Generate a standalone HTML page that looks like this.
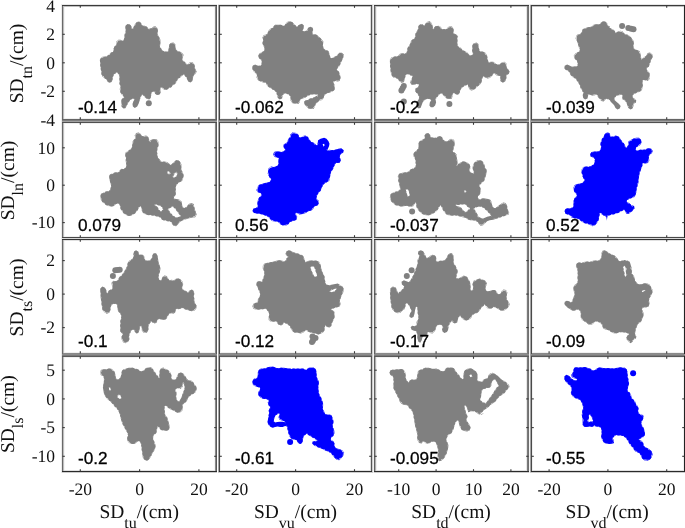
<!DOCTYPE html><html><head><meta charset="utf-8"><style>html,body{margin:0;padding:0;background:#fff;overflow:hidden}svg{display:block;will-change:transform}.s{font-family:"Liberation Serif",serif;text-rendering:geometricPrecision}.a{font-family:"Liberation Sans",sans-serif}</style></head><body>
<svg width="685" height="528" viewBox="0 0 685 528">
<path d="M100.3,65.8 L101.5,74.3 L102.6,76.7 L106.4,79.5 L107.8,81.9 L109.7,82.8 L111.6,81.9 L112.6,79.5 L113.0,76.7 L114.0,74.3 L117.3,72.4 L118.7,74.3 L119.7,76.7 L119.2,80.0 L119.5,83.8 L120.6,86.6 L119.7,89.0 L120.4,92.3 L122.0,95.1 L124.4,97.0 L122.5,98.5 L121.1,100.4 L121.1,103.7 L121.6,106.7 L123.5,108.6 L125.4,108.2 L128.2,102.7 L130.1,99.9 L132.5,98.5 L134.6,99.4 L133.4,101.3 L132.5,104.1 L132.9,106.5 L134.8,107.9 L137.2,106.5 L138.6,103.7 L141.0,96.6 L142.4,94.2 L145.2,97.8 L147.4,98.9 L149.3,99.4 L150.7,98.0 L151.2,95.6 L151.2,93.2 L152.6,91.8 L154.5,91.4 L155.0,93.7 L156.9,95.1 L159.3,94.7 L160.7,92.8 L160.2,89.0 L161.2,87.1 L162.6,88.5 L164.5,89.9 L166.8,89.9 L168.7,88.0 L171.1,87.6 L172.0,85.7 L173.9,84.7 L175.8,83.3 L176.8,80.9 L178.2,78.6 L180.6,77.2 L182.5,75.3 L183.9,74.3 L187.2,79.0 L188.1,81.4 L190.5,82.4 L192.4,80.9 L192.9,78.1 L193.8,75.3 L195.7,73.8 L196.7,71.5 L195.2,69.1 L194.7,66.0 L193.8,63.4 L192.4,62.0 L190.1,62.0 L187.3,64.8 L185.9,62.9 L184.0,61.5 L182.2,59.7 L182.7,57.4 L183.6,55.0 L182.7,53.2 L180.3,51.8 L177.6,51.3 L175.7,49.0 L175.7,46.7 L175.2,43.9 L173.4,42.5 L170.6,43.0 L169.2,44.8 L168.7,49.0 L167.8,51.8 L163.2,50.9 L161.3,49.0 L159.9,46.7 L160.4,43.4 L160.4,39.7 L157.6,34.2 L158.1,30.9 L157.1,27.7 L155.3,26.3 L153.0,26.7 L152.0,28.1 L149.7,28.6 L148.9,29.1 L146.1,26.3 L143.8,25.4 L141.9,25.4 L141.0,23.0 L139.2,21.6 L136.8,22.1 L135.0,24.0 L133.6,27.2 L132.2,29.1 L131.3,26.3 L129.9,24.4 L127.6,24.0 L125.7,25.4 L125.2,28.1 L125.7,31.4 L124.8,33.7 L123.8,39.7 L122.4,41.1 L120.6,39.7 L118.3,39.7 L116.4,41.6 L116.4,44.8 L114.6,46.7 L113.2,49.0 L113.2,51.8 L110.8,52.7 L109.0,54.6 L106.7,56.4 L103.9,56.0 L101.1,57.4 L99.9,59.7 L100.2,66.0 L100.3,65.8ZM101.1,65.4 L102.4,74.1 L103.3,76.1 L107.0,78.9 L108.5,81.2 L109.3,81.6 L107.9,81.1 L106.6,79.3 L103.2,76.7 L101.9,74.4 L100.4,65.0 L100.2,60.2 L100.5,59.1 L101.6,57.5 L103.4,56.6 L104.5,56.4 L106.8,56.7 L111.0,53.0 L113.4,52.0 L113.6,48.9 L114.8,46.9 L116.7,45.0 L116.8,42.1 L117.8,40.6 L119.0,40.1 L120.1,40.1 L122.5,41.4 L124.1,39.9 L125.1,33.8 L126.0,31.4 L125.6,28.3 L125.7,27.0 L126.0,26.3 L126.6,25.4 L127.5,24.9 L128.3,24.7 L129.3,24.9 L130.0,25.3 L130.9,26.3 L131.9,29.2 L132.3,29.3 L133.8,27.4 L135.4,24.0 L137.0,22.5 L138.7,22.2 L139.6,22.4 L140.5,23.1 L141.8,25.6 L143.7,25.7 L145.7,26.4 L148.8,29.3 L152.2,28.4 L153.1,27.5 L154.1,27.0 L155.4,27.1 L156.3,27.6 L157.1,28.7 L157.7,30.7 L157.3,34.3 L160.0,39.9 L160.1,43.2 L159.6,46.7 L161.2,49.3 L163.1,51.2 L167.9,52.1 L169.0,49.1 L169.5,45.4 L169.9,44.4 L170.9,43.4 L171.8,43.1 L173.1,43.1 L174.1,43.5 L174.8,44.3 L175.1,45.0 L175.4,46.7 L175.4,49.1 L177.3,51.5 L180.4,52.2 L182.1,53.3 L182.7,54.1 L182.9,55.7 L182.4,57.4 L182.0,59.9 L183.8,61.7 L185.6,63.1 L187.2,65.1 L189.5,63.0 L190.4,62.5 L191.9,62.5 L193.1,63.1 L193.7,64.0 L194.4,65.9 L195.0,69.2 L195.9,70.8 L196.0,71.9 L195.4,73.6 L193.6,75.1 L192.4,78.7 L191.7,79.8 L192.0,77.9 L193.0,74.9 L195.0,73.3 L195.7,71.5 L194.4,69.4 L193.8,66.2 L193.0,63.9 L192.0,62.9 L190.5,62.9 L187.9,65.5 L187.0,65.6 L185.3,63.6 L183.4,62.2 L181.6,60.3 L181.3,59.5 L181.8,57.1 L182.6,55.1 L182.0,53.8 L180.0,52.7 L177.3,52.2 L176.9,51.9 L174.9,49.4 L174.8,46.8 L174.4,44.4 L173.1,43.5 L171.1,43.8 L170.1,45.2 L169.6,49.2 L168.4,52.5 L167.6,52.7 L162.6,51.6 L160.6,49.6 L159.0,46.9 L159.5,43.4 L159.5,39.9 L156.7,34.4 L157.1,31.0 L156.4,28.2 L155.1,27.2 L153.5,27.6 L152.5,28.9 L148.6,29.9 L145.6,27.0 L143.6,26.3 L141.8,26.2 L141.4,26.0 L140.3,23.6 L138.9,22.6 L137.3,22.9 L135.7,24.5 L134.4,27.7 L132.9,29.7 L132.4,29.9 L131.9,29.9 L131.5,29.6 L130.5,26.7 L129.4,25.2 L127.8,24.9 L126.5,25.9 L126.1,28.1 L126.6,31.5 L125.6,33.9 L124.6,40.2 L123.0,41.8 L122.5,42.0 L122.0,41.9 L120.3,40.6 L118.6,40.6 L117.3,42.0 L117.2,45.3 L115.3,47.3 L114.1,49.3 L114.1,51.9 L113.8,52.4 L111.4,53.5 L109.6,55.3 L107.0,57.3 L104.0,56.9 L101.8,58.0 L100.8,59.9 L101.1,65.4ZM110.9,81.2 L111.7,79.3 L112.2,76.4 L113.2,73.8 L115.3,72.4 L116.9,71.6 L117.8,71.7 L119.5,73.8 L120.6,76.5 L120.1,80.0 L120.4,83.6 L121.5,86.5 L120.6,89.1 L121.3,92.0 L122.7,94.5 L125.0,96.4 L125.3,96.9 L125.1,97.6 L123.2,99.1 L122.0,100.7 L122.0,103.6 L122.4,106.0 L121.8,105.2 L121.5,104.4 L121.5,100.6 L122.7,98.8 L124.7,97.0 L122.3,94.9 L120.7,92.1 L120.1,89.0 L120.9,86.6 L119.8,83.6 L119.5,80.3 L120.0,76.6 L119.0,74.2 L117.5,72.2 L115.6,72.9 L113.8,74.1 L112.8,76.6 L112.0,80.2 L111.3,81.0 L110.9,81.3 L110.3,81.5 L110.9,81.2ZM125.2,106.5 L127.4,102.2 L129.6,99.2 L132.4,97.6 L135.4,98.9 L135.4,99.9 L134.8,99.2 L132.4,98.2 L129.9,99.6 L128.0,102.5 L126.5,105.5 L125.2,106.5ZM138.7,100.2 L140.2,96.2 L141.7,93.7 L142.3,93.3 L143.1,93.6 L145.8,97.1 L147.9,98.1 L149.0,98.4 L147.6,98.5 L145.7,97.7 L142.4,93.9 L140.7,96.4 L139.6,99.4 L138.7,100.2ZM149.9,97.5 L150.3,95.5 L150.3,93.2 L150.5,92.7 L152.3,91.0 L154.4,90.5 L155.1,90.6 L155.4,91.1 L155.7,92.5 L154.5,91.1 L152.5,91.6 L151.0,93.1 L150.9,95.6 L150.6,96.9 L150.0,97.8 L149.1,98.4 L149.9,97.5ZM159.3,89.1 L160.4,86.6 L161.0,86.2 L161.7,86.4 L164.8,89.0 L166.5,89.0 L168.3,87.2 L170.5,86.8 L171.4,85.0 L173.5,84.0 L175.1,82.7 L176.0,80.5 L177.5,78.0 L180.0,76.4 L181.9,74.6 L183.6,73.4 L184.5,73.6 L186.0,75.7 L188.0,78.6 L188.6,80.1 L187.7,79.3 L185.5,76.0 L184.1,74.1 L183.8,74.0 L182.3,75.0 L180.4,76.9 L178.0,78.4 L175.3,83.2 L173.8,84.5 L171.9,85.4 L170.6,87.1 L168.6,87.8 L166.9,89.3 L165.5,89.6 L164.1,89.2 L161.0,86.8 L159.9,88.9 L160.0,90.6 L159.6,91.8 L159.3,89.1Z" fill="#808080" fill-rule="evenodd"/>
<g fill="#808080"><circle cx="103.1" cy="64.9" r="3.0"/><circle cx="103.8" cy="69.1" r="3.0"/><circle cx="104.4" cy="73.2" r="3.0"/><circle cx="107.0" cy="76.2" r="3.0"/><circle cx="109.6" cy="78.6" r="3.0"/><circle cx="110.7" cy="74.5" r="3.0"/><circle cx="113.1" cy="71.3" r="3.0"/><circle cx="116.8" cy="69.5" r="3.0"/><circle cx="120.3" cy="71.4" r="3.0"/><circle cx="122.2" cy="75.1" r="3.0"/><circle cx="122.3" cy="79.1" r="3.0"/><circle cx="122.5" cy="83.3" r="3.0"/><circle cx="123.5" cy="87.3" r="3.0"/><circle cx="123.3" cy="91.3" r="3.0"/><circle cx="125.9" cy="94.5" r="3.0"/><circle cx="127.2" cy="98.0" r="3.0"/><circle cx="124.4" cy="101.0" r="3.0"/><circle cx="124.7" cy="103.1" r="3.0"/><circle cx="126.8" cy="99.5" r="3.0"/><circle cx="129.8" cy="96.7" r="3.0"/><circle cx="133.6" cy="95.7" r="3.0"/><circle cx="137.1" cy="97.8" r="3.0"/><circle cx="138.8" cy="94.3" r="3.0"/><circle cx="141.6" cy="91.4" r="3.0"/><circle cx="145.1" cy="92.9" r="3.0"/><circle cx="148.0" cy="95.8" r="3.0"/><circle cx="148.6" cy="91.9" r="3.0"/><circle cx="151.6" cy="89.0" r="3.0"/><circle cx="155.6" cy="88.7" r="3.0"/><circle cx="157.3" cy="88.7" r="3.0"/><circle cx="159.1" cy="85.0" r="3.0"/><circle cx="162.8" cy="84.7" r="3.0"/><circle cx="166.1" cy="86.5" r="3.0"/><circle cx="169.5" cy="84.4" r="3.0"/><circle cx="172.7" cy="81.8" r="3.0"/><circle cx="174.8" cy="78.4" r="3.0"/><circle cx="177.7" cy="75.4" r="3.0"/><circle cx="180.8" cy="72.8" r="3.0"/><circle cx="184.6" cy="71.5" r="3.0"/><circle cx="187.5" cy="74.3" r="3.0"/><circle cx="189.9" cy="77.7" r="3.0"/><circle cx="191.2" cy="73.8" r="3.0"/><circle cx="192.7" cy="70.7" r="3.0"/><circle cx="191.8" cy="66.6" r="3.0"/><circle cx="189.3" cy="66.9" r="3.0"/><circle cx="185.6" cy="67.2" r="3.0"/><circle cx="182.7" cy="64.2" r="3.0"/><circle cx="179.7" cy="61.3" r="3.0"/><circle cx="179.6" cy="57.3" r="3.0"/><circle cx="178.4" cy="54.5" r="3.0"/><circle cx="174.8" cy="52.7" r="3.0"/><circle cx="172.8" cy="49.2" r="3.0"/><circle cx="172.1" cy="46.2" r="3.0"/><circle cx="171.4" cy="50.3" r="3.0"/><circle cx="169.7" cy="54.1" r="3.0"/><circle cx="165.8" cy="54.4" r="3.0"/><circle cx="161.7" cy="53.4" r="3.0"/><circle cx="158.8" cy="50.5" r="3.0"/><circle cx="157.0" cy="46.8" r="3.0"/><circle cx="157.3" cy="42.7" r="3.0"/><circle cx="156.5" cy="38.7" r="3.0"/><circle cx="154.7" cy="34.9" r="3.0"/><circle cx="154.9" cy="30.8" r="3.0"/><circle cx="152.1" cy="31.2" r="3.0"/><circle cx="148.0" cy="31.9" r="3.0"/><circle cx="144.9" cy="29.3" r="3.0"/><circle cx="141.0" cy="28.1" r="3.0"/><circle cx="138.5" cy="25.0" r="3.0"/><circle cx="136.4" cy="28.2" r="3.0"/><circle cx="133.9" cy="31.5" r="3.0"/><circle cx="130.1" cy="31.2" r="3.0"/><circle cx="128.4" cy="27.5" r="3.0"/><circle cx="128.6" cy="31.7" r="3.0"/><circle cx="127.5" cy="35.7" r="3.0"/><circle cx="126.9" cy="39.8" r="3.0"/><circle cx="124.6" cy="43.2" r="3.0"/><circle cx="120.8" cy="43.6" r="3.0"/><circle cx="119.3" cy="45.3" r="3.0"/><circle cx="116.9" cy="48.6" r="3.0"/><circle cx="116.0" cy="52.6" r="3.0"/><circle cx="113.0" cy="55.1" r="3.0"/><circle cx="109.8" cy="57.8" r="3.0"/><circle cx="106.1" cy="59.4" r="3.0"/><circle cx="102.9" cy="60.8" r="3.0"/><circle cx="148.8" cy="103.2" r="3.0"/></g>
<path d="M259.4,65.8 L257.5,65.8 L255.1,64.4 L252.7,65.8 L252.3,69.1 L253.7,71.5 L255.6,72.9 L257.0,75.3 L256.5,77.6 L257.9,80.0 L260.3,81.4 L263.2,82.4 L266.0,82.8 L266.5,84.7 L267.9,86.6 L274.5,90.4 L276.4,92.3 L276.9,95.1 L277.8,98.0 L279.7,99.4 L282.1,98.5 L282.6,96.1 L283.5,94.2 L285.4,93.2 L287.8,94.2 L289.7,95.6 L290.6,98.0 L290.6,100.8 L292.5,103.2 L298.4,104.1 L299.8,102.2 L300.3,99.4 L305.5,97.5 L308.3,95.6 L311.6,94.7 L314.9,94.2 L318.3,94.7 L317.3,95.6 L312.6,98.0 L310.2,98.5 L307.8,99.9 L305.5,100.4 L304.0,101.8 L304.5,104.1 L306.4,106.5 L308.3,108.4 L311.2,108.9 L313.5,108.9 L314.9,107.0 L315.4,104.6 L317.3,102.2 L319.7,100.8 L322.0,99.9 L323.5,98.0 L324.4,95.1 L326.8,93.2 L329.6,92.8 L332.0,91.8 L334.4,89.9 L334.8,87.1 L334.4,84.3 L332.9,81.9 L335.3,80.9 L337.7,81.4 L339.6,80.9 L340.5,78.1 L340.0,74.3 L338.6,71.5 L336.7,69.6 L337.7,67.7 L339.6,66.0 L340.5,63.4 L343.3,57.8 L343.8,54.6 L341.9,52.7 L339.2,52.7 L337.3,55.5 L335.0,56.4 L333.1,57.8 L331.3,58.3 L329.9,56.0 L329.4,53.2 L328.5,50.9 L325.7,49.9 L323.4,48.6 L322.9,44.8 L323.4,41.6 L321.1,38.8 L318.7,36.5 L316.0,34.6 L312.7,34.6 L312.2,32.3 L313.2,30.0 L312.7,27.7 L310.4,26.7 L308.1,27.7 L307.1,30.0 L304.8,31.4 L302.5,30.9 L303.4,28.6 L303.9,25.4 L302.0,23.7 L298.6,24.9 L297.6,26.7 L295.8,25.8 L292.1,22.1 L289.3,21.2 L287.0,22.1 L285.6,24.0 L284.7,25.8 L281.9,24.9 L278.6,24.4 L275.8,24.4 L274.0,25.8 L273.1,27.7 L270.7,28.6 L268.9,30.0 L268.0,32.3 L266.6,34.6 L263.8,35.1 L262.4,37.4 L263.3,40.2 L262.4,43.0 L263.3,45.8 L264.7,48.6 L264.2,50.9 L261.9,52.3 L259.6,53.2 L258.2,55.5 L259.1,58.3 L261.5,60.2 L261.7,64.8 L259.4,65.8ZM255.7,72.6 L253.9,71.2 L252.8,69.4 L252.8,67.7 L253.4,66.3 L254.3,65.6 L254.8,65.5 L255.3,65.4 L256.3,65.5 L257.4,66.1 L259.4,66.1 L262.0,64.9 L261.7,60.0 L259.5,58.1 L258.9,56.7 L258.8,55.7 L259.2,54.5 L260.0,53.5 L262.1,52.5 L264.5,50.9 L265.0,48.5 L263.5,45.5 L262.8,43.1 L263.6,40.2 L263.1,38.4 L263.0,37.4 L263.7,36.0 L264.7,35.3 L266.8,34.9 L269.4,30.1 L271.0,28.8 L273.2,27.9 L274.4,26.0 L276.1,24.8 L278.4,24.7 L281.6,25.1 L284.7,26.1 L287.0,22.6 L288.4,21.9 L289.4,21.7 L292.0,22.5 L295.6,26.0 L297.6,27.0 L297.9,27.0 L298.4,26.1 L299.2,25.4 L300.9,25.0 L299.2,25.6 L298.3,27.4 L297.4,27.6 L295.2,26.5 L291.6,22.9 L289.3,22.1 L287.5,22.8 L285.0,26.6 L284.5,26.7 L281.7,25.8 L278.6,25.3 L276.1,25.3 L274.7,26.4 L273.6,28.4 L271.2,29.4 L269.6,30.6 L268.8,32.7 L267.2,35.2 L266.8,35.5 L264.3,35.9 L263.4,37.5 L264.2,40.2 L263.3,43.0 L264.1,45.4 L265.6,48.5 L265.1,51.2 L262.4,53.0 L260.2,53.9 L259.2,55.6 L259.9,57.8 L262.3,59.9 L262.6,65.2 L262.1,65.6 L259.4,66.7 L257.2,66.7 L255.1,65.4 L253.6,66.3 L253.2,68.9 L254.4,70.9 L256.3,72.4 L257.8,74.9 L257.5,77.5 L258.6,79.3 L260.7,80.6 L263.4,81.5 L266.5,82.1 L266.8,82.5 L267.3,84.3 L268.5,85.9 L275.2,89.8 L277.2,91.9 L277.8,94.9 L278.4,97.0 L277.7,96.3 L277.3,95.6 L276.6,92.1 L274.6,90.1 L268.1,86.4 L266.8,84.6 L266.2,82.6 L263.2,82.1 L260.7,81.2 L258.1,79.6 L257.0,77.5 L257.3,75.2 L255.7,72.6ZM302.8,26.3 L303.2,28.1 L302.2,30.8 L302.3,31.2 L304.9,31.7 L308.3,29.6 L307.8,30.5 L305.0,32.3 L301.9,31.6 L301.6,30.8 L302.5,28.4 L302.8,26.3ZM311.8,31.2 L312.5,34.9 L315.3,34.9 L316.5,35.4 L318.7,36.9 L322.4,41.0 L322.9,42.4 L322.6,44.8 L323.1,48.7 L325.6,50.2 L327.5,50.9 L328.3,51.6 L329.1,53.3 L329.6,56.1 L331.1,58.5 L333.2,58.1 L335.2,56.7 L337.4,55.8 L338.7,54.1 L339.8,53.4 L340.9,53.4 L341.9,53.7 L342.7,54.4 L343.2,55.6 L343.0,57.9 L340.3,63.2 L339.5,65.4 L337.4,67.5 L336.4,69.5 L338.4,71.8 L339.7,74.3 L340.1,77.7 L339.6,79.6 L339.0,80.4 L338.0,80.9 L337.0,81.0 L335.3,80.6 L332.7,81.7 L332.7,82.0 L334.0,84.4 L334.4,86.6 L334.2,88.7 L333.8,89.8 L331.5,91.7 L329.5,92.5 L326.5,93.1 L324.2,95.0 L323.2,97.7 L322.1,99.2 L321.4,99.8 L319.7,100.4 L318.8,100.3 L321.5,99.1 L322.7,97.6 L323.7,94.6 L326.2,92.5 L329.4,91.9 L331.5,91.0 L333.5,89.4 L333.9,87.1 L333.5,84.6 L332.1,82.1 L332.3,81.2 L335.1,80.1 L337.6,80.5 L338.9,80.2 L339.6,78.0 L339.2,74.6 L337.9,72.0 L336.0,70.1 L335.8,69.4 L337.0,67.1 L338.8,65.5 L339.7,63.0 L342.5,57.6 L342.8,54.9 L341.6,53.6 L339.6,53.6 L337.8,56.3 L335.4,57.2 L333.4,58.7 L331.4,59.2 L330.7,59.0 L329.0,56.3 L328.5,53.4 L327.8,51.6 L325.3,50.8 L322.6,48.9 L322.0,44.9 L322.4,41.9 L318.2,37.2 L315.7,35.5 L312.6,35.5 L312.1,35.3 L311.3,32.4 L311.8,31.2ZM318.0,100.8 L315.2,104.5 L314.7,106.5 L314.3,107.4 L313.6,108.1 L312.6,108.5 L310.9,108.5 L308.3,107.9 L305.4,104.7 L304.8,103.5 L304.8,102.7 L305.1,101.7 L306.2,100.6 L307.9,100.2 L310.5,98.7 L312.7,98.3 L314.7,97.3 L316.0,97.3 L312.9,98.8 L310.5,99.3 L308.2,100.7 L305.9,101.2 L305.0,102.1 L305.4,103.7 L308.7,107.6 L311.2,108.0 L313.1,108.0 L314.1,106.6 L314.7,104.1 L316.7,101.6 L318.0,100.8ZM316.9,96.8 L318.5,94.8 L318.4,94.4 L314.9,93.9 L311.5,94.4 L308.2,95.3 L305.2,97.3 L300.1,99.2 L299.3,102.3 L298.3,103.2 L297.1,103.6 L293.4,103.0 L292.2,102.3 L291.0,100.5 L290.9,97.9 L289.9,95.5 L287.8,93.9 L285.2,93.0 L283.3,94.0 L282.2,96.1 L281.5,96.9 L281.7,95.8 L282.8,93.6 L285.1,92.4 L285.7,92.4 L288.2,93.4 L290.4,95.1 L291.5,97.8 L291.5,100.5 L293.0,102.4 L298.0,103.2 L298.9,101.9 L299.4,99.2 L299.7,98.7 L305.1,96.7 L308.0,94.8 L311.4,93.8 L314.9,93.3 L318.7,93.9 L319.1,94.5 L319.0,95.2 L317.9,96.3 L316.9,96.8Z" fill="#808080" fill-rule="evenodd"/>
<g fill="#808080"><circle cx="255.4" cy="68.1" r="3.0"/><circle cx="258.0" cy="71.1" r="3.0"/><circle cx="259.9" cy="74.8" r="3.0"/><circle cx="261.0" cy="78.3" r="3.0"/><circle cx="265.0" cy="79.6" r="3.0"/><circle cx="268.6" cy="81.4" r="3.0"/><circle cx="270.7" cy="84.8" r="3.0"/><circle cx="274.3" cy="86.9" r="3.0"/><circle cx="277.6" cy="89.3" r="3.0"/><circle cx="279.6" cy="92.9" r="3.0"/><circle cx="280.9" cy="92.6" r="3.0"/><circle cx="284.4" cy="90.4" r="3.0"/><circle cx="288.4" cy="91.3" r="3.0"/><circle cx="291.8" cy="93.6" r="3.0"/><circle cx="293.5" cy="97.4" r="3.0"/><circle cx="295.1" cy="100.6" r="3.0"/><circle cx="297.4" cy="98.6" r="3.0"/><circle cx="300.5" cy="96.1" r="3.0"/><circle cx="304.4" cy="94.6" r="3.0"/><circle cx="308.0" cy="92.6" r="3.0"/><circle cx="312.0" cy="91.6" r="3.0"/><circle cx="316.2" cy="91.4" r="3.0"/><circle cx="320.1" cy="92.4" r="3.0"/><circle cx="321.5" cy="94.6" r="3.0"/><circle cx="324.2" cy="91.5" r="3.0"/><circle cx="327.9" cy="90.0" r="3.0"/><circle cx="331.6" cy="88.2" r="3.0"/><circle cx="330.9" cy="84.2" r="3.0"/><circle cx="330.4" cy="80.4" r="3.0"/><circle cx="333.9" cy="78.3" r="3.0"/><circle cx="337.4" cy="77.5" r="3.0"/><circle cx="336.3" cy="73.6" r="3.0"/><circle cx="333.9" cy="70.3" r="3.0"/><circle cx="335.0" cy="66.4" r="3.0"/><circle cx="337.5" cy="63.1" r="3.0"/><circle cx="339.2" cy="59.3" r="3.0"/><circle cx="340.2" cy="56.5" r="3.0"/><circle cx="336.9" cy="58.9" r="3.0"/><circle cx="333.3" cy="60.8" r="3.0"/><circle cx="329.3" cy="60.5" r="3.0"/><circle cx="327.1" cy="57.0" r="3.0"/><circle cx="325.9" cy="53.2" r="3.0"/><circle cx="322.2" cy="51.3" r="3.0"/><circle cx="320.3" cy="47.8" r="3.0"/><circle cx="320.1" cy="43.7" r="3.0"/><circle cx="318.2" cy="40.3" r="3.0"/><circle cx="315.0" cy="37.6" r="3.0"/><circle cx="311.0" cy="37.0" r="3.0"/><circle cx="309.5" cy="33.3" r="3.0"/><circle cx="306.7" cy="33.7" r="3.0"/><circle cx="302.7" cy="34.0" r="3.0"/><circle cx="299.6" cy="31.6" r="3.0"/><circle cx="300.5" cy="27.8" r="3.0"/><circle cx="297.1" cy="29.7" r="3.0"/><circle cx="293.5" cy="27.7" r="3.0"/><circle cx="290.5" cy="24.8" r="3.0"/><circle cx="287.5" cy="26.6" r="3.0"/><circle cx="284.3" cy="28.7" r="3.0"/><circle cx="280.3" cy="27.7" r="3.0"/><circle cx="276.3" cy="27.9" r="3.0"/><circle cx="273.4" cy="30.7" r="3.0"/><circle cx="270.7" cy="33.5" r="3.0"/><circle cx="268.4" cy="37.0" r="3.0"/><circle cx="266.0" cy="39.1" r="3.0"/><circle cx="265.6" cy="43.1" r="3.0"/><circle cx="267.2" cy="47.0" r="3.0"/><circle cx="267.2" cy="51.1" r="3.0"/><circle cx="264.7" cy="54.1" r="3.0"/><circle cx="261.6" cy="56.3" r="3.0"/><circle cx="264.3" cy="59.4" r="3.0"/><circle cx="264.6" cy="63.6" r="3.0"/><circle cx="263.4" cy="67.3" r="3.0"/><circle cx="259.5" cy="68.7" r="3.0"/><circle cx="321.0" cy="95.9" r="3.0"/><circle cx="315.4" cy="99.9" r="3.0"/><circle cx="311.4" cy="101.3" r="3.0"/><circle cx="307.5" cy="103.0" r="3.0"/><circle cx="310.5" cy="105.7" r="3.0"/><circle cx="312.8" cy="103.2" r="3.0"/></g>
<path d="M390.8,72.6 L391.8,75.5 L393.2,77.4 L396.1,77.9 L398.0,79.3 L399.5,81.3 L401.4,82.7 L403.8,82.2 L404.8,79.8 L405.3,76.5 L406.7,74.0 L408.6,74.5 L413.0,76.5 L411.2,79.2 L410.1,82.2 L411.2,84.6 L413.2,85.1 L416.8,83.7 L419.2,85.1 L417.8,87.2 L415.4,88.5 L415.4,91.4 L417.8,94.3 L419.2,96.7 L418.8,99.1 L417.3,101.5 L416.6,104.4 L417.0,107.3 L418.8,108.4 L420.7,107.8 L422.6,102.5 L424.1,100.5 L426.5,99.1 L429.4,99.1 L431.3,100.1 L429.8,102.5 L429.4,105.4 L430.8,107.3 L433.2,107.3 L435.1,105.4 L436.1,102.5 L435.6,99.6 L437.1,97.2 L439.0,94.8 L440.9,93.3 L442.8,94.3 L444.8,96.7 L446.7,98.4 L449.4,99.1 L451.4,99.1 L452.3,97.2 L452.8,93.8 L454.3,92.8 L455.7,94.3 L458.1,94.8 L459.6,92.8 L460.5,89.5 L462.0,87.5 L463.4,86.6 L465.8,85.6 L467.8,84.2 L468.2,86.6 L469.2,89.0 L471.1,90.4 L473.5,89.9 L480.8,83.7 L481.7,81.3 L482.2,78.4 L483.2,76.5 L487.5,78.4 L489.9,77.9 L491.8,76.0 L493.3,74.0 L494.7,73.1 L495.7,75.0 L498.1,76.0 L500.5,76.0 L500.0,78.4 L500.5,81.3 L502.9,82.7 L505.3,81.3 L506.3,78.4 L506.3,75.0 L508.7,74.0 L509.7,71.6 L506.8,67.8 L506.8,66.0 L506.3,63.2 L504.4,61.8 L502.0,62.3 L500.5,63.7 L498.1,64.7 L495.7,63.7 L493.3,61.8 L490.9,61.8 L488.5,62.3 L487.5,58.4 L487.0,55.1 L485.1,52.6 L482.7,51.7 L479.8,51.2 L478.8,47.8 L478.4,44.0 L476.4,42.5 L473.5,43.5 L472.1,45.9 L472.1,50.7 L473.1,54.6 L470.6,55.5 L468.7,54.6 L467.3,52.6 L465.3,51.2 L462.5,50.2 L460.5,47.4 L458.1,46.4 L457.2,43.5 L458.1,36.3 L455.7,34.3 L453.3,32.9 L453.8,29.5 L452.0,26.6 L450.1,26.2 L448.1,27.1 L446.7,29.0 L441.9,29.0 L440.9,27.1 L438.5,25.7 L435.6,26.2 L434.2,27.6 L433.2,29.5 L432.7,26.6 L431.8,23.3 L429.8,21.3 L427.4,21.8 L425.5,23.7 L424.1,25.7 L422.6,24.2 L420.2,24.2 L418.3,26.2 L418.3,29.0 L416.4,31.5 L415.4,34.3 L414.9,37.7 L413.5,39.2 L411.1,40.6 L410.1,44.0 L407.2,48.8 L406.7,52.6 L404.8,54.1 L402.4,53.1 L399.5,54.1 L398.0,56.0 L394.7,56.5 L391.3,57.5 L389.9,59.4 L390.0,66.0 L390.8,72.6ZM391.2,69.6 L391.7,72.4 L392.6,75.1 L393.7,76.6 L396.6,77.1 L398.6,78.7 L400.1,80.6 L401.6,81.8 L403.2,81.4 L403.9,79.6 L404.4,76.2 L406.3,73.2 L406.8,73.2 L408.9,73.7 L413.5,75.7 L413.8,76.2 L413.8,76.8 L412.1,79.6 L411.1,82.2 L411.9,83.8 L411.0,82.8 L410.8,81.3 L411.5,79.3 L413.3,76.4 L408.8,74.3 L406.8,73.8 L406.5,73.9 L405.0,76.4 L404.2,80.5 L403.3,81.5 L402.1,81.9 L401.1,81.9 L400.2,81.4 L398.3,79.1 L396.3,77.6 L394.0,77.2 L392.9,76.5 L391.9,74.9 L391.1,72.5 L390.7,69.8 L390.3,66.0 L390.3,59.7 L390.9,58.5 L391.9,57.7 L394.5,56.9 L398.2,56.3 L399.3,54.8 L400.2,54.2 L402.5,53.6 L404.8,54.4 L406.9,52.9 L407.5,48.9 L410.4,44.1 L411.2,41.4 L411.8,40.6 L413.7,39.4 L415.2,37.8 L415.8,34.2 L416.7,31.6 L418.6,29.1 L418.6,27.1 L419.0,25.9 L420.1,24.9 L421.4,24.6 L422.7,24.9 L424.2,25.9 L427.2,22.5 L427.8,22.1 L428.9,21.9 L430.4,22.4 L431.5,23.6 L432.4,26.5 L432.9,29.6 L433.2,29.8 L433.5,29.7 L434.4,27.9 L435.4,26.9 L436.1,26.4 L437.5,26.2 L438.8,26.3 L440.2,27.1 L441.9,29.3 L446.8,29.3 L448.1,27.7 L449.0,27.0 L450.3,26.7 L451.6,27.1 L452.4,27.8 L453.3,29.5 L453.1,33.1 L456.6,35.5 L457.5,36.8 L457.6,37.9 L456.9,43.5 L457.9,46.5 L460.2,47.7 L462.3,50.5 L465.3,51.6 L467.1,53.0 L468.5,54.8 L470.5,55.8 L473.2,54.8 L473.3,54.5 L472.4,50.7 L472.5,46.0 L473.4,44.4 L474.2,43.7 L475.5,43.3 L476.8,43.6 L477.6,44.2 L478.1,45.1 L478.5,47.9 L479.6,51.4 L482.6,52.0 L484.5,52.8 L485.2,53.2 L486.4,54.8 L488.3,62.5 L490.9,62.1 L493.0,62.2 L495.5,64.0 L498.1,65.0 L500.7,64.0 L502.4,62.6 L503.6,62.3 L504.6,62.5 L505.5,63.1 L506.1,64.0 L506.5,66.1 L506.5,67.9 L508.4,70.5 L508.8,71.9 L508.1,73.6 L506.0,74.9 L505.7,76.1 L506.0,78.2 L505.7,79.3 L504.9,80.5 L503.9,81.1 L504.6,80.7 L505.4,78.2 L505.5,74.6 L505.9,74.2 L508.0,73.4 L508.6,71.8 L505.9,68.1 L505.9,66.1 L505.5,63.8 L504.1,62.8 L502.4,63.1 L500.9,64.5 L498.1,65.6 L495.3,64.5 L493.0,62.7 L491.0,62.7 L488.6,63.2 L488.0,63.0 L487.6,62.6 L486.6,58.6 L486.2,55.4 L484.5,53.4 L482.4,52.6 L479.6,52.1 L479.1,51.8 L478.0,48.0 L477.5,44.5 L476.3,43.5 L474.1,44.2 L473.0,46.2 L473.0,50.6 L473.9,54.4 L473.8,55.1 L470.6,56.4 L468.3,55.4 L466.6,53.3 L464.9,52.0 L461.9,51.0 L459.9,48.1 L457.7,47.2 L457.3,46.8 L456.3,43.5 L457.2,36.7 L452.5,33.4 L452.4,32.9 L452.8,29.7 L451.5,27.4 L450.2,27.1 L448.7,27.8 L447.4,29.7 L446.9,29.9 L441.8,29.9 L441.2,29.6 L440.2,27.8 L438.3,26.6 L436.1,27.0 L434.9,28.1 L433.9,30.1 L433.0,30.4 L432.3,29.8 L431.9,26.8 L431.0,23.7 L429.5,22.3 L427.9,22.6 L424.4,26.5 L423.6,26.4 L422.2,25.1 L420.6,25.1 L419.2,26.5 L419.1,29.3 L417.2,31.9 L416.3,34.6 L415.7,38.1 L414.0,39.9 L411.8,41.2 L410.9,44.4 L408.1,49.1 L407.6,52.8 L407.3,53.3 L405.1,54.9 L404.5,55.0 L402.4,54.1 L400.0,54.9 L398.3,56.9 L394.9,57.4 L391.8,58.2 L390.8,59.7 L391.2,69.6ZM413.1,84.2 L416.9,82.8 L419.7,84.4 L420.1,84.8 L420.0,85.6 L418.5,87.8 L416.3,89.0 L416.3,91.1 L418.5,93.8 L420.1,96.5 L419.5,99.6 L419.3,98.4 L419.5,96.6 L418.0,94.1 L416.2,91.8 L415.7,90.3 L416.2,88.8 L416.7,88.2 L418.0,87.4 L419.5,85.0 L416.9,83.4 L413.8,84.4 L412.8,84.3 L411.9,83.9 L413.1,84.2ZM423.3,100.0 L426.2,98.2 L429.4,98.2 L431.8,99.3 L432.2,100.0 L432.2,100.2 L429.4,98.8 L426.4,98.8 L422.6,101.0 L423.3,100.0ZM434.8,100.0 L434.8,99.2 L436.3,96.7 L438.3,94.2 L440.8,92.4 L443.4,93.6 L445.4,96.1 L447.1,97.6 L449.6,98.2 L450.8,98.2 L451.5,96.9 L451.9,93.6 L452.2,93.2 L453.8,92.0 L454.4,91.9 L454.8,92.1 L456.2,93.4 L457.7,93.8 L458.7,92.4 L459.7,89.1 L461.3,86.9 L463.0,85.8 L465.4,84.8 L467.5,83.3 L468.1,83.3 L468.5,83.7 L469.1,86.3 L469.9,88.4 L471.3,89.5 L473.1,89.1 L480.0,83.1 L480.9,81.0 L481.4,78.1 L482.4,76.0 L482.9,75.6 L483.5,75.6 L487.6,77.4 L489.5,77.1 L491.2,75.4 L492.7,73.4 L494.7,72.2 L495.4,72.5 L496.3,74.3 L498.3,75.1 L500.8,75.1 L501.3,75.6 L500.9,78.4 L501.3,80.5 L500.7,79.7 L500.4,78.6 L500.9,76.2 L500.7,75.8 L498.2,75.6 L496.6,75.0 L495.8,74.3 L494.8,72.8 L493.1,73.8 L491.5,75.9 L490.1,77.2 L489.2,77.7 L488.1,77.9 L487.0,77.9 L483.1,76.2 L481.9,78.3 L481.4,81.2 L480.5,83.3 L475.6,87.9 L473.5,89.5 L471.6,89.9 L470.7,89.6 L469.9,89.1 L469.2,88.1 L468.5,86.5 L468.0,84.1 L467.7,83.9 L465.8,85.3 L463.3,86.3 L461.8,87.3 L460.3,89.3 L459.4,92.2 L458.4,93.5 L458.0,93.7 L457.4,93.9 L456.4,93.9 L455.4,93.5 L454.2,92.5 L452.6,93.6 L451.9,97.1 L451.5,97.7 L450.7,98.4 L449.2,98.6 L446.7,97.9 L445.0,96.5 L443.0,94.1 L440.9,93.0 L438.8,94.6 L436.9,96.9 L435.4,99.4 L434.8,100.0Z" fill="#808080" fill-rule="evenodd"/>
<g fill="#808080"><circle cx="393.0" cy="65.9" r="3.0"/><circle cx="393.5" cy="70.1" r="3.0"/><circle cx="394.5" cy="74.1" r="3.0"/><circle cx="398.2" cy="75.7" r="3.0"/><circle cx="401.3" cy="78.6" r="3.0"/><circle cx="402.4" cy="75.9" r="3.0"/><circle cx="404.3" cy="72.2" r="3.0"/><circle cx="408.1" cy="71.3" r="3.0"/><circle cx="412.1" cy="72.8" r="3.0"/><circle cx="415.5" cy="75.0" r="3.0"/><circle cx="414.9" cy="78.8" r="3.0"/><circle cx="414.4" cy="81.4" r="3.0"/><circle cx="418.4" cy="81.2" r="3.0"/><circle cx="421.8" cy="83.6" r="3.0"/><circle cx="421.2" cy="87.5" r="3.0"/><circle cx="418.5" cy="90.4" r="3.0"/><circle cx="421.0" cy="93.8" r="3.0"/><circle cx="422.1" cy="97.7" r="3.0"/><circle cx="424.9" cy="96.6" r="3.0"/><circle cx="429.0" cy="96.1" r="3.0"/><circle cx="432.9" cy="97.6" r="3.0"/><circle cx="435.3" cy="94.6" r="3.0"/><circle cx="438.2" cy="91.6" r="3.0"/><circle cx="442.1" cy="90.6" r="3.0"/><circle cx="445.5" cy="92.9" r="3.0"/><circle cx="448.5" cy="95.7" r="3.0"/><circle cx="450.0" cy="92.8" r="3.0"/><circle cx="453.1" cy="90.1" r="3.0"/><circle cx="456.9" cy="91.2" r="3.0"/><circle cx="458.4" cy="87.4" r="3.0"/><circle cx="461.3" cy="84.4" r="3.0"/><circle cx="465.0" cy="82.5" r="3.0"/><circle cx="468.8" cy="81.4" r="3.0"/><circle cx="470.9" cy="84.8" r="3.0"/><circle cx="473.1" cy="86.4" r="3.0"/><circle cx="476.3" cy="83.6" r="3.0"/><circle cx="478.8" cy="80.4" r="3.0"/><circle cx="479.9" cy="76.3" r="3.0"/><circle cx="482.7" cy="73.6" r="3.0"/><circle cx="486.7" cy="74.8" r="3.0"/><circle cx="489.9" cy="73.4" r="3.0"/><circle cx="493.1" cy="70.6" r="3.0"/><circle cx="496.9" cy="71.1" r="3.0"/><circle cx="500.1" cy="73.1" r="3.0"/><circle cx="503.4" cy="74.6" r="3.0"/><circle cx="506.0" cy="71.8" r="3.0"/><circle cx="503.9" cy="68.2" r="3.0"/><circle cx="502.8" cy="65.7" r="3.0"/><circle cx="499.1" cy="67.5" r="3.0"/><circle cx="495.1" cy="66.7" r="3.0"/><circle cx="491.5" cy="64.9" r="3.0"/><circle cx="487.3" cy="65.0" r="3.0"/><circle cx="485.2" cy="61.6" r="3.0"/><circle cx="484.3" cy="57.5" r="3.0"/><circle cx="481.9" cy="54.6" r="3.0"/><circle cx="477.9" cy="53.4" r="3.0"/><circle cx="476.2" cy="49.7" r="3.0"/><circle cx="475.3" cy="46.4" r="3.0"/><circle cx="475.1" cy="50.5" r="3.0"/><circle cx="476.0" cy="54.6" r="3.0"/><circle cx="473.5" cy="57.6" r="3.0"/><circle cx="469.5" cy="58.3" r="3.0"/><circle cx="466.1" cy="55.9" r="3.0"/><circle cx="462.8" cy="53.5" r="3.0"/><circle cx="459.5" cy="51.2" r="3.0"/><circle cx="456.3" cy="48.7" r="3.0"/><circle cx="454.6" cy="45.0" r="3.0"/><circle cx="454.5" cy="40.8" r="3.0"/><circle cx="454.2" cy="37.1" r="3.0"/><circle cx="450.8" cy="34.6" r="3.0"/><circle cx="450.6" cy="30.5" r="3.0"/><circle cx="448.2" cy="31.6" r="3.0"/><circle cx="444.0" cy="32.0" r="3.0"/><circle cx="440.0" cy="31.4" r="3.0"/><circle cx="437.1" cy="29.0" r="3.0"/><circle cx="434.5" cy="32.1" r="3.0"/><circle cx="430.8" cy="31.2" r="3.0"/><circle cx="429.8" cy="27.2" r="3.0"/><circle cx="427.9" cy="25.7" r="3.0"/><circle cx="424.9" cy="28.5" r="3.0"/><circle cx="421.3" cy="27.5" r="3.0"/><circle cx="420.2" cy="31.4" r="3.0"/><circle cx="418.3" cy="35.1" r="3.0"/><circle cx="417.4" cy="39.2" r="3.0"/><circle cx="414.4" cy="42.0" r="3.0"/><circle cx="412.6" cy="45.6" r="3.0"/><circle cx="410.4" cy="49.2" r="3.0"/><circle cx="409.6" cy="53.3" r="3.0"/><circle cx="406.7" cy="56.2" r="3.0"/><circle cx="402.9" cy="56.5" r="3.0"/><circle cx="399.6" cy="58.5" r="3.0"/><circle cx="395.5" cy="59.4" r="3.0"/><circle cx="392.9" cy="61.7" r="3.0"/><circle cx="503.3" cy="77.4" r="3.0"/><circle cx="403.8" cy="86.1" r="3.0"/><circle cx="402.6" cy="88.2" r="3.0"/><circle cx="401.4" cy="90.4" r="3.0"/><circle cx="403.8" cy="101.5" r="3.0"/><circle cx="449.4" cy="103.9" r="3.0"/></g>
<path d="M574.2,66.3 L571.8,66.8 L569.5,65.4 L567.1,64.4 L564.7,65.8 L564.3,68.2 L565.7,70.1 L568.0,70.6 L569.5,72.5 L570.9,75.3 L573.3,77.7 L575.6,78.6 L578.5,82.9 L579.9,85.3 L580.4,88.1 L582.3,90.5 L583.2,92.8 L582.7,95.2 L583.2,98.0 L585.1,99.5 L587.5,98.5 L588.4,94.2 L592.7,95.7 L595.0,95.2 L596.5,94.2 L597.9,97.1 L599.8,99.0 L601.2,100.9 L603.6,101.4 L605.5,99.5 L606.0,98.5 L607.9,99.5 L609.8,99.9 L610.7,101.8 L614.0,105.1 L615.5,108.0 L617.4,109.4 L619.7,108.5 L620.7,106.1 L618.8,103.7 L616.4,101.8 L614.5,99.9 L615.0,97.6 L616.4,95.7 L621.6,94.7 L623.0,95.7 L622.1,97.1 L622.6,99.5 L624.9,100.4 L626.4,102.3 L628.3,108.0 L630.6,109.4 L632.5,108.5 L633.5,106.1 L633.5,103.7 L635.8,102.8 L636.3,100.4 L634.4,98.5 L632.5,97.6 L632.5,95.2 L634.4,93.8 L637.2,92.8 L640.1,91.4 L642.0,90.0 L642.9,84.8 L642.5,81.9 L643.4,79.6 L645.3,80.5 L647.7,81.0 L649.6,79.1 L649.6,72.9 L647.7,71.0 L646.2,69.2 L647.7,67.3 L648.6,67.0 L651.5,59.1 L652.9,56.8 L652.4,54.4 L650.0,52.5 L647.7,53.0 L646.2,55.8 L643.9,57.2 L642.5,58.7 L641.5,60.1 L640.6,53.9 L639.6,51.1 L634.4,49.2 L633.5,47.3 L633.9,44.0 L633.5,40.7 L629.7,35.9 L627.3,34.5 L624.9,34.5 L622.6,31.2 L620.2,30.7 L617.8,31.7 L615.9,33.1 L613.6,29.8 L609.8,27.9 L610.0,26.5 L608.3,26.0 L607.3,23.6 L605.5,21.7 L603.1,21.3 L600.7,22.7 L599.8,24.1 L597.9,24.6 L595.5,24.1 L593.1,25.0 L592.2,26.5 L587.0,27.4 L584.1,28.4 L582.3,29.8 L581.8,32.2 L580.4,34.0 L577.5,34.5 L576.1,35.9 L575.6,38.8 L577.0,41.1 L578.0,44.0 L578.5,46.8 L579.9,49.2 L579.4,51.6 L575.2,53.5 L573.7,55.8 L574.7,58.7 L576.6,60.6 L578.0,63.4 L576.6,66.8 L574.2,66.3ZM578.8,63.1 L578.8,63.7 L577.4,67.1 L577.0,67.6 L576.5,67.7 L574.2,67.2 L571.8,67.7 L570.6,67.1 L571.9,67.1 L574.2,66.7 L576.7,67.1 L578.3,63.4 L576.8,60.4 L574.9,58.4 L574.3,56.3 L574.6,55.0 L575.6,53.7 L579.6,51.7 L580.2,49.2 L578.8,46.7 L578.3,43.9 L577.4,41.1 L576.1,38.8 L576.2,36.9 L576.6,35.9 L578.0,34.8 L580.6,34.3 L582.0,32.3 L582.8,29.9 L584.2,28.7 L587.2,27.7 L592.3,26.8 L593.4,25.4 L595.0,24.6 L596.1,24.5 L597.9,24.9 L599.9,24.4 L601.3,22.7 L602.5,22.0 L603.4,21.7 L604.8,21.9 L605.9,22.6 L607.0,23.8 L608.0,26.1 L609.0,27.0 L609.6,28.1 L613.4,30.2 L615.8,33.3 L616.1,33.3 L618.1,31.9 L619.5,31.3 L620.5,31.1 L621.4,31.3 L622.8,32.1 L624.8,34.8 L627.4,35.0 L629.6,36.4 L633.1,41.0 L633.6,43.9 L633.2,47.3 L634.2,49.4 L638.5,51.0 L639.7,52.3 L640.3,54.0 L641.3,60.3 L641.7,60.3 L642.7,58.9 L644.1,57.5 L646.5,56.0 L647.4,54.3 L648.4,53.5 L649.8,53.3 L651.0,53.7 L651.9,54.5 L652.4,55.9 L652.2,57.2 L651.2,59.0 L648.7,65.8 L647.4,67.1 L646.0,69.1 L647.4,71.1 L648.6,72.5 L649.1,73.4 L649.3,77.7 L649.1,78.7 L648.3,79.8 L646.8,80.4 L645.5,80.2 L643.5,79.3 L643.2,79.4 L642.2,81.9 L642.6,84.9 L641.9,88.8 L641.5,89.8 L639.9,91.1 L637.3,92.5 L634.3,93.5 L632.3,95.0 L632.2,97.7 L634.3,98.9 L635.1,100.5 L633.9,99.3 L631.7,98.0 L631.7,94.8 L633.9,93.0 L636.9,92.0 L639.6,90.6 L641.2,89.5 L642.0,84.8 L641.6,81.8 L642.8,78.9 L643.6,78.7 L645.6,79.7 L647.4,80.0 L648.7,78.7 L648.7,73.3 L646.9,71.6 L645.5,69.6 L645.4,69.0 L647.0,66.7 L647.9,66.3 L650.6,58.8 L651.9,56.6 L651.6,54.9 L649.8,53.5 L648.3,53.8 L646.8,56.5 L644.4,58.0 L643.2,59.2 L642.0,60.8 L641.5,61.0 L640.9,60.8 L640.6,60.2 L639.7,54.1 L638.9,51.8 L634.0,50.0 L633.6,49.7 L632.6,47.4 L633.0,44.0 L632.6,41.0 L629.1,36.6 L627.1,35.4 L624.4,35.3 L622.1,32.0 L620.3,31.7 L618.3,32.5 L616.3,33.9 L615.5,33.9 L613.0,30.5 L609.1,28.5 L608.9,27.9 L609.0,27.1 L607.6,26.6 L606.6,24.1 L605.0,22.6 L603.3,22.2 L601.4,23.3 L600.1,25.0 L597.9,25.5 L595.6,25.0 L593.7,25.8 L592.5,27.3 L587.2,28.3 L584.6,29.2 L583.1,30.3 L582.6,32.6 L581.0,34.7 L578.0,35.4 L576.9,36.4 L576.6,38.6 L577.9,40.9 L578.9,43.8 L579.3,46.5 L580.7,48.8 L580.8,49.3 L580.1,52.1 L575.8,54.2 L574.7,55.9 L575.5,58.2 L577.3,60.1 L578.8,63.1ZM568.5,69.8 L570.2,72.0 L571.6,74.8 L573.8,76.9 L576.2,78.0 L579.2,82.4 L580.7,84.9 L581.2,87.7 L583.1,90.1 L584.1,92.7 L583.9,93.8 L582.5,90.3 L580.8,88.1 L580.2,85.1 L578.8,82.8 L575.8,78.4 L573.5,77.4 L571.3,75.2 L568.7,70.9 L568.5,69.8ZM587.4,94.7 L587.9,93.5 L588.5,93.4 L592.8,94.7 L594.7,94.3 L596.1,93.4 L596.7,93.4 L597.2,93.8 L598.6,96.6 L600.4,98.3 L601.7,100.1 L603.3,100.4 L604.7,98.9 L605.4,97.8 L606.1,97.6 L608.2,98.6 L610.2,99.2 L611.0,100.3 L609.9,99.7 L608.0,99.2 L606.0,98.2 L604.2,100.2 L603.2,100.6 L602.1,100.6 L600.9,100.0 L598.2,97.0 L596.6,94.0 L594.7,95.0 L593.0,95.3 L588.4,94.0 L587.4,94.7ZM613.6,99.8 L614.2,97.2 L615.9,94.9 L621.5,93.8 L622.1,93.9 L623.6,95.0 L623.9,95.4 L623.9,96.0 L623.1,97.3 L623.4,98.8 L625.5,99.7 L627.1,101.8 L629.0,107.4 L629.3,107.5 L629.0,107.4 L628.6,107.1 L628.0,106.2 L626.6,102.1 L625.2,100.2 L623.8,99.5 L623.1,98.7 L622.8,97.1 L623.3,95.6 L621.8,94.5 L616.3,95.4 L614.7,97.4 L614.4,98.8 L613.6,99.8ZM632.6,105.9 L632.7,103.2 L634.8,102.2 L634.2,103.0 L633.2,103.6 L633.0,105.9 L632.7,106.6 L632.0,107.3 L632.6,105.9Z" fill="#808080" fill-rule="evenodd"/>
<g fill="#808080"><circle cx="571.1" cy="69.7" r="3.0"/><circle cx="573.2" cy="73.3" r="3.0"/><circle cx="576.5" cy="75.8" r="3.0"/><circle cx="579.3" cy="78.8" r="3.0"/><circle cx="581.6" cy="82.3" r="3.0"/><circle cx="583.1" cy="86.1" r="3.0"/><circle cx="585.1" cy="89.7" r="3.0"/><circle cx="587.3" cy="91.5" r="3.0"/><circle cx="591.3" cy="91.9" r="3.0"/><circle cx="595.2" cy="91.6" r="3.0"/><circle cx="598.9" cy="92.5" r="3.0"/><circle cx="601.1" cy="96.1" r="3.0"/><circle cx="603.8" cy="96.6" r="3.0"/><circle cx="607.5" cy="96.0" r="3.0"/><circle cx="611.4" cy="97.5" r="3.0"/><circle cx="613.5" cy="94.6" r="3.0"/><circle cx="616.9" cy="92.6" r="3.0"/><circle cx="621.0" cy="91.8" r="3.0"/><circle cx="624.8" cy="93.3" r="3.0"/><circle cx="625.6" cy="97.0" r="3.0"/><circle cx="628.2" cy="99.8" r="3.0"/><circle cx="629.9" cy="103.6" r="3.0"/><circle cx="630.7" cy="102.5" r="3.0"/><circle cx="630.9" cy="100.1" r="3.0"/><circle cx="629.6" cy="96.4" r="3.0"/><circle cx="630.9" cy="92.7" r="3.0"/><circle cx="634.5" cy="90.6" r="3.0"/><circle cx="638.3" cy="88.8" r="3.0"/><circle cx="639.8" cy="85.3" r="3.0"/><circle cx="639.6" cy="81.2" r="3.0"/><circle cx="641.4" cy="77.4" r="3.0"/><circle cx="645.2" cy="77.2" r="3.0"/><circle cx="646.6" cy="75.0" r="3.0"/><circle cx="644.4" cy="71.6" r="3.0"/><circle cx="643.7" cy="67.8" r="3.0"/><circle cx="646.3" cy="64.6" r="3.0"/><circle cx="647.7" cy="60.7" r="3.0"/><circle cx="649.4" cy="56.8" r="3.0"/><circle cx="647.7" cy="58.4" r="3.0"/><circle cx="644.5" cy="61.1" r="3.0"/><circle cx="641.1" cy="63.0" r="3.0"/><circle cx="638.5" cy="60.1" r="3.0"/><circle cx="637.8" cy="56.0" r="3.0"/><circle cx="635.8" cy="52.8" r="3.0"/><circle cx="632.1" cy="51.1" r="3.0"/><circle cx="630.5" cy="47.3" r="3.0"/><circle cx="630.8" cy="43.2" r="3.0"/><circle cx="628.8" cy="39.6" r="3.0"/><circle cx="625.5" cy="37.5" r="3.0"/><circle cx="622.0" cy="35.6" r="3.0"/><circle cx="618.9" cy="34.6" r="3.0"/><circle cx="615.2" cy="35.9" r="3.0"/><circle cx="612.3" cy="33.1" r="3.0"/><circle cx="608.9" cy="30.8" r="3.0"/><circle cx="606.0" cy="27.9" r="3.0"/><circle cx="603.8" cy="24.5" r="3.0"/><circle cx="600.7" cy="27.0" r="3.0"/><circle cx="596.6" cy="27.3" r="3.0"/><circle cx="593.2" cy="29.3" r="3.0"/><circle cx="589.1" cy="30.1" r="3.0"/><circle cx="585.2" cy="31.4" r="3.0"/><circle cx="583.3" cy="35.0" r="3.0"/><circle cx="580.0" cy="37.2" r="3.0"/><circle cx="579.9" cy="40.2" r="3.0"/><circle cx="581.1" cy="44.2" r="3.0"/><circle cx="582.6" cy="48.0" r="3.0"/><circle cx="582.4" cy="52.1" r="3.0"/><circle cx="579.5" cy="54.8" r="3.0"/><circle cx="577.6" cy="57.3" r="3.0"/><circle cx="580.0" cy="60.7" r="3.0"/><circle cx="580.7" cy="64.6" r="3.0"/><circle cx="579.0" cy="68.4" r="3.0"/><circle cx="575.3" cy="69.6" r="3.0"/><circle cx="622.1" cy="26.0" r="3.0"/><circle cx="628.3" cy="27.9" r="3.0"/><circle cx="631.1" cy="28.8" r="3.0"/><circle cx="633.5" cy="29.3" r="3.0"/></g>
<path d="M169.9,173.5 L169.4,171.1 L169.1,170.9 L166.8,172.2 L167.9,174.3 L169.9,173.5ZM169.6,173.2 L167.9,174.0 L167.1,172.2 L169.1,171.2 L169.6,173.2ZM109.0,191.1 L106.0,191.6 L103.5,192.6 L101.0,194.1 L100.0,197.1 L101.0,200.1 L103.0,202.6 L105.5,204.6 L108.0,206.1 L111.1,206.6 L114.1,206.1 L116.1,204.1 L118.6,203.6 L120.1,205.6 L120.6,209.1 L122.6,212.1 L125.1,214.6 L128.1,216.1 L131.6,215.6 L134.6,213.6 L137.2,211.1 L138.7,208.1 L140.2,206.1 L141.2,207.1 L141.7,210.6 L143.2,213.1 L146.0,215.1 L150.0,215.1 L158.0,216.6 L160.6,217.7 L162.1,219.7 L164.6,220.7 L170.6,221.7 L173.6,225.7 L176.1,226.2 L178.1,224.2 L180.1,221.7 L183.1,220.2 L189.2,218.2 L195.2,217.2 L196.7,214.6 L195.2,210.6 L194.2,207.1 L193.7,204.1 L191.2,203.1 L188.7,204.1 L187.2,206.6 L184.6,208.1 L182.6,207.6 L181.6,201.6 L179.1,199.6 L173.6,198.6 L174.1,197.1 L175.6,194.6 L176.1,191.6 L175.6,188.5 L176.1,185.5 L178.1,183.0 L180.6,181.5 L182.1,181.0 L183.1,178.2 L183.6,174.7 L181.1,168.2 L181.6,165.1 L180.6,162.6 L178.6,160.6 L176.1,160.1 L172.1,164.1 L170.1,165.1 L169.1,163.6 L167.1,162.1 L164.1,161.6 L161.6,162.1 L160.1,160.1 L158.0,158.1 L157.5,155.6 L157.0,152.1 L157.5,148.6 L158.5,145.6 L158.5,142.1 L157.0,139.5 L154.5,139.0 L150.5,140.0 L150.0,142.1 L148.2,137.0 L146.2,135.5 L143.7,136.0 L141.7,136.0 L140.7,134.0 L138.7,132.5 L136.2,133.0 L134.6,135.5 L135.6,138.0 L134.1,139.5 L132.6,141.6 L132.1,144.6 L132.1,147.6 L130.1,149.6 L125.6,152.6 L125.1,155.1 L126.1,158.1 L125.6,160.6 L126.1,163.6 L126.1,167.1 L124.1,169.2 L121.6,168.7 L119.6,170.2 L118.6,172.2 L115.6,172.2 L110.1,174.2 L109.0,176.7 L110.1,182.0 L111.1,185.5 L110.6,189.0 L109.0,191.1ZM177.4,172.4 L176.3,171.5 L175.9,171.4 L174.3,173.8 L173.2,174.5 L175.6,171.0 L176.1,170.8 L176.7,171.0 L177.4,172.4ZM172.7,175.6 L172.7,177.4 L174.7,178.0 L176.9,176.3 L177.6,173.0 L178.0,174.2 L177.4,176.6 L175.1,178.5 L174.3,178.6 L172.2,177.8 L172.0,177.0 L172.7,175.6ZM176.6,176.2 L174.6,177.7 L172.9,177.2 L174.1,174.7 L176.1,171.7 L177.1,174.2 L176.6,176.2ZM110.9,181.8 L112.0,185.5 L111.3,189.5 L109.4,191.9 L106.3,192.4 L103.9,193.4 L101.8,194.7 L101.0,197.1 L101.8,199.7 L103.7,202.0 L106.1,203.9 L108.4,205.3 L111.1,205.7 L113.6,205.3 L115.7,203.3 L118.9,202.8 L120.9,205.2 L121.5,208.8 L123.3,211.6 L125.6,213.9 L128.3,215.2 L131.3,214.8 L134.1,212.9 L136.4,210.6 L137.9,207.6 L139.4,205.6 L140.3,205.2 L142.0,206.7 L142.5,210.3 L143.9,212.5 L146.2,214.2 L150.2,214.3 L158.4,215.8 L161.1,216.9 L162.6,218.9 L164.8,219.8 L171.1,220.9 L174.1,224.9 L175.8,225.2 L179.9,220.8 L179.5,222.0 L176.7,225.1 L175.7,225.5 L174.6,225.5 L173.2,224.7 L170.7,221.4 L164.9,220.4 L163.0,219.7 L162.0,219.0 L160.7,217.4 L159.1,216.5 L150.1,214.9 L145.9,214.7 L143.8,213.3 L143.1,212.5 L142.0,210.5 L141.4,207.0 L140.2,205.8 L138.4,207.9 L136.8,211.0 L134.4,213.4 L131.4,215.3 L129.0,215.7 L127.9,215.7 L125.2,214.3 L122.8,211.9 L121.0,209.1 L120.4,205.5 L118.7,203.4 L115.9,203.8 L114.3,205.4 L113.3,205.9 L110.9,206.3 L108.4,205.9 L105.9,204.5 L103.3,202.4 L101.3,199.9 L100.5,197.7 L100.6,196.2 L101.1,195.0 L101.7,194.1 L103.7,192.8 L105.8,192.0 L109.2,191.3 L110.8,189.2 L111.4,185.5 L110.3,181.8 L109.5,177.0 L109.7,175.9 L110.3,174.8 L111.4,174.0 L115.2,172.6 L118.7,172.4 L119.8,170.5 L120.9,169.6 L122.1,169.2 L124.2,169.4 L126.4,167.3 L126.4,163.6 L126.0,160.6 L126.4,158.1 L125.5,155.2 L125.8,153.5 L126.5,152.3 L130.3,149.8 L132.4,147.7 L132.4,144.6 L132.9,141.8 L134.2,139.9 L135.9,138.1 L135.3,135.7 L135.4,134.9 L136.0,134.0 L137.4,133.2 L138.7,133.2 L140.3,134.2 L141.6,136.3 L143.7,136.3 L145.4,136.0 L146.9,136.4 L148.1,137.7 L149.9,142.3 L150.3,142.2 L151.0,140.7 L152.1,140.0 L154.4,139.4 L156.5,139.9 L157.5,140.8 L158.2,142.6 L158.2,145.4 L157.3,148.5 L156.7,152.1 L157.8,158.3 L159.7,160.2 L161.4,162.4 L164.1,162.0 L166.8,162.4 L168.7,163.8 L170.0,165.4 L172.3,164.4 L175.8,161.0 L177.1,160.7 L178.4,161.0 L180.3,162.8 L181.1,164.7 L181.2,165.7 L180.8,168.1 L181.3,169.7 L181.1,171.0 L180.2,168.2 L180.7,165.2 L179.9,163.1 L178.2,161.5 L176.4,161.1 L172.7,164.8 L170.2,166.0 L169.5,165.8 L168.4,164.3 L166.7,163.0 L164.1,162.5 L161.6,163.0 L161.0,162.8 L159.4,160.7 L157.3,158.6 L156.7,155.8 L156.1,152.0 L156.7,148.4 L157.6,145.4 L157.6,142.3 L156.5,140.3 L154.6,140.0 L151.3,140.8 L150.7,142.6 L150.3,142.9 L149.7,142.9 L149.2,142.4 L147.5,137.6 L146.0,136.5 L143.8,136.9 L141.3,136.9 L140.9,136.5 L140.0,134.6 L138.4,133.5 L136.7,133.8 L135.6,135.6 L136.5,138.2 L133.5,141.9 L133.0,144.6 L132.9,148.1 L130.7,150.3 L126.4,153.1 L126.0,155.0 L127.0,158.0 L126.5,160.6 L127.0,163.6 L126.9,167.6 L124.5,170.0 L121.8,169.6 L120.3,170.8 L119.3,172.6 L118.9,173.0 L115.7,173.1 L110.7,174.9 L110.0,176.8 L110.9,181.8ZM182.6,219.4 L188.9,217.3 L194.6,216.3 L195.7,214.6 L194.3,210.9 L193.3,207.4 L192.9,204.7 L191.2,204.1 L189.3,204.8 L187.8,207.3 L184.9,209.0 L182.4,208.5 L181.8,207.8 L180.8,202.1 L178.7,200.4 L173.3,199.4 L172.7,198.8 L173.3,196.7 L174.8,194.2 L175.2,191.6 L174.7,188.5 L175.3,185.1 L177.6,182.3 L180.3,180.7 L181.4,180.3 L182.3,178.0 L182.7,174.8 L181.4,171.6 L182.3,172.5 L183.2,174.5 L182.8,178.1 L181.8,180.5 L177.9,182.8 L175.8,185.4 L175.3,188.5 L175.8,191.4 L175.4,193.9 L173.8,197.0 L173.3,198.7 L178.8,199.9 L180.8,201.3 L181.5,202.5 L182.3,207.6 L182.6,207.9 L184.8,208.4 L187.4,206.8 L188.5,204.9 L189.5,204.1 L191.1,203.7 L192.6,204.2 L193.5,205.4 L194.9,210.7 L196.1,214.2 L195.6,215.8 L194.3,216.9 L189.1,217.9 L184.1,219.5 L182.6,219.4ZM169.4,213.1 L167.3,209.5 L167.3,208.7 L172.2,205.8 L172.8,205.7 L175.8,208.0 L181.3,215.7 L181.5,216.4 L180.8,217.1 L180.8,216.0 L175.4,208.5 L172.7,206.3 L168.0,208.8 L167.8,209.3 L169.9,212.8 L172.9,215.9 L176.0,218.0 L177.2,217.8 L178.2,218.0 L176.3,218.6 L175.7,218.5 L172.5,216.4 L169.4,213.1ZM168.1,174.9 L167.6,174.8 L167.2,174.5 L166.2,172.5 L166.2,172.0 L166.7,171.4 L168.8,170.4 L169.3,170.3 L169.9,170.9 L170.5,173.4 L170.1,174.0 L168.1,174.9ZM155.4,206.7 L153.1,204.3 L153.2,203.7 L153.5,203.3 L154.0,203.2 L157.2,204.2 L160.5,204.8 L162.9,206.6 L164.0,209.3 L163.9,210.0 L161.6,212.3 L160.7,212.4 L158.4,210.7 L157.3,208.2 L155.4,206.7ZM175.1,208.6 L180.6,216.2 L176.1,217.7 L173.1,215.7 L170.1,212.6 L168.1,209.1 L172.6,206.6 L175.1,208.6ZM162.4,207.1 L160.2,205.3 L157.1,204.8 L154.1,203.8 L153.7,204.0 L153.8,204.3 L155.7,206.2 L157.6,207.7 L158.9,210.3 L161.0,211.9 L161.4,211.8 L163.5,209.5 L162.4,207.1ZM162.1,207.1 L163.1,209.6 L161.1,211.6 L159.1,210.1 L158.0,207.6 L156.0,206.1 L154.0,204.1 L157.0,205.1 L160.1,205.6 L162.1,207.1Z" fill="#808080" fill-rule="evenodd"/>
<g fill="#808080"><circle cx="112.2" cy="176.9" r="3.0"/><circle cx="112.9" cy="181.1" r="3.0"/><circle cx="114.0" cy="185.2" r="3.0"/><circle cx="113.4" cy="189.3" r="3.0"/><circle cx="111.4" cy="192.9" r="3.0"/><circle cx="107.5" cy="194.3" r="3.0"/><circle cx="103.7" cy="196.0" r="3.0"/><circle cx="104.5" cy="199.7" r="3.0"/><circle cx="107.7" cy="202.4" r="3.0"/><circle cx="111.6" cy="203.5" r="3.0"/><circle cx="115.1" cy="201.3" r="3.0"/><circle cx="119.2" cy="200.8" r="3.0"/><circle cx="122.2" cy="203.5" r="3.0"/><circle cx="123.4" cy="207.5" r="3.0"/><circle cx="125.7" cy="210.9" r="3.0"/><circle cx="129.2" cy="213.0" r="3.0"/><circle cx="132.9" cy="211.2" r="3.0"/><circle cx="135.4" cy="207.9" r="3.0"/><circle cx="137.7" cy="204.4" r="3.0"/><circle cx="141.5" cy="203.5" r="3.0"/><circle cx="144.1" cy="206.6" r="3.0"/><circle cx="145.2" cy="210.6" r="3.0"/><circle cx="148.8" cy="212.2" r="3.0"/><circle cx="152.9" cy="212.7" r="3.0"/><circle cx="157.1" cy="213.4" r="3.0"/><circle cx="157.4" cy="212.5" r="3.0"/><circle cx="155.0" cy="209.1" r="3.0"/><circle cx="151.9" cy="206.3" r="3.0"/><circle cx="151.5" cy="202.4" r="3.0"/><circle cx="155.3" cy="201.4" r="3.0"/><circle cx="159.4" cy="202.5" r="3.0"/><circle cx="163.1" cy="204.2" r="3.0"/><circle cx="165.5" cy="207.5" r="3.0"/><circle cx="168.9" cy="205.2" r="3.0"/><circle cx="172.7" cy="203.6" r="3.0"/><circle cx="176.3" cy="205.8" r="3.0"/><circle cx="179.0" cy="208.9" r="3.0"/><circle cx="181.5" cy="212.3" r="3.0"/><circle cx="183.6" cy="215.9" r="3.0"/><circle cx="186.6" cy="215.8" r="3.0"/><circle cx="190.7" cy="214.8" r="3.0"/><circle cx="192.8" cy="212.9" r="3.0"/><circle cx="191.7" cy="208.9" r="3.0"/><circle cx="190.0" cy="207.6" r="3.0"/><circle cx="186.8" cy="210.3" r="3.0"/><circle cx="182.9" cy="210.7" r="3.0"/><circle cx="179.8" cy="208.3" r="3.0"/><circle cx="179.0" cy="204.2" r="3.0"/><circle cx="175.9" cy="202.0" r="3.0"/><circle cx="171.9" cy="201.0" r="3.0"/><circle cx="170.9" cy="197.2" r="3.0"/><circle cx="172.8" cy="193.5" r="3.0"/><circle cx="172.8" cy="189.3" r="3.0"/><circle cx="173.2" cy="185.2" r="3.0"/><circle cx="175.4" cy="181.7" r="3.0"/><circle cx="178.8" cy="179.2" r="3.0"/><circle cx="180.5" cy="175.7" r="3.0"/><circle cx="179.6" cy="176.4" r="3.0"/><circle cx="177.0" cy="179.6" r="3.0"/><circle cx="173.2" cy="180.4" r="3.0"/><circle cx="170.0" cy="177.9" r="3.0"/><circle cx="167.6" cy="177.0" r="3.0"/><circle cx="164.7" cy="174.2" r="3.0"/><circle cx="164.8" cy="170.3" r="3.0"/><circle cx="168.5" cy="168.3" r="3.0"/><circle cx="171.9" cy="170.1" r="3.0"/><circle cx="173.7" cy="169.9" r="3.0"/><circle cx="177.5" cy="169.1" r="3.0"/><circle cx="178.3" cy="167.4" r="3.0"/><circle cx="177.3" cy="163.6" r="3.0"/><circle cx="174.3" cy="166.1" r="3.0"/><circle cx="170.6" cy="168.0" r="3.0"/><circle cx="167.2" cy="166.2" r="3.0"/><circle cx="163.5" cy="164.8" r="3.0"/><circle cx="159.5" cy="164.3" r="3.0"/><circle cx="156.8" cy="161.1" r="3.0"/><circle cx="154.9" cy="157.5" r="3.0"/><circle cx="154.2" cy="153.3" r="3.0"/><circle cx="154.4" cy="149.1" r="3.0"/><circle cx="155.5" cy="145.1" r="3.0"/><circle cx="153.9" cy="142.3" r="3.0"/><circle cx="151.0" cy="144.9" r="3.0"/><circle cx="147.4" cy="143.4" r="3.0"/><circle cx="145.9" cy="139.5" r="3.0"/><circle cx="142.2" cy="139.0" r="3.0"/><circle cx="138.8" cy="137.0" r="3.0"/><circle cx="138.6" cy="138.4" r="3.0"/><circle cx="136.3" cy="141.8" r="3.0"/><circle cx="135.1" cy="145.7" r="3.0"/><circle cx="134.2" cy="149.6" r="3.0"/><circle cx="131.1" cy="152.5" r="3.0"/><circle cx="128.3" cy="155.2" r="3.0"/><circle cx="128.9" cy="159.3" r="3.0"/><circle cx="129.1" cy="163.4" r="3.0"/><circle cx="129.0" cy="167.6" r="3.0"/><circle cx="126.5" cy="170.8" r="3.0"/><circle cx="122.7" cy="171.9" r="3.0"/><circle cx="120.0" cy="174.8" r="3.0"/><circle cx="115.9" cy="175.2" r="3.0"/><circle cx="161.0" cy="214.6" r="3.0"/><circle cx="164.1" cy="217.3" r="3.0"/><circle cx="168.2" cy="218.2" r="3.0"/><circle cx="172.3" cy="219.2" r="3.0"/><circle cx="175.0" cy="222.5" r="3.0"/><circle cx="176.5" cy="220.6" r="3.0"/><circle cx="172.7" cy="219.0" r="3.0"/><circle cx="169.5" cy="216.3" r="3.0"/><circle cx="166.9" cy="213.0" r="3.0"/><circle cx="164.4" cy="212.4" r="3.0"/></g>
<path d="M267.7,182.4 L264.7,182.9 L258.8,184.9 L257.4,187.3 L256.4,190.3 L257.8,192.2 L260.8,193.2 L261.8,194.7 L260.3,196.2 L258.8,198.2 L257.8,200.6 L257.4,203.6 L257.8,206.5 L255.9,208.0 L253.4,208.5 L252.4,211.0 L253.9,212.9 L262.8,214.4 L267.7,216.4 L270.2,218.8 L271.6,220.8 L274.1,221.8 L276.6,221.3 L278.5,222.3 L280.5,224.3 L283.0,225.7 L285.9,225.7 L288.4,224.3 L289.4,222.3 L291.8,221.3 L294.3,220.8 L296.8,219.3 L297.2,216.4 L295.8,213.9 L295.0,213.4 L297.0,212.9 L299.4,214.4 L302.9,213.9 L305.8,212.9 L307.8,211.5 L311.2,210.5 L313.2,209.0 L314.2,206.5 L317.2,205.5 L319.1,203.6 L318.6,200.6 L316.2,198.7 L317.2,195.2 L318.6,192.7 L320.6,190.8 L322.6,185.4 L324.5,183.4 L329.0,180.9 L329.5,179.9 L330.5,174.3 L331.4,171.3 L333.4,168.4 L334.4,165.4 L335.9,163.0 L339.3,163.0 L340.8,160.5 L339.8,157.1 L340.3,154.6 L343.3,152.6 L343.8,150.2 L341.3,148.2 L338.3,148.7 L335.4,149.7 L332.4,150.2 L329.5,149.7 L327.0,150.7 L329.0,146.2 L329.5,143.8 L328.5,141.3 L326.5,138.8 L324.1,137.8 L320.6,138.8 L318.1,140.3 L317.7,142.8 L316.7,145.7 L315.7,144.2 L313.7,142.8 L310.8,141.8 L307.8,136.9 L305.3,135.4 L302.9,135.9 L300.9,137.4 L298.9,137.1 L298.7,135.4 L297.2,133.4 L294.8,132.4 L292.3,132.4 L290.3,134.4 L290.8,136.4 L289.4,137.8 L287.9,139.8 L287.4,142.3 L285.4,143.3 L283.5,144.7 L283.5,147.2 L285.4,149.2 L283.9,151.1 L281.5,152.1 L276.6,151.1 L274.1,152.1 L273.1,154.6 L274.6,157.1 L279.0,158.0 L278.0,160.0 L278.5,162.5 L278.0,164.9 L276.1,166.4 L273.6,166.9 L271.1,166.4 L268.7,167.9 L267.7,173.8 L269.2,176.8 L271.1,179.4 L270.2,181.4 L267.7,182.4ZM323.6,146.7 L322.6,144.3 L324.1,143.8 L324.6,145.2 L323.6,146.7ZM255.3,209.0 L258.1,206.6 L257.7,203.4 L258.2,200.7 L259.0,198.6 L260.4,196.5 L262.1,194.7 L261.0,193.0 L258.4,192.1 L257.4,191.2 L257.0,189.6 L257.6,187.5 L258.7,185.7 L259.7,184.9 L264.8,183.2 L267.8,182.7 L270.4,181.6 L271.4,179.4 L269.4,176.6 L268.1,173.7 L268.9,168.7 L269.7,167.6 L271.0,167.0 L272.0,166.9 L273.6,167.2 L276.2,166.7 L278.3,165.1 L278.8,162.5 L278.5,160.2 L279.3,157.9 L275.8,157.0 L274.8,156.5 L274.0,155.2 L273.8,154.4 L274.1,153.3 L274.8,152.3 L276.3,151.6 L277.4,151.6 L281.5,152.4 L284.2,151.3 L285.7,149.2 L284.1,147.1 L283.9,146.1 L284.2,145.0 L285.4,143.7 L287.6,142.4 L288.4,139.7 L291.1,136.5 L291.1,134.7 L291.7,133.6 L292.6,132.9 L293.7,132.7 L295.0,132.8 L296.6,133.5 L297.4,134.1 L298.2,135.2 L298.7,137.2 L299.0,137.4 L301.0,137.6 L303.4,136.1 L304.8,135.9 L306.0,136.1 L307.8,137.4 L310.5,142.0 L313.7,143.1 L315.3,144.4 L316.6,146.0 L316.9,145.9 L317.5,144.2 L318.4,143.3 L317.4,146.2 L317.0,146.6 L316.4,146.6 L316.0,146.3 L315.0,144.9 L313.3,143.6 L310.2,142.5 L307.1,137.5 L305.2,136.3 L303.3,136.7 L301.4,138.1 L300.8,138.2 L298.4,137.8 L298.1,137.3 L297.9,135.8 L296.7,134.2 L294.6,133.3 L292.7,133.3 L291.3,134.7 L291.7,136.7 L288.7,140.2 L288.1,142.8 L284.4,145.2 L284.4,146.8 L286.1,148.6 L286.3,149.2 L286.2,149.6 L284.6,151.7 L281.6,153.0 L276.6,152.1 L274.8,152.8 L274.1,154.5 L275.2,156.2 L279.3,157.2 L279.9,157.7 L279.9,158.4 L279.0,160.1 L279.4,162.5 L278.9,165.2 L276.4,167.2 L273.6,167.8 L271.3,167.4 L269.5,168.5 L268.6,173.6 L269.9,176.3 L272.0,179.3 L270.8,182.0 L267.9,183.3 L265.0,183.8 L259.4,185.6 L258.2,187.7 L257.4,190.1 L258.4,191.5 L261.4,192.5 L262.6,194.3 L262.7,194.8 L259.6,198.6 L258.7,200.9 L258.3,203.6 L258.7,206.9 L256.4,208.8 L255.3,209.0ZM322.0,143.9 L323.4,146.9 L324.5,147.0 L324.0,147.5 L323.3,147.6 L322.8,147.1 L321.7,144.6 L321.7,144.0 L322.0,143.9ZM326.8,149.0 L326.7,150.7 L327.0,150.9 L329.5,150.1 L332.5,150.5 L335.4,150.0 L339.0,148.9 L339.8,148.9 L340.8,149.2 L338.6,149.6 L335.6,150.5 L332.6,151.0 L329.6,150.6 L327.0,151.6 L326.4,151.3 L326.1,150.7 L326.8,149.0ZM342.1,152.3 L341.4,153.4 L340.0,154.6 L339.5,157.0 L340.2,159.7 L339.9,161.3 L339.4,161.9 L338.5,162.5 L335.6,162.8 L334.1,165.3 L333.1,168.3 L331.2,171.2 L330.2,174.2 L329.3,179.3 L328.9,180.3 L328.0,181.2 L324.4,183.1 L322.3,185.2 L320.4,190.3 L318.4,192.6 L316.9,195.1 L315.9,198.7 L318.3,201.0 L318.6,202.6 L318.3,203.8 L316.8,205.3 L314.0,206.3 L313.0,208.5 L311.5,209.9 L307.7,211.2 L305.5,212.7 L302.8,213.6 L299.7,214.0 L297.0,212.6 L294.8,213.2 L294.7,213.6 L295.7,214.5 L296.7,216.3 L296.7,217.9 L296.2,219.1 L294.3,220.4 L291.7,221.0 L289.2,222.0 L287.9,224.1 L286.3,225.2 L285.1,225.4 L283.6,225.4 L282.6,225.2 L280.7,224.0 L278.7,222.0 L276.7,221.0 L274.1,221.4 L272.3,220.7 L267.8,216.1 L262.9,214.1 L256.8,213.1 L255.5,212.3 L263.0,213.5 L268.0,215.5 L270.8,218.2 L272.2,220.1 L274.2,220.9 L276.9,220.5 L279.0,221.5 L281.1,223.5 L283.2,224.8 L285.7,224.8 L287.7,223.6 L288.9,221.5 L291.6,220.4 L294.0,220.0 L295.9,218.8 L296.3,216.6 L295.1,214.6 L294.2,213.8 L294.1,213.2 L294.5,212.6 L297.0,212.0 L299.6,213.5 L302.7,213.0 L305.4,212.1 L307.5,210.6 L310.8,209.6 L312.5,208.4 L313.6,205.8 L316.7,204.8 L318.2,203.3 L317.8,201.1 L315.5,199.3 L315.3,198.8 L316.3,194.8 L317.9,192.2 L319.8,190.3 L321.9,184.8 L324.1,182.6 L328.3,180.3 L328.6,179.6 L329.6,174.1 L330.6,170.9 L332.6,168.0 L333.6,165.0 L335.2,162.4 L335.8,162.1 L338.8,162.1 L339.8,160.4 L338.9,157.1 L339.4,154.3 L339.7,153.9 L342.1,152.3Z" fill="#0000ff" fill-rule="evenodd"/>
<g fill="#0000ff"><circle cx="257.5" cy="210.5" r="3.0"/><circle cx="261.7" cy="211.2" r="3.0"/><circle cx="265.7" cy="212.4" r="3.0"/><circle cx="269.5" cy="214.0" r="3.0"/><circle cx="272.5" cy="217.0" r="3.0"/><circle cx="275.9" cy="218.4" r="3.0"/><circle cx="279.8" cy="219.6" r="3.0"/><circle cx="283.0" cy="222.3" r="3.0"/><circle cx="286.5" cy="221.4" r="3.0"/><circle cx="289.7" cy="219.0" r="3.0"/><circle cx="293.6" cy="217.7" r="3.0"/><circle cx="292.2" cy="214.4" r="3.0"/><circle cx="293.5" cy="210.8" r="3.0"/><circle cx="297.6" cy="210.1" r="3.0"/><circle cx="301.5" cy="211.1" r="3.0"/><circle cx="305.3" cy="209.6" r="3.0"/><circle cx="309.1" cy="208.0" r="3.0"/><circle cx="311.7" cy="205.0" r="3.0"/><circle cx="315.3" cy="203.0" r="3.0"/><circle cx="313.7" cy="200.2" r="3.0"/><circle cx="313.8" cy="196.2" r="3.0"/><circle cx="315.4" cy="192.3" r="3.0"/><circle cx="318.0" cy="189.1" r="3.0"/><circle cx="319.6" cy="185.2" r="3.0"/><circle cx="321.9" cy="181.8" r="3.0"/><circle cx="325.4" cy="179.5" r="3.0"/><circle cx="327.1" cy="176.1" r="3.0"/><circle cx="328.0" cy="172.1" r="3.0"/><circle cx="329.9" cy="168.3" r="3.0"/><circle cx="331.6" cy="164.5" r="3.0"/><circle cx="333.7" cy="160.9" r="3.0"/><circle cx="337.5" cy="159.9" r="3.0"/><circle cx="337.0" cy="155.8" r="3.0"/><circle cx="338.7" cy="152.1" r="3.0"/><circle cx="336.4" cy="152.5" r="3.0"/><circle cx="332.3" cy="153.0" r="3.0"/><circle cx="328.2" cy="153.4" r="3.0"/><circle cx="324.5" cy="152.3" r="3.0"/><circle cx="322.7" cy="149.6" r="3.0"/><circle cx="320.2" cy="146.4" r="3.0"/><circle cx="318.2" cy="148.3" r="3.0"/><circle cx="314.4" cy="147.6" r="3.0"/><circle cx="311.2" cy="145.1" r="3.0"/><circle cx="308.0" cy="142.8" r="3.0"/><circle cx="305.7" cy="139.2" r="3.0"/><circle cx="302.2" cy="139.9" r="3.0"/><circle cx="298.1" cy="139.9" r="3.0"/><circle cx="295.9" cy="136.7" r="3.0"/><circle cx="293.8" cy="136.9" r="3.0"/><circle cx="291.4" cy="140.3" r="3.0"/><circle cx="289.8" cy="144.0" r="3.0"/><circle cx="286.9" cy="146.4" r="3.0"/><circle cx="288.2" cy="150.0" r="3.0"/><circle cx="285.8" cy="153.4" r="3.0"/><circle cx="282.0" cy="155.0" r="3.0"/><circle cx="277.9" cy="154.4" r="3.0"/><circle cx="279.3" cy="155.1" r="3.0"/><circle cx="281.9" cy="157.8" r="3.0"/><circle cx="281.4" cy="161.8" r="3.0"/><circle cx="280.8" cy="165.9" r="3.0"/><circle cx="277.8" cy="168.7" r="3.0"/><circle cx="273.8" cy="169.9" r="3.0"/><circle cx="271.1" cy="171.4" r="3.0"/><circle cx="271.8" cy="175.3" r="3.0"/><circle cx="274.0" cy="178.8" r="3.0"/><circle cx="272.8" cy="182.7" r="3.0"/><circle cx="269.4" cy="184.9" r="3.0"/><circle cx="265.3" cy="185.9" r="3.0"/><circle cx="261.4" cy="187.2" r="3.0"/><circle cx="260.7" cy="190.0" r="3.0"/><circle cx="263.9" cy="192.5" r="3.0"/><circle cx="264.3" cy="196.4" r="3.0"/><circle cx="261.5" cy="199.6" r="3.0"/><circle cx="260.4" cy="203.6" r="3.0"/><circle cx="260.6" cy="207.7" r="3.0"/></g>
<path d="M400.1,189.0 L398.5,191.1 L396.0,191.6 L393.0,192.6 L390.5,194.6 L389.8,197.6 L391.0,201.1 L393.5,203.6 L396.0,205.6 L402.1,206.6 L405.1,206.1 L407.6,206.1 L411.6,207.1 L413.6,206.1 L414.6,203.6 L415.6,202.1 L416.6,207.6 L418.6,210.6 L421.1,213.1 L423.6,214.6 L426.7,215.6 L430.2,215.1 L433.2,213.6 L436.2,211.6 L438.2,209.1 L439.7,206.1 L440.7,205.1 L443.2,210.6 L445.2,213.1 L447.2,214.9 L451.0,215.6 L457.0,215.6 L460.0,216.7 L465.6,217.7 L467.6,219.2 L470.1,220.2 L472.6,220.2 L475.1,220.7 L478.1,222.2 L479.1,224.2 L480.6,225.7 L483.1,225.2 L487.1,221.2 L489.7,220.2 L493.2,219.7 L506.2,215.6 L508.7,214.6 L509.2,212.1 L507.2,209.1 L507.2,206.1 L505.7,203.1 L503.2,202.6 L500.7,204.1 L495.7,208.1 L493.7,208.1 L492.2,205.6 L491.7,202.6 L490.7,200.1 L488.2,199.1 L485.1,198.6 L482.1,198.6 L479.6,199.6 L477.6,198.1 L478.1,196.1 L480.1,194.1 L481.1,191.6 L480.6,188.5 L479.1,186.0 L480.1,184.5 L484.1,180.5 L485.6,178.0 L484.4,180.0 L486.9,172.3 L486.4,169.4 L484.9,167.4 L484.4,164.4 L483.0,162.0 L480.5,160.0 L477.5,160.0 L475.1,162.0 L473.1,164.4 L472.6,167.4 L473.1,170.8 L474.1,173.8 L471.6,172.8 L469.2,171.3 L470.2,168.9 L470.2,165.9 L468.7,163.5 L466.2,162.0 L462.8,161.5 L460.3,162.5 L458.3,163.9 L456.4,165.9 L457.4,163.5 L457.4,160.5 L456.9,158.0 L456.9,155.1 L455.4,153.1 L452.9,152.1 L453.4,149.2 L454.4,145.7 L454.9,142.3 L453.9,139.8 L452.0,139.3 L451.0,138.8 L449.0,139.8 L447.6,141.3 L445.1,141.3 L443.1,139.8 L442.1,137.4 L439.7,135.9 L435.2,137.8 L430.3,136.9 L430.3,134.9 L428.3,132.9 L425.9,133.4 L424.4,135.4 L424.9,137.8 L423.4,139.3 L421.0,140.3 L419.0,142.3 L418.0,145.2 L418.5,148.2 L417.0,150.2 L415.1,151.6 L413.6,153.6 L413.6,156.6 L415.1,159.0 L416.0,164.9 L415.1,167.4 L412.6,168.4 L410.1,169.9 L408.2,171.8 L402.2,172.8 L399.3,173.8 L397.8,176.3 L398.3,180.0 L398.0,180.0 L399.0,183.0 L400.1,189.0ZM399.9,182.8 L400.9,188.9 L400.8,189.5 L399.0,191.8 L396.3,192.4 L393.5,193.4 L391.3,195.1 L390.7,197.5 L391.8,200.6 L394.1,202.9 L396.4,204.8 L402.1,205.7 L405.0,205.2 L407.7,205.2 L411.5,206.2 L412.9,205.5 L413.8,203.2 L414.9,201.6 L415.3,201.3 L415.9,201.2 L416.5,201.8 L417.5,207.3 L419.3,210.1 L421.7,212.4 L424.0,213.8 L426.7,214.7 L429.9,214.3 L432.7,212.9 L435.6,211.0 L437.4,208.6 L439.0,205.5 L440.2,204.4 L440.9,204.2 L441.5,204.7 L444.0,210.1 L445.9,212.5 L447.7,214.1 L451.1,214.7 L457.2,214.8 L460.3,215.8 L463.2,216.3 L465.9,216.8 L468.0,218.4 L470.3,219.3 L472.8,219.3 L475.4,219.8 L476.5,220.3 L475.7,220.4 L472.6,219.9 L469.9,219.8 L467.6,218.8 L464.5,216.5 L463.0,216.8 L460.1,216.4 L457.1,215.4 L451.0,215.3 L447.5,214.7 L445.4,212.9 L443.5,210.5 L440.8,204.8 L439.5,205.9 L437.9,209.0 L435.9,211.5 L433.2,213.3 L430.2,214.8 L426.8,215.3 L423.8,214.4 L421.6,213.1 L418.9,210.4 L417.0,207.5 L415.7,201.8 L415.4,201.9 L414.4,203.4 L413.4,205.6 L412.1,206.5 L410.8,206.6 L407.5,205.8 L405.1,205.8 L401.9,206.3 L396.1,205.2 L393.6,203.3 L391.3,200.8 L390.2,197.6 L390.6,195.4 L391.1,194.5 L393.4,192.8 L395.9,191.9 L398.7,191.3 L400.4,189.0 L399.3,183.0 L398.6,180.6 L398.2,177.0 L398.6,175.5 L399.5,174.3 L400.5,173.7 L402.3,173.1 L408.3,172.1 L410.6,169.9 L412.7,168.7 L415.3,167.6 L416.3,164.9 L415.3,158.9 L413.9,156.2 L414.1,153.6 L415.2,152.0 L417.2,150.4 L418.8,148.3 L418.4,145.1 L419.4,142.4 L421.2,140.6 L423.6,139.5 L425.1,138.0 L425.6,136.9 L425.7,138.3 L424.1,140.0 L421.5,141.1 L419.8,142.8 L418.9,145.3 L419.3,148.6 L417.7,150.8 L415.7,152.3 L414.5,153.9 L414.5,156.3 L415.9,158.8 L416.9,164.9 L415.9,167.8 L415.5,168.2 L413.0,169.2 L410.7,170.6 L408.5,172.7 L402.5,173.7 L399.9,174.5 L398.8,176.5 L399.1,180.4 L399.9,182.8ZM478.6,221.4 L479.9,223.6 L480.9,224.7 L482.7,224.4 L485.1,222.0 L484.6,223.2 L483.4,224.5 L482.4,225.0 L481.3,225.1 L480.3,224.8 L479.5,224.1 L478.5,222.2 L478.3,221.3 L478.6,221.4ZM493.2,218.7 L505.9,214.8 L507.9,214.0 L508.3,212.3 L506.4,209.5 L506.3,206.3 L505.1,203.9 L503.4,203.6 L501.2,204.8 L496.1,208.9 L493.5,209.0 L493.0,208.7 L491.4,206.0 L490.8,202.8 L490.0,200.8 L487.9,200.0 L485.1,199.5 L482.3,199.5 L479.5,200.5 L476.8,198.4 L477.3,195.7 L479.4,193.6 L480.2,191.5 L479.8,188.9 L478.3,186.4 L478.3,185.7 L479.4,184.0 L483.6,179.7 L486.0,172.2 L485.6,169.7 L484.1,167.8 L483.6,164.8 L482.3,162.6 L480.2,160.9 L477.9,160.9 L475.7,162.6 L474.0,164.8 L473.5,167.4 L474.0,170.6 L475.0,173.8 L474.7,174.4 L474.2,174.7 L471.2,173.6 L468.4,171.9 L468.3,171.1 L469.3,168.7 L469.3,166.2 L468.0,164.1 L465.9,162.8 L462.9,162.4 L460.8,163.3 L458.9,164.6 L456.9,166.7 L456.0,166.7 L455.6,166.3 L455.5,165.8 L456.5,163.3 L456.5,160.6 L456.0,158.1 L456.0,155.4 L454.8,153.9 L452.5,152.9 L452.0,152.2 L452.5,149.0 L453.5,145.5 L454.0,142.4 L453.2,140.6 L451.0,139.8 L449.6,140.6 L447.9,142.1 L444.9,142.2 L442.4,140.4 L441.4,138.0 L439.6,136.9 L435.2,138.7 L430.0,137.7 L429.5,137.2 L429.4,136.4 L430.2,137.1 L435.2,138.1 L438.7,136.6 L440.3,136.7 L441.9,137.8 L442.9,140.0 L445.1,141.6 L447.7,141.6 L449.3,140.0 L450.8,139.5 L452.6,139.8 L453.7,140.5 L454.3,141.6 L454.5,142.8 L454.1,145.5 L453.1,149.0 L452.6,152.1 L455.1,153.4 L456.5,155.3 L456.6,158.1 L457.0,160.5 L457.1,162.9 L456.1,165.8 L456.3,166.2 L456.6,166.1 L458.4,164.3 L460.2,163.0 L462.1,162.1 L463.2,161.9 L466.3,162.4 L468.5,163.8 L469.8,166.0 L469.8,168.8 L468.9,171.5 L471.5,173.1 L474.1,174.1 L474.4,173.7 L473.4,170.8 L473.0,167.5 L473.3,165.0 L473.8,164.0 L475.5,162.0 L477.1,160.7 L478.1,160.4 L480.5,160.5 L482.7,162.2 L484.1,164.6 L484.7,167.5 L486.1,169.6 L486.5,172.4 L484.1,180.0 L479.9,184.3 L478.8,185.9 L480.3,188.7 L480.7,191.5 L479.8,193.9 L477.8,195.9 L477.3,198.2 L479.6,199.9 L482.2,198.9 L484.9,198.9 L488.1,199.4 L489.8,200.1 L490.6,200.9 L491.3,202.4 L491.9,205.7 L493.6,208.4 L495.8,208.4 L500.7,204.5 L502.8,203.3 L504.3,203.2 L505.5,203.8 L506.8,206.1 L506.9,209.2 L508.5,211.8 L508.6,212.8 L508.3,213.8 L507.4,214.8 L506.0,215.4 L494.8,218.8 L493.2,218.7ZM472.8,209.1 L472.7,208.4 L473.1,207.9 L476.7,206.3 L481.4,205.8 L484.7,207.4 L487.3,210.0 L489.9,212.6 L492.0,215.2 L492.0,216.0 L491.5,216.6 L491.5,215.6 L489.5,213.0 L484.4,207.9 L481.0,206.3 L477.0,206.8 L473.3,208.5 L475.3,211.3 L476.8,213.8 L478.3,216.8 L478.5,217.6 L477.8,217.2 L474.9,211.6 L472.8,209.1ZM483.6,219.3 L482.3,219.5 L480.4,218.6 L481.5,218.6 L483.6,219.3ZM456.2,206.9 L454.6,204.9 L454.7,204.2 L455.1,203.8 L459.0,204.2 L464.7,203.2 L467.7,205.5 L469.9,208.1 L470.0,208.7 L468.2,211.8 L465.5,213.0 L462.5,211.3 L460.9,208.8 L458.7,207.5 L456.2,206.9ZM463.9,193.1 L463.4,192.5 L463.2,190.1 L463.4,189.5 L464.2,189.2 L466.7,189.9 L467.0,190.7 L466.3,193.2 L465.6,193.5 L463.9,193.1ZM407.6,197.5 L407.1,197.3 L406.8,196.9 L404.7,189.3 L404.8,188.7 L405.4,188.2 L409.0,189.3 L409.5,189.9 L410.5,196.3 L410.0,196.9 L407.6,197.5ZM481.1,206.6 L484.1,208.1 L489.2,213.1 L491.2,215.7 L487.2,216.7 L482.6,218.7 L478.6,216.7 L475.6,211.1 L473.6,208.6 L477.1,207.1 L481.1,206.6ZM464.0,192.3 L464.2,192.6 L465.8,192.8 L466.3,190.4 L463.9,189.9 L464.0,192.3ZM465.6,192.6 L464.3,192.3 L464.1,190.1 L466.1,190.6 L465.6,192.6ZM407.3,196.6 L407.7,196.9 L409.9,196.2 L408.9,190.0 L405.5,188.8 L405.3,189.2 L407.3,196.6ZM407.6,196.6 L405.6,189.1 L408.6,190.1 L409.6,196.1 L407.6,196.6ZM467.3,205.9 L464.6,203.8 L459.1,204.8 L455.5,204.3 L455.2,204.6 L456.3,206.4 L459.0,207.0 L461.0,208.1 L462.9,210.8 L465.4,212.5 L467.8,211.3 L469.4,208.7 L467.3,205.9ZM464.6,204.1 L467.1,206.1 L469.1,208.6 L467.6,211.1 L465.6,212.1 L463.1,210.6 L461.6,208.1 L459.0,206.6 L456.5,206.1 L455.5,204.6 L459.0,205.1 L464.6,204.1Z" fill="#808080" fill-rule="evenodd"/>
<g fill="#808080"><circle cx="401.3" cy="180.3" r="3.0"/><circle cx="402.3" cy="184.3" r="3.0"/><circle cx="403.3" cy="187.3" r="3.0"/><circle cx="407.0" cy="186.5" r="3.0"/><circle cx="410.8" cy="188.2" r="3.0"/><circle cx="412.0" cy="192.1" r="3.0"/><circle cx="412.5" cy="196.3" r="3.0"/><circle cx="409.9" cy="199.1" r="3.0"/><circle cx="405.9" cy="199.0" r="3.0"/><circle cx="404.2" cy="195.3" r="3.0"/><circle cx="403.1" cy="191.3" r="3.0"/><circle cx="401.0" cy="192.8" r="3.0"/><circle cx="397.2" cy="194.5" r="3.0"/><circle cx="393.4" cy="196.1" r="3.0"/><circle cx="394.0" cy="199.8" r="3.0"/><circle cx="397.2" cy="202.6" r="3.0"/><circle cx="401.2" cy="203.4" r="3.0"/><circle cx="405.4" cy="203.1" r="3.0"/><circle cx="409.5" cy="203.5" r="3.0"/><circle cx="412.3" cy="201.7" r="3.0"/><circle cx="415.3" cy="199.2" r="3.0"/><circle cx="418.5" cy="201.4" r="3.0"/><circle cx="419.3" cy="205.5" r="3.0"/><circle cx="421.3" cy="209.1" r="3.0"/><circle cx="424.5" cy="211.7" r="3.0"/><circle cx="428.5" cy="212.3" r="3.0"/><circle cx="432.3" cy="210.6" r="3.0"/><circle cx="435.4" cy="207.8" r="3.0"/><circle cx="437.5" cy="204.2" r="3.0"/><circle cx="440.9" cy="202.2" r="3.0"/><circle cx="443.8" cy="204.8" r="3.0"/><circle cx="445.6" cy="208.6" r="3.0"/><circle cx="448.2" cy="211.8" r="3.0"/><circle cx="452.2" cy="212.7" r="3.0"/><circle cx="456.4" cy="212.7" r="3.0"/><circle cx="460.5" cy="213.6" r="3.0"/><circle cx="461.9" cy="213.3" r="3.0"/><circle cx="459.2" cy="210.2" r="3.0"/><circle cx="455.3" cy="208.8" r="3.0"/><circle cx="452.8" cy="205.6" r="3.0"/><circle cx="454.1" cy="202.1" r="3.0"/><circle cx="458.1" cy="202.0" r="3.0"/><circle cx="462.3" cy="201.5" r="3.0"/><circle cx="466.3" cy="201.7" r="3.0"/><circle cx="469.5" cy="204.4" r="3.0"/><circle cx="472.4" cy="205.9" r="3.0"/><circle cx="476.3" cy="204.2" r="3.0"/><circle cx="480.4" cy="203.7" r="3.0"/><circle cx="484.4" cy="204.9" r="3.0"/><circle cx="487.6" cy="207.5" r="3.0"/><circle cx="490.6" cy="210.4" r="3.0"/><circle cx="493.3" cy="213.6" r="3.0"/><circle cx="495.5" cy="215.8" r="3.0"/><circle cx="499.5" cy="214.5" r="3.0"/><circle cx="503.5" cy="213.3" r="3.0"/><circle cx="505.0" cy="211.1" r="3.0"/><circle cx="504.2" cy="207.1" r="3.0"/><circle cx="501.4" cy="207.4" r="3.0"/><circle cx="498.1" cy="210.0" r="3.0"/><circle cx="494.3" cy="211.1" r="3.0"/><circle cx="490.8" cy="209.2" r="3.0"/><circle cx="489.1" cy="205.4" r="3.0"/><circle cx="487.3" cy="202.0" r="3.0"/><circle cx="483.2" cy="201.6" r="3.0"/><circle cx="479.1" cy="202.5" r="3.0"/><circle cx="475.7" cy="200.2" r="3.0"/><circle cx="475.0" cy="196.4" r="3.0"/><circle cx="477.0" cy="192.9" r="3.0"/><circle cx="477.5" cy="189.1" r="3.0"/><circle cx="476.2" cy="185.3" r="3.0"/><circle cx="478.6" cy="181.8" r="3.0"/><circle cx="481.6" cy="178.9" r="3.0"/><circle cx="482.9" cy="174.9" r="3.0"/><circle cx="483.6" cy="170.9" r="3.0"/><circle cx="481.9" cy="167.1" r="3.0"/><circle cx="480.1" cy="163.5" r="3.0"/><circle cx="476.7" cy="164.7" r="3.0"/><circle cx="475.8" cy="168.6" r="3.0"/><circle cx="476.9" cy="172.6" r="3.0"/><circle cx="475.6" cy="176.3" r="3.0"/><circle cx="471.7" cy="176.0" r="3.0"/><circle cx="468.0" cy="174.1" r="3.0"/><circle cx="466.3" cy="170.6" r="3.0"/><circle cx="467.1" cy="166.6" r="3.0"/><circle cx="463.7" cy="164.6" r="3.0"/><circle cx="460.1" cy="166.5" r="3.0"/><circle cx="456.7" cy="168.8" r="3.0"/><circle cx="453.5" cy="166.7" r="3.0"/><circle cx="454.4" cy="162.7" r="3.0"/><circle cx="453.9" cy="158.6" r="3.0"/><circle cx="452.5" cy="155.1" r="3.0"/><circle cx="450.0" cy="152.2" r="3.0"/><circle cx="450.6" cy="148.1" r="3.0"/><circle cx="451.6" cy="144.0" r="3.0"/><circle cx="449.6" cy="143.5" r="3.0"/><circle cx="445.6" cy="144.2" r="3.0"/><circle cx="441.9" cy="142.6" r="3.0"/><circle cx="439.6" cy="139.3" r="3.0"/><circle cx="435.7" cy="140.7" r="3.0"/><circle cx="431.6" cy="140.2" r="3.0"/><circle cx="427.9" cy="138.6" r="3.0"/><circle cx="425.2" cy="141.7" r="3.0"/><circle cx="421.7" cy="143.8" r="3.0"/><circle cx="421.5" cy="147.9" r="3.0"/><circle cx="419.7" cy="151.5" r="3.0"/><circle cx="416.7" cy="154.4" r="3.0"/><circle cx="417.9" cy="158.2" r="3.0"/><circle cx="418.6" cy="162.4" r="3.0"/><circle cx="418.6" cy="166.5" r="3.0"/><circle cx="416.5" cy="170.0" r="3.0"/><circle cx="412.7" cy="171.8" r="3.0"/><circle cx="409.5" cy="174.5" r="3.0"/><circle cx="405.4" cy="175.3" r="3.0"/><circle cx="401.4" cy="176.3" r="3.0"/><circle cx="463.6" cy="195.2" r="3.0"/><circle cx="461.3" cy="191.9" r="3.0"/><circle cx="462.2" cy="187.9" r="3.0"/><circle cx="466.3" cy="187.7" r="3.0"/><circle cx="469.1" cy="190.6" r="3.0"/><circle cx="467.7" cy="194.7" r="3.0"/><circle cx="466.7" cy="214.9" r="3.0"/><circle cx="470.2" cy="217.0" r="3.0"/><circle cx="474.3" cy="217.5" r="3.0"/><circle cx="474.6" cy="215.5" r="3.0"/><circle cx="472.4" cy="212.0" r="3.0"/><circle cx="470.1" cy="212.6" r="3.0"/><circle cx="481.0" cy="221.3" r="3.0"/><circle cx="412.1" cy="211.6" r="3.0"/></g>
<path d="M583.1,182.5 L580.1,183.5 L577.1,184.0 L574.6,185.0 L573.5,187.5 L574.0,191.1 L577.1,195.6 L574.6,198.1 L573.5,201.1 L573.5,206.6 L571.0,208.1 L568.0,208.1 L565.5,209.1 L564.5,211.1 L565.5,213.6 L570.5,215.6 L571.5,217.4 L574.0,218.2 L577.1,218.4 L579.6,219.4 L581.1,221.2 L583.6,222.7 L586.1,223.7 L588.6,224.2 L592.6,226.2 L595.1,225.2 L597.1,222.7 L598.6,220.2 L599.1,216.7 L600.1,212.6 L601.7,214.6 L606.2,216.7 L606.7,219.2 L606.0,220.7 L607.0,219.2 L607.5,216.2 L610.0,215.1 L613.0,214.6 L619.0,212.6 L624.6,209.6 L626.1,213.6 L628.6,214.1 L630.6,212.6 L634.6,208.6 L634.1,206.1 L631.1,205.1 L629.1,203.1 L626.6,202.1 L627.1,200.1 L631.6,198.1 L634.6,197.1 L636.6,191.6 L636.6,188.5 L638.6,182.5 L638.1,179.5 L638.5,180.0 L639.5,173.8 L642.4,165.4 L642.9,163.0 L645.4,163.5 L647.9,163.0 L649.3,160.5 L648.8,157.5 L649.3,155.1 L651.8,153.6 L652.8,151.1 L651.3,148.7 L648.3,148.2 L645.4,149.2 L642.9,149.7 L640.0,149.7 L637.5,150.7 L636.0,150.7 L636.0,147.2 L640.0,145.2 L641.5,142.8 L641.0,139.8 L639.0,137.8 L636.0,137.8 L633.1,138.8 L630.1,140.3 L628.2,141.8 L628.7,143.8 L627.7,146.2 L625.7,147.7 L625.2,145.7 L623.7,143.3 L621.8,141.3 L620.3,138.8 L618.3,136.4 L615.8,135.4 L612.9,136.4 L610.4,136.9 L610.0,133.9 L609.3,132.9 L607.8,132.4 L605.8,132.9 L604.3,134.9 L603.3,137.4 L601.9,138.8 L600.9,141.8 L600.4,144.7 L601.4,146.7 L600.4,148.7 L599.9,150.7 L597.4,151.6 L594.5,151.6 L591.5,152.1 L590.1,154.1 L590.5,156.6 L593.0,157.5 L595.0,159.0 L594.0,164.4 L588.6,166.9 L586.1,166.4 L583.2,166.9 L581.7,169.4 L581.7,173.3 L582.7,176.8 L584.6,180.5 L583.1,182.5ZM585.4,180.1 L585.4,181.0 L583.5,183.3 L580.3,184.4 L577.3,184.9 L575.2,185.7 L574.5,187.7 L574.9,190.7 L578.0,195.6 L577.8,196.1 L575.3,198.6 L574.4,201.2 L574.4,206.9 L574.1,207.3 L571.4,209.0 L568.2,209.0 L566.2,209.8 L565.5,211.2 L566.2,212.9 L571.0,214.9 L572.1,216.6 L574.2,217.3 L577.3,217.5 L579.9,218.5 L581.7,220.5 L584.0,221.9 L586.4,222.8 L588.9,223.3 L592.7,225.2 L594.6,224.4 L596.4,222.2 L597.8,219.9 L598.8,214.0 L599.3,212.3 L599.8,211.8 L600.7,212.0 L602.2,213.9 L606.6,215.9 L607.1,215.4 L609.8,214.3 L612.8,213.8 L618.7,211.8 L624.4,208.8 L625.0,208.8 L625.4,209.2 L626.7,212.9 L628.4,213.2 L630.0,212.0 L633.5,208.5 L633.1,209.7 L630.2,212.5 L628.8,213.3 L627.5,213.4 L626.4,212.8 L625.7,212.0 L624.8,209.5 L624.5,209.3 L618.7,212.4 L613.2,214.3 L610.0,214.9 L606.4,216.1 L605.4,215.9 L602.1,214.5 L600.4,212.4 L600.0,212.4 L599.3,214.2 L598.2,220.3 L596.8,222.7 L595.2,224.6 L594.3,225.2 L593.0,225.6 L591.8,225.4 L588.7,223.9 L586.2,223.4 L583.7,222.4 L581.4,221.0 L579.7,219.1 L577.1,218.1 L574.1,217.8 L572.5,217.3 L571.6,216.7 L570.7,215.4 L566.5,213.6 L565.7,212.9 L565.3,211.7 L565.5,210.3 L566.1,209.5 L568.1,208.5 L571.1,208.4 L573.8,206.8 L574.0,200.7 L574.9,198.2 L577.3,195.7 L574.4,190.9 L573.9,187.7 L574.5,186.1 L575.4,185.1 L576.9,184.4 L580.2,183.8 L583.2,182.8 L584.9,180.6 L583.0,176.6 L582.0,173.4 L582.0,170.0 L582.4,168.8 L583.2,167.6 L584.1,167.1 L586.1,166.8 L588.6,167.2 L594.3,164.6 L595.3,158.9 L592.4,156.8 L591.7,156.1 L593.5,156.8 L595.8,158.7 L594.7,164.9 L588.8,167.8 L586.1,167.3 L583.7,167.7 L582.6,169.6 L582.6,173.2 L583.5,176.4 L585.4,180.1ZM630.8,206.0 L628.6,203.9 L625.8,202.6 L625.7,202.0 L626.2,199.8 L626.6,199.3 L628.8,198.3 L633.9,196.4 L635.7,191.4 L635.7,188.4 L637.7,182.5 L637.2,179.4 L637.8,178.7 L638.6,173.6 L641.6,165.2 L642.1,162.6 L642.8,162.1 L645.4,162.5 L647.3,162.2 L648.4,160.3 L647.9,157.5 L648.5,154.7 L651.1,153.0 L651.8,151.2 L650.7,149.5 L648.4,149.1 L645.7,150.0 L643.1,150.5 L640.2,150.6 L637.7,151.5 L635.9,151.5 L635.4,151.3 L635.1,150.7 L635.2,146.8 L639.3,144.5 L640.5,142.6 L640.1,140.3 L638.6,138.7 L636.2,138.7 L633.4,139.7 L630.6,141.1 L629.2,142.1 L629.5,143.9 L628.4,146.8 L626.2,148.5 L625.4,148.5 L624.9,148.1 L624.4,146.1 L623.0,143.8 L621.0,141.8 L619.5,139.3 L617.8,137.1 L615.8,136.3 L613.1,137.3 L610.1,137.7 L609.6,137.1 L609.2,134.3 L608.7,133.7 L607.7,133.4 L606.3,133.7 L605.1,135.3 L604.1,137.9 L602.7,139.3 L601.8,142.0 L601.3,144.6 L602.3,146.9 L601.2,149.0 L600.6,151.2 L597.6,152.5 L594.6,152.5 L592.1,153.0 L593.4,152.1 L597.5,151.9 L600.1,150.8 L600.7,148.8 L601.7,146.8 L601.0,145.2 L600.8,144.1 L601.2,141.9 L601.9,139.6 L602.4,138.7 L603.6,137.5 L604.8,134.8 L605.5,133.9 L606.4,133.4 L608.0,133.3 L608.7,133.7 L609.1,134.0 L609.8,135.1 L610.1,136.9 L610.4,137.2 L615.7,135.9 L616.8,136.1 L618.2,136.8 L619.9,138.9 L621.5,141.5 L623.7,143.7 L624.8,145.7 L625.6,148.0 L627.9,146.4 L628.9,143.8 L629.0,142.1 L629.9,140.8 L633.0,139.2 L635.7,138.3 L638.0,138.2 L639.2,138.6 L640.4,139.8 L640.8,140.8 L641.0,142.5 L640.6,143.6 L639.7,144.9 L635.8,147.0 L635.8,150.9 L637.6,150.9 L640.0,150.0 L643.0,149.9 L648.5,148.6 L650.9,149.1 L651.5,149.7 L652.0,150.6 L652.1,151.9 L651.7,153.0 L651.0,153.7 L649.1,155.0 L648.5,157.5 L648.9,160.3 L648.1,161.9 L647.3,162.6 L645.9,163.0 L642.9,162.7 L642.7,162.9 L642.1,165.5 L639.2,173.7 L638.5,178.2 L637.8,179.5 L638.2,182.9 L636.3,188.5 L636.3,191.6 L634.7,195.9 L633.7,197.0 L629.0,198.8 L626.8,200.0 L626.4,202.3 L628.9,203.4 L630.9,205.3 L632.4,206.0 L633.1,206.7 L630.8,206.0Z" fill="#0000ff" fill-rule="evenodd"/>
<g fill="#0000ff"><circle cx="567.9" cy="211.4" r="3.0"/><circle cx="571.8" cy="213.0" r="3.0"/><circle cx="575.1" cy="215.2" r="3.0"/><circle cx="579.2" cy="216.0" r="3.0"/><circle cx="582.6" cy="218.3" r="3.0"/><circle cx="586.1" cy="220.5" r="3.0"/><circle cx="590.1" cy="221.6" r="3.0"/><circle cx="593.7" cy="222.1" r="3.0"/><circle cx="595.9" cy="218.6" r="3.0"/><circle cx="596.6" cy="214.4" r="3.0"/><circle cx="598.0" cy="210.5" r="3.0"/><circle cx="601.9" cy="210.2" r="3.0"/><circle cx="605.0" cy="212.8" r="3.0"/><circle cx="608.9" cy="212.4" r="3.0"/><circle cx="613.0" cy="211.5" r="3.0"/><circle cx="617.0" cy="210.2" r="3.0"/><circle cx="620.7" cy="208.3" r="3.0"/><circle cx="624.6" cy="206.7" r="3.0"/><circle cx="627.5" cy="209.2" r="3.0"/><circle cx="630.0" cy="209.0" r="3.0"/><circle cx="628.3" cy="206.6" r="3.0"/><circle cx="624.8" cy="204.4" r="3.0"/><circle cx="623.9" cy="200.7" r="3.0"/><circle cx="626.0" cy="197.3" r="3.0"/><circle cx="629.9" cy="195.6" r="3.0"/><circle cx="632.9" cy="193.2" r="3.0"/><circle cx="633.7" cy="189.1" r="3.0"/><circle cx="634.6" cy="185.1" r="3.0"/><circle cx="635.3" cy="181.1" r="3.0"/><circle cx="636.0" cy="177.1" r="3.0"/><circle cx="636.6" cy="172.9" r="3.0"/><circle cx="638.0" cy="168.9" r="3.0"/><circle cx="639.4" cy="165.0" r="3.0"/><circle cx="640.7" cy="161.0" r="3.0"/><circle cx="644.5" cy="160.2" r="3.0"/><circle cx="645.9" cy="157.6" r="3.0"/><circle cx="646.8" cy="153.6" r="3.0"/><circle cx="648.7" cy="151.3" r="3.0"/><circle cx="644.7" cy="152.4" r="3.0"/><circle cx="640.5" cy="152.7" r="3.0"/><circle cx="636.4" cy="153.6" r="3.0"/><circle cx="633.2" cy="151.5" r="3.0"/><circle cx="633.1" cy="147.3" r="3.0"/><circle cx="635.4" cy="144.2" r="3.0"/><circle cx="638.2" cy="141.6" r="3.0"/><circle cx="634.6" cy="141.5" r="3.0"/><circle cx="631.6" cy="143.9" r="3.0"/><circle cx="630.1" cy="147.8" r="3.0"/><circle cx="626.9" cy="150.4" r="3.0"/><circle cx="623.2" cy="149.3" r="3.0"/><circle cx="621.6" cy="145.5" r="3.0"/><circle cx="618.9" cy="142.3" r="3.0"/><circle cx="616.5" cy="138.9" r="3.0"/><circle cx="612.4" cy="139.4" r="3.0"/><circle cx="608.5" cy="139.1" r="3.0"/><circle cx="607.0" cy="136.6" r="3.0"/><circle cx="604.8" cy="140.2" r="3.0"/><circle cx="603.5" cy="144.1" r="3.0"/><circle cx="604.0" cy="148.1" r="3.0"/><circle cx="602.5" cy="152.0" r="3.0"/><circle cx="599.1" cy="154.2" r="3.0"/><circle cx="594.9" cy="154.7" r="3.0"/><circle cx="596.8" cy="156.7" r="3.0"/><circle cx="597.8" cy="160.5" r="3.0"/><circle cx="597.0" cy="164.6" r="3.0"/><circle cx="594.3" cy="167.6" r="3.0"/><circle cx="590.5" cy="169.3" r="3.0"/><circle cx="586.4" cy="169.5" r="3.0"/><circle cx="584.7" cy="172.3" r="3.0"/><circle cx="585.8" cy="176.3" r="3.0"/><circle cx="587.5" cy="180.1" r="3.0"/><circle cx="585.8" cy="183.8" r="3.0"/><circle cx="582.3" cy="185.9" r="3.0"/><circle cx="578.3" cy="186.9" r="3.0"/><circle cx="576.9" cy="190.0" r="3.0"/><circle cx="579.3" cy="193.5" r="3.0"/><circle cx="579.4" cy="197.4" r="3.0"/><circle cx="576.9" cy="200.6" r="3.0"/><circle cx="576.5" cy="204.8" r="3.0"/><circle cx="575.6" cy="208.7" r="3.0"/><circle cx="572.1" cy="210.9" r="3.0"/></g>
<path d="M100.4,296.0 L102.4,309.7 L104.4,312.2 L106.8,313.7 L109.3,312.7 L110.3,310.2 L110.8,306.8 L112.2,304.3 L114.2,303.8 L116.7,304.3 L117.2,305.8 L117.2,309.2 L118.7,311.7 L120.6,313.7 L121.1,316.1 L121.1,319.1 L120.1,321.6 L120.1,330.9 L121.6,332.9 L123.1,334.4 L121.6,336.3 L121.6,339.3 L123.1,342.2 L125.5,343.2 L128.0,341.8 L129.5,339.3 L129.0,336.3 L131.0,330.9 L132.4,329.4 L133.9,329.9 L134.9,331.9 L136.4,333.4 L138.3,332.9 L139.3,330.4 L139.8,327.5 L140.8,325.5 L141.8,327.5 L141.8,330.4 L143.3,332.4 L145.9,332.9 L147.0,332.4 L148.5,329.4 L148.5,325.5 L151.4,321.1 L152.4,322.5 L154.9,323.5 L156.8,322.5 L157.3,320.6 L158.8,318.6 L160.8,320.1 L163.7,320.1 L166.2,319.1 L167.7,316.6 L168.7,314.2 L170.6,313.2 L173.1,313.7 L175.1,312.7 L175.5,310.2 L176.5,308.8 L178.5,309.2 L180.5,308.8 L181.9,307.8 L185.9,309.7 L188.3,310.2 L191.3,311.2 L194.3,310.7 L196.2,308.8 L196.7,305.8 L194.8,303.3 L194.3,300.9 L194.3,297.9 L193.8,297.0 L194.3,293.8 L193.8,290.9 L191.9,289.5 L189.5,290.4 L188.0,292.8 L186.6,291.4 L184.6,289.9 L182.2,289.5 L182.2,286.6 L183.2,284.2 L182.7,281.7 L180.8,279.8 L178.4,278.4 L175.9,278.8 L174.0,280.3 L171.6,279.8 L169.2,280.3 L166.8,275.9 L164.4,275.5 L162.4,276.9 L161.5,280.3 L159.0,279.8 L158.6,276.9 L159.0,274.0 L160.0,271.6 L160.5,268.2 L158.6,262.4 L157.6,255.7 L156.1,253.2 L153.7,253.2 L152.3,255.2 L151.8,258.6 L150.0,260.5 L148.6,260.0 L146.2,260.5 L144.8,259.5 L144.3,256.6 L142.8,254.7 L139.0,254.7 L138.5,251.8 L136.1,250.3 L134.2,251.3 L133.2,254.2 L133.2,257.6 L131.7,259.5 L129.3,260.5 L127.9,262.4 L127.4,265.3 L126.4,267.7 L124.0,272.1 L122.6,274.0 L118.7,277.9 L117.7,280.3 L115.8,281.3 L113.4,280.8 L111.5,282.7 L111.9,285.6 L112.9,288.5 L110.5,289.5 L108.6,290.9 L107.1,293.3 L106.1,289.9 L104.7,287.5 L102.3,286.6 L100.3,288.5 L100.3,292.4 L100.8,297.0 L100.4,296.0ZM101.1,298.2 L100.6,291.1 L100.8,290.3 L101.2,289.4 L101.2,292.3 L101.7,297.0 L101.6,297.5 L103.3,309.4 L105.0,311.5 L106.9,312.7 L108.6,312.0 L109.4,310.0 L109.9,306.5 L111.6,303.7 L114.2,302.9 L116.9,303.5 L117.5,303.9 L118.1,305.7 L118.1,309.0 L119.4,311.2 L121.4,313.3 L122.0,316.0 L122.0,319.3 L121.0,321.7 L121.0,330.6 L124.0,334.2 L123.9,334.8 L122.5,336.6 L122.5,339.1 L123.7,341.5 L125.5,342.2 L127.4,341.1 L128.5,339.1 L128.1,336.1 L130.3,330.3 L132.3,328.6 L134.2,329.1 L134.7,329.5 L135.5,331.0 L134.7,330.5 L134.1,329.7 L132.5,329.1 L130.7,330.8 L128.7,336.3 L129.0,338.5 L128.9,339.6 L127.8,341.4 L126.7,342.2 L125.1,342.6 L123.8,342.1 L123.0,341.3 L122.0,339.3 L122.0,336.6 L123.4,334.3 L121.0,331.5 L120.4,330.2 L120.4,321.9 L121.4,319.1 L121.4,316.1 L120.9,313.5 L118.9,311.5 L117.6,309.4 L117.5,305.8 L116.9,304.2 L114.2,303.5 L112.1,304.1 L110.5,306.7 L110.0,310.2 L109.1,312.0 L107.6,312.9 L105.9,312.7 L104.4,311.8 L103.0,309.9 L102.6,309.2 L101.1,298.2ZM104.3,288.6 L105.1,289.1 L105.8,290.0 L106.8,293.4 L107.1,293.6 L109.2,290.8 L110.8,289.7 L113.1,288.7 L112.1,284.6 L112.0,283.8 L112.4,282.8 L113.7,281.6 L114.7,281.4 L115.9,281.5 L117.9,280.5 L119.2,277.9 L122.9,274.1 L124.3,272.2 L126.7,267.9 L127.7,265.4 L128.4,262.2 L129.6,260.8 L131.9,259.7 L133.4,257.7 L133.5,255.3 L134.2,253.9 L134.0,258.0 L132.3,260.2 L129.9,261.2 L128.7,262.8 L128.3,265.6 L127.3,268.1 L124.7,272.6 L123.2,274.6 L119.5,278.4 L118.3,281.0 L116.0,282.1 L113.7,281.7 L112.4,283.0 L112.8,285.4 L113.8,288.3 L113.6,289.1 L110.9,290.3 L109.2,291.5 L107.8,293.9 L107.1,294.2 L106.3,293.7 L105.3,290.3 L104.3,288.6ZM137.9,253.7 L138.9,255.0 L141.9,255.1 L143.1,255.7 L144.0,256.9 L144.5,259.7 L146.1,260.8 L148.4,260.4 L150.2,260.7 L152.0,258.7 L152.3,257.3 L153.0,256.2 L152.6,258.9 L150.3,261.3 L148.6,260.9 L146.0,261.4 L144.0,260.0 L143.4,257.0 L142.4,255.6 L138.6,255.5 L138.1,255.0 L137.9,253.7ZM156.8,256.2 L157.5,257.6 L158.3,262.5 L160.1,268.4 L159.7,271.5 L158.8,273.9 L158.3,276.8 L158.8,280.0 L161.6,280.5 L162.9,277.2 L163.9,276.4 L164.9,276.1 L166.2,276.4 L167.0,277.0 L169.1,280.6 L171.6,280.2 L174.0,280.6 L176.4,279.1 L177.8,278.8 L179.0,279.1 L180.8,280.3 L182.0,281.5 L182.5,282.4 L182.8,284.1 L181.9,286.5 L182.0,289.7 L184.8,290.5 L188.0,293.1 L189.6,291.2 L191.2,290.7 L190.1,291.2 L188.6,293.5 L188.1,293.7 L187.6,293.6 L184.3,290.8 L182.0,290.3 L181.5,290.0 L181.3,286.5 L182.3,284.1 L181.9,282.2 L180.2,280.5 L178.2,279.3 L176.3,279.7 L174.2,281.2 L171.6,280.7 L169.0,281.2 L168.4,280.8 L166.2,276.7 L164.6,276.4 L163.2,277.4 L162.3,280.6 L162.0,281.0 L161.3,281.2 L158.8,280.7 L158.3,280.4 L157.7,276.9 L158.2,273.8 L159.1,271.4 L159.6,268.3 L157.7,262.6 L156.8,256.2ZM192.5,291.1 L193.2,291.6 L193.5,292.0 L193.9,293.4 L193.5,297.0 L193.9,298.1 L194.0,300.9 L194.4,303.3 L195.8,305.1 L196.2,306.3 L195.8,308.6 L194.5,310.0 L193.3,310.6 L190.9,310.8 L185.9,309.4 L182.0,307.5 L180.2,308.5 L178.9,308.8 L176.4,308.5 L175.3,310.1 L174.8,311.8 L173.9,312.7 L172.4,313.2 L170.6,312.9 L168.5,314.0 L167.4,316.5 L166.5,318.1 L165.4,319.1 L163.7,319.7 L161.5,319.8 L160.6,319.5 L158.7,318.3 L157.1,320.4 L156.4,321.9 L155.6,322.5 L154.6,322.8 L153.1,322.4 L151.6,320.9 L151.2,320.8 L148.2,325.4 L148.1,329.5 L147.3,331.1 L146.3,332.0 L145.4,332.4 L144.3,332.3 L143.4,331.9 L142.8,331.3 L142.1,329.9 L142.1,327.4 L140.9,325.2 L140.5,325.4 L139.6,327.4 L139.0,329.8 L138.2,330.7 L139.0,327.1 L140.1,325.0 L140.9,324.6 L141.6,325.0 L142.6,327.1 L142.7,330.1 L143.8,331.6 L145.4,332.0 L146.3,331.7 L147.6,329.2 L147.6,325.2 L149.2,322.5 L150.9,320.3 L151.8,320.3 L153.0,321.8 L154.8,322.5 L156.1,321.9 L156.6,320.1 L158.5,317.8 L159.3,317.8 L161.1,319.2 L163.6,319.2 L165.6,318.4 L166.9,316.2 L168.0,313.5 L170.5,312.3 L173.0,312.7 L174.3,312.1 L174.8,309.8 L176.2,307.9 L178.5,308.3 L180.1,307.9 L182.0,306.9 L186.2,308.9 L188.6,309.4 L191.4,310.3 L193.8,309.9 L195.4,308.3 L195.8,306.1 L193.9,303.5 L193.4,301.0 L193.4,298.1 L192.9,297.0 L193.4,293.8 L193.0,291.4 L192.5,291.1Z" fill="#808080" fill-rule="evenodd"/>
<g fill="#808080"><circle cx="103.3" cy="291.1" r="3.0"/><circle cx="103.7" cy="295.3" r="3.0"/><circle cx="104.0" cy="299.5" r="3.0"/><circle cx="104.5" cy="303.7" r="3.0"/><circle cx="105.1" cy="307.9" r="3.0"/><circle cx="107.4" cy="309.3" r="3.0"/><circle cx="108.2" cy="305.2" r="3.0"/><circle cx="110.7" cy="301.8" r="3.0"/><circle cx="114.7" cy="300.9" r="3.0"/><circle cx="118.7" cy="302.1" r="3.0"/><circle cx="120.2" cy="306.0" r="3.0"/><circle cx="121.1" cy="310.0" r="3.0"/><circle cx="123.5" cy="313.3" r="3.0"/><circle cx="124.1" cy="317.5" r="3.0"/><circle cx="123.3" cy="321.6" r="3.0"/><circle cx="123.1" cy="325.8" r="3.0"/><circle cx="123.2" cy="330.0" r="3.0"/><circle cx="125.8" cy="333.3" r="3.0"/><circle cx="124.8" cy="337.1" r="3.0"/><circle cx="126.1" cy="339.1" r="3.0"/><circle cx="126.3" cy="335.0" r="3.0"/><circle cx="127.7" cy="331.0" r="3.0"/><circle cx="130.1" cy="327.6" r="3.0"/><circle cx="133.9" cy="326.8" r="3.0"/><circle cx="136.8" cy="327.7" r="3.0"/><circle cx="138.4" cy="323.8" r="3.0"/><circle cx="142.1" cy="322.9" r="3.0"/><circle cx="144.5" cy="326.2" r="3.0"/><circle cx="145.3" cy="329.1" r="3.0"/><circle cx="145.6" cy="324.9" r="3.0"/><circle cx="147.6" cy="321.2" r="3.0"/><circle cx="150.5" cy="318.3" r="3.0"/><circle cx="154.1" cy="319.7" r="3.0"/><circle cx="156.3" cy="316.9" r="3.0"/><circle cx="160.1" cy="316.0" r="3.0"/><circle cx="163.9" cy="316.8" r="3.0"/><circle cx="166.0" cy="313.2" r="3.0"/><circle cx="169.2" cy="310.6" r="3.0"/><circle cx="172.7" cy="309.7" r="3.0"/><circle cx="175.0" cy="306.3" r="3.0"/><circle cx="179.0" cy="306.0" r="3.0"/><circle cx="182.9" cy="305.0" r="3.0"/><circle cx="186.7" cy="306.8" r="3.0"/><circle cx="190.8" cy="307.9" r="3.0"/><circle cx="193.2" cy="306.1" r="3.0"/><circle cx="191.5" cy="302.4" r="3.0"/><circle cx="191.1" cy="298.2" r="3.0"/><circle cx="191.1" cy="294.0" r="3.0"/><circle cx="188.6" cy="295.8" r="3.0"/><circle cx="184.9" cy="294.1" r="3.0"/><circle cx="181.3" cy="292.3" r="3.0"/><circle cx="179.2" cy="289.0" r="3.0"/><circle cx="179.7" cy="284.8" r="3.0"/><circle cx="178.0" cy="281.6" r="3.0"/><circle cx="174.3" cy="283.2" r="3.0"/><circle cx="170.1" cy="283.2" r="3.0"/><circle cx="166.5" cy="281.6" r="3.0"/><circle cx="164.7" cy="279.8" r="3.0"/><circle cx="162.4" cy="283.1" r="3.0"/><circle cx="158.3" cy="282.7" r="3.0"/><circle cx="156.0" cy="279.5" r="3.0"/><circle cx="155.8" cy="275.3" r="3.0"/><circle cx="156.9" cy="271.3" r="3.0"/><circle cx="157.0" cy="267.2" r="3.0"/><circle cx="155.7" cy="263.2" r="3.0"/><circle cx="155.0" cy="259.0" r="3.0"/><circle cx="153.4" cy="261.1" r="3.0"/><circle cx="150.1" cy="263.5" r="3.0"/><circle cx="145.9" cy="263.5" r="3.0"/><circle cx="142.4" cy="261.3" r="3.0"/><circle cx="140.9" cy="257.7" r="3.0"/><circle cx="136.9" cy="256.8" r="3.0"/><circle cx="135.9" cy="258.7" r="3.0"/><circle cx="133.3" cy="261.9" r="3.0"/><circle cx="130.5" cy="264.6" r="3.0"/><circle cx="129.3" cy="268.7" r="3.0"/><circle cx="127.3" cy="272.4" r="3.0"/><circle cx="124.9" cy="275.9" r="3.0"/><circle cx="121.9" cy="278.9" r="3.0"/><circle cx="119.8" cy="282.4" r="3.0"/><circle cx="116.0" cy="284.1" r="3.0"/><circle cx="115.5" cy="286.9" r="3.0"/><circle cx="114.8" cy="290.8" r="3.0"/><circle cx="111.1" cy="292.7" r="3.0"/><circle cx="108.5" cy="295.9" r="3.0"/><circle cx="104.7" cy="295.1" r="3.0"/><circle cx="115.3" cy="270.2" r="3.0"/><circle cx="117.5" cy="270.0" r="3.0"/><circle cx="119.7" cy="269.7" r="3.0"/><circle cx="112.9" cy="276.0" r="3.0"/></g>
<path d="M317.5,275.6 L314.4,266.5 L312.7,265.9 L310.1,267.0 L312.4,273.7 L313.9,276.6 L315.7,277.3 L317.5,275.6ZM314.2,266.7 L317.2,275.6 L315.7,277.0 L314.2,276.5 L312.7,273.6 L310.3,267.2 L312.7,266.2 L314.2,266.7ZM257.8,301.9 L253.4,303.8 L252.4,306.3 L253.4,308.8 L256.4,309.8 L259.3,309.8 L265.7,308.8 L267.2,310.2 L268.7,312.2 L269.2,314.2 L268.7,317.1 L268.7,320.1 L270.2,321.6 L273.1,322.1 L275.6,321.1 L277.1,322.6 L278.5,324.5 L281.0,325.5 L283.0,324.5 L283.9,322.6 L287.9,324.5 L289.9,326.0 L290.8,328.5 L292.3,330.9 L295.0,332.9 L298.4,332.9 L300.9,333.4 L303.4,332.4 L305.8,329.9 L307.8,331.4 L310.3,332.4 L318.6,334.4 L321.1,333.4 L323.6,331.9 L324.5,329.9 L324.5,327.5 L325.5,325.0 L327.0,327.0 L329.5,327.5 L331.4,326.0 L331.9,323.1 L333.4,320.6 L334.4,317.6 L334.9,314.7 L334.4,311.7 L332.4,310.2 L330.5,309.8 L334.9,307.8 L337.3,307.3 L339.8,306.3 L340.8,303.8 L339.8,301.4 L340.3,298.4 L340.8,298.0 L341.8,294.8 L343.3,292.3 L343.8,288.8 L342.3,286.4 L337.8,283.4 L330.0,284.9 L327.5,284.9 L325.5,283.4 L324.5,276.5 L321.6,270.6 L320.6,264.7 L319.1,261.8 L316.7,260.8 L313.7,260.3 L310.3,260.3 L307.3,261.3 L305.3,262.2 L303.9,257.3 L301.9,254.9 L299.0,253.9 L298.2,253.4 L293.8,252.4 L291.3,250.9 L288.4,250.4 L286.4,251.4 L285.4,253.9 L286.9,255.8 L288.4,257.3 L286.4,258.3 L285.9,260.3 L284.4,261.8 L282.5,260.8 L279.5,260.3 L276.1,260.8 L273.1,261.8 L267.2,262.7 L264.2,263.7 L262.8,265.7 L262.8,268.7 L264.2,271.1 L264.2,274.1 L263.8,276.5 L262.8,279.0 L262.3,281.9 L259.3,281.0 L256.9,281.9 L256.4,284.9 L259.3,291.3 L260.3,294.3 L259.3,297.4 L257.8,299.4 L257.8,301.9ZM336.4,289.8 L334.4,291.3 L331.5,292.3 L329.5,291.3 L335.4,288.4 L336.4,289.8ZM258.0,302.1 L258.4,299.2 L259.6,297.5 L260.6,294.2 L259.6,291.1 L256.9,285.4 L256.8,284.1 L257.4,282.6 L258.6,281.7 L259.9,281.5 L262.2,282.2 L262.6,282.0 L263.1,279.1 L264.0,276.6 L264.5,274.1 L264.5,271.0 L263.3,269.0 L263.1,268.1 L263.1,266.2 L263.5,265.3 L264.7,263.9 L267.1,263.1 L273.2,262.0 L276.4,261.0 L279.9,260.7 L282.2,261.1 L284.6,262.0 L286.2,260.5 L287.0,258.6 L288.7,257.4 L286.6,255.0 L286.2,253.7 L286.3,252.9 L286.8,251.9 L287.6,251.2 L288.6,250.9 L291.2,251.3 L293.7,252.7 L298.0,253.6 L301.6,255.2 L303.6,257.5 L305.2,262.5 L307.6,261.5 L310.8,260.6 L313.7,260.6 L316.3,261.0 L318.7,262.0 L319.2,262.7 L320.3,264.9 L321.3,270.8 L324.3,276.8 L325.3,283.6 L327.4,285.2 L329.8,285.2 L331.0,285.6 L327.3,285.8 L324.8,283.9 L323.7,276.8 L320.7,270.9 L319.7,265.0 L318.5,262.5 L316.4,261.6 L313.6,261.2 L310.4,261.2 L307.7,262.1 L305.7,263.1 L305.0,263.1 L304.5,262.6 L303.1,257.8 L301.4,255.6 L297.9,254.2 L293.5,253.3 L291.0,251.8 L288.5,251.4 L287.1,252.1 L286.4,253.7 L289.1,256.8 L289.3,257.5 L288.9,258.1 L287.2,258.9 L286.7,260.8 L284.9,262.5 L284.2,262.6 L282.2,261.6 L279.5,261.2 L276.3,261.7 L273.3,262.6 L267.4,263.6 L264.8,264.5 L263.7,266.0 L263.7,268.4 L265.1,270.9 L265.1,274.2 L264.6,276.8 L263.6,279.2 L263.1,282.3 L262.7,282.7 L262.2,282.8 L259.4,281.9 L257.7,282.6 L257.3,284.8 L260.2,291.0 L261.2,294.5 L260.1,297.9 L258.7,299.7 L258.6,302.4 L256.3,303.7 L254.1,304.5 L253.4,306.3 L254.1,308.1 L256.5,308.9 L259.3,308.9 L265.7,307.9 L266.3,308.1 L267.9,309.7 L269.5,311.9 L270.1,314.2 L269.6,317.2 L269.6,319.7 L270.6,320.7 L273.0,321.1 L275.3,320.2 L275.9,320.3 L277.7,321.9 L279.1,323.8 L281.0,324.5 L282.3,323.9 L283.4,321.9 L283.8,321.7 L284.3,321.8 L288.4,323.8 L290.5,325.3 L291.6,328.1 L293.0,330.3 L295.3,332.0 L298.5,332.0 L300.8,332.5 L302.9,331.6 L305.3,329.3 L305.8,329.0 L306.3,329.2 L308.2,330.6 L310.5,331.5 L316.4,333.0 L318.6,333.4 L320.7,332.6 L322.9,331.3 L323.6,329.7 L323.7,327.2 L325.0,324.3 L325.5,324.1 L326.1,324.3 L327.5,326.2 L329.3,326.5 L330.6,325.5 L331.1,322.7 L332.6,320.2 L333.5,317.4 L334.0,314.7 L333.6,312.2 L332.0,311.1 L329.9,310.5 L329.6,309.9 L329.7,309.2 L334.6,307.0 L337.1,306.4 L339.1,305.6 L339.8,303.8 L338.9,301.5 L339.4,298.3 L340.0,297.5 L341.0,294.4 L342.4,292.0 L342.8,289.0 L341.6,287.0 L338.4,284.9 L339.7,285.2 L341.9,286.6 L342.9,288.1 L343.3,289.1 L342.9,292.2 L341.5,294.6 L340.7,297.4 L340.0,298.4 L339.5,301.4 L340.3,303.8 L339.8,305.5 L338.5,306.5 L334.8,307.5 L330.2,309.6 L330.3,310.0 L332.3,310.6 L333.6,311.6 L334.2,312.7 L334.5,314.5 L334.0,317.8 L333.1,320.5 L331.7,322.9 L331.1,325.4 L330.1,326.6 L329.1,326.9 L328.3,326.9 L327.1,326.4 L325.7,324.8 L325.4,324.8 L324.3,327.4 L324.2,329.7 L323.4,331.4 L321.0,333.1 L318.6,334.0 L316.3,333.6 L310.4,332.1 L308.1,331.2 L305.8,329.7 L303.2,332.1 L301.4,332.9 L300.4,333.0 L298.5,332.6 L295.2,332.5 L294.3,332.1 L292.4,330.5 L291.1,328.3 L290.1,325.8 L288.0,324.3 L284.1,322.3 L283.7,322.4 L283.1,323.6 L282.3,324.4 L281.3,324.8 L280.6,324.9 L278.8,324.2 L275.7,320.8 L273.1,321.7 L270.5,321.2 L269.6,320.5 L269.0,319.3 L269.0,317.2 L269.5,314.2 L269.0,312.1 L267.5,310.1 L265.9,308.5 L259.5,309.4 L256.6,309.4 L254.4,308.7 L253.4,307.8 L253.0,306.3 L253.5,304.7 L254.5,303.8 L258.0,302.1ZM332.0,289.0 L331.0,290.2 L329.3,291.1 L329.3,291.5 L331.5,292.6 L334.5,291.6 L336.7,289.9 L336.0,288.5 L335.8,287.6 L337.1,289.3 L337.3,289.9 L337.0,290.5 L334.9,292.1 L331.7,293.2 L331.1,293.1 L328.8,291.9 L328.6,291.2 L328.9,290.6 L332.0,289.0ZM309.4,267.4 L309.5,266.9 L309.8,266.5 L312.5,265.3 L314.5,265.8 L315.0,266.2 L318.1,275.5 L317.9,276.2 L316.2,277.8 L315.4,277.9 L313.4,277.0 L311.9,274.0 L309.4,267.4Z" fill="#808080" fill-rule="evenodd"/>
<g fill="#808080"><circle cx="259.5" cy="284.2" r="3.0"/><circle cx="261.0" cy="288.0" r="3.0"/><circle cx="262.7" cy="291.9" r="3.0"/><circle cx="262.9" cy="295.9" r="3.0"/><circle cx="261.3" cy="299.7" r="3.0"/><circle cx="260.3" cy="303.6" r="3.0"/><circle cx="256.7" cy="305.7" r="3.0"/><circle cx="258.5" cy="306.8" r="3.0"/><circle cx="262.7" cy="306.2" r="3.0"/><circle cx="266.8" cy="306.1" r="3.0"/><circle cx="269.9" cy="308.8" r="3.0"/><circle cx="271.8" cy="312.5" r="3.0"/><circle cx="271.9" cy="316.6" r="3.0"/><circle cx="273.6" cy="318.7" r="3.0"/><circle cx="277.5" cy="318.8" r="3.0"/><circle cx="280.3" cy="321.9" r="3.0"/><circle cx="283.2" cy="319.7" r="3.0"/><circle cx="287.1" cy="320.8" r="3.0"/><circle cx="290.7" cy="322.9" r="3.0"/><circle cx="293.1" cy="326.1" r="3.0"/><circle cx="295.4" cy="329.5" r="3.0"/><circle cx="299.5" cy="330.1" r="3.0"/><circle cx="303.0" cy="328.5" r="3.0"/><circle cx="306.7" cy="327.1" r="3.0"/><circle cx="310.3" cy="329.2" r="3.0"/><circle cx="314.3" cy="330.3" r="3.0"/><circle cx="318.3" cy="331.3" r="3.0"/><circle cx="321.6" cy="328.9" r="3.0"/><circle cx="322.4" cy="324.9" r="3.0"/><circle cx="325.1" cy="322.1" r="3.0"/><circle cx="328.5" cy="324.0" r="3.0"/><circle cx="329.9" cy="320.6" r="3.0"/><circle cx="331.5" cy="316.7" r="3.0"/><circle cx="331.0" cy="313.0" r="3.0"/><circle cx="327.7" cy="310.7" r="3.0"/><circle cx="329.0" cy="307.2" r="3.0"/><circle cx="332.8" cy="305.4" r="3.0"/><circle cx="336.8" cy="304.2" r="3.0"/><circle cx="336.9" cy="300.7" r="3.0"/><circle cx="338.0" cy="296.7" r="3.0"/><circle cx="339.5" cy="292.8" r="3.0"/><circle cx="340.3" cy="289.0" r="3.0"/><circle cx="339.3" cy="289.4" r="3.0"/><circle cx="337.4" cy="292.7" r="3.0"/><circle cx="333.7" cy="294.7" r="3.0"/><circle cx="329.7" cy="294.7" r="3.0"/><circle cx="326.6" cy="292.2" r="3.0"/><circle cx="328.2" cy="288.6" r="3.0"/><circle cx="326.9" cy="287.7" r="3.0"/><circle cx="323.4" cy="285.5" r="3.0"/><circle cx="322.2" cy="281.6" r="3.0"/><circle cx="321.6" cy="277.4" r="3.0"/><circle cx="319.8" cy="273.7" r="3.0"/><circle cx="320.1" cy="275.5" r="3.0"/><circle cx="318.0" cy="278.9" r="3.0"/><circle cx="314.2" cy="279.6" r="3.0"/><circle cx="311.1" cy="277.1" r="3.0"/><circle cx="309.4" cy="273.3" r="3.0"/><circle cx="307.9" cy="269.4" r="3.0"/><circle cx="307.9" cy="265.4" r="3.0"/><circle cx="311.6" cy="263.5" r="3.0"/><circle cx="308.5" cy="264.2" r="3.0"/><circle cx="304.5" cy="265.0" r="3.0"/><circle cx="302.2" cy="262.0" r="3.0"/><circle cx="300.7" cy="258.1" r="3.0"/><circle cx="297.0" cy="256.2" r="3.0"/><circle cx="293.0" cy="255.3" r="3.0"/><circle cx="289.2" cy="253.6" r="3.0"/><circle cx="291.3" cy="256.7" r="3.0"/><circle cx="289.5" cy="260.1" r="3.0"/><circle cx="287.0" cy="263.3" r="3.0"/><circle cx="283.4" cy="264.5" r="3.0"/><circle cx="279.4" cy="263.3" r="3.0"/><circle cx="275.3" cy="264.2" r="3.0"/><circle cx="271.3" cy="265.1" r="3.0"/><circle cx="267.2" cy="265.9" r="3.0"/><circle cx="266.4" cy="269.0" r="3.0"/><circle cx="267.2" cy="273.0" r="3.0"/><circle cx="266.7" cy="277.2" r="3.0"/><circle cx="265.4" cy="281.1" r="3.0"/><circle cx="263.5" cy="284.6" r="3.0"/><circle cx="318.6" cy="270.7" r="3.0"/><circle cx="317.9" cy="266.7" r="3.0"/><circle cx="315.8" cy="263.7" r="3.0"/><circle cx="315.0" cy="263.8" r="3.0"/><circle cx="317.3" cy="266.8" r="3.0"/><circle cx="312.5" cy="336.5" r="3.0"/><circle cx="315.5" cy="338.0" r="3.0"/><circle cx="313.0" cy="340.5" r="3.0"/><circle cx="312.0" cy="342.0" r="3.0"/></g>
<path d="M389.9,295.9 L391.3,306.5 L392.3,309.4 L394.7,311.8 L397.6,313.3 L400.5,312.8 L402.4,310.4 L404.8,308.9 L405.8,303.6 L407.7,303.6 L409.2,305.6 L411.6,310.9 L410.1,313.3 L409.2,316.2 L411.1,318.1 L413.5,317.1 L414.5,313.8 L415.0,310.4 L415.9,307.0 L417.4,307.0 L417.4,310.9 L418.4,317.1 L417.9,320.0 L416.4,322.0 L416.9,324.9 L415.0,326.3 L412.1,325.8 L410.6,327.3 L411.6,329.7 L414.0,330.7 L416.4,331.2 L416.9,333.6 L417.4,338.4 L418.4,341.8 L420.3,342.7 L421.7,340.3 L422.7,336.5 L425.6,335.5 L427.5,334.1 L428.5,331.6 L429.9,333.1 L432.4,333.6 L434.8,331.6 L436.7,325.8 L438.6,324.9 L441.5,324.9 L443.0,326.8 L442.0,329.2 L442.5,331.6 L444.4,333.1 L446.9,332.1 L448.0,330.2 L449.0,324.9 L451.9,320.5 L452.8,322.5 L454.8,323.4 L457.2,322.5 L457.7,320.0 L458.6,317.1 L460.1,315.7 L461.0,316.7 L462.0,318.6 L463.9,320.0 L466.4,320.5 L469.2,319.6 L471.2,318.1 L471.7,315.7 L473.6,314.2 L476.5,313.3 L478.9,311.4 L480.4,309.4 L481.3,307.5 L483.3,306.0 L484.7,304.1 L485.7,306.0 L487.1,308.0 L489.1,308.9 L491.5,308.5 L493.4,307.0 L495.8,307.5 L500.6,310.4 L503.1,310.9 L506.0,309.4 L508.4,307.0 L509.8,304.6 L508.9,302.2 L506.9,299.8 L506.4,297.0 L507.4,292.4 L506.0,289.9 L503.5,289.5 L501.6,290.9 L500.6,293.8 L498.2,294.3 L496.8,291.9 L494.8,289.9 L491.9,289.9 L489.5,290.9 L487.1,291.4 L485.2,288.5 L487.1,283.2 L485.2,280.8 L482.3,279.3 L479.4,278.4 L476.5,279.8 L473.6,280.8 L472.6,284.2 L473.1,287.5 L472.6,290.4 L470.7,290.4 L470.7,286.6 L470.2,282.7 L468.8,279.8 L466.8,276.9 L463.9,275.5 L458.6,278.4 L456.2,278.4 L456.7,275.0 L457.7,272.1 L457.2,269.2 L455.2,265.3 L453.3,262.4 L453.8,259.5 L453.8,256.1 L452.0,253.2 L450.2,253.2 L448.3,254.2 L447.3,256.6 L445.9,259.0 L444.0,260.5 L441.5,260.5 L436.2,261.5 L436.2,257.6 L434.8,255.2 L432.4,254.7 L429.9,256.1 L428.5,257.6 L426.6,258.1 L424.6,253.7 L423.2,251.3 L420.8,250.3 L418.4,251.3 L417.9,253.7 L419.3,255.7 L418.8,258.1 L417.4,260.0 L417.9,262.9 L413.5,275.0 L410.6,280.3 L408.7,282.2 L403.9,280.3 L401.5,281.7 L401.9,284.6 L404.4,286.6 L402.9,289.0 L400.0,291.4 L398.1,293.8 L397.1,290.4 L395.7,287.5 L392.8,286.6 L390.3,288.5 L389.9,292.4 L390.3,297.0 L389.9,295.9ZM391.2,298.6 L392.2,306.3 L393.1,308.9 L395.2,311.1 L397.7,312.3 L400.0,312.0 L401.8,309.7 L404.0,308.4 L404.9,303.4 L405.2,302.9 L405.7,302.7 L407.8,302.7 L408.4,303.0 L410.0,305.2 L411.8,309.2 L410.6,308.2 L409.4,305.4 L407.8,303.3 L405.6,303.4 L404.8,307.6 L404.4,308.6 L402.2,310.2 L400.6,312.1 L399.3,312.7 L397.4,312.8 L394.8,311.5 L392.7,309.3 L391.7,306.7 L390.5,298.0 L390.6,296.9 L390.2,292.7 L390.5,289.8 L390.8,288.8 L391.9,287.7 L392.9,287.3 L394.0,287.3 L395.1,287.8 L395.8,288.5 L396.7,290.3 L397.8,293.9 L398.1,294.1 L400.2,291.6 L403.2,289.1 L404.6,286.6 L404.0,285.1 L405.1,286.1 L405.1,287.0 L403.6,289.6 L400.7,292.0 L398.3,294.7 L397.7,294.6 L397.3,294.2 L396.3,290.8 L395.0,288.3 L392.9,287.6 L391.2,289.0 L390.8,292.4 L391.2,298.6ZM415.1,306.8 L415.4,306.3 L415.9,306.1 L417.6,306.1 L418.2,306.7 L418.3,310.8 L419.3,317.1 L418.7,320.4 L417.4,322.2 L417.7,325.3 L415.5,327.0 L415.0,327.2 L415.3,326.5 L417.2,325.0 L416.9,322.4 L417.3,321.4 L418.2,320.1 L418.7,317.2 L417.7,310.8 L417.7,306.9 L417.4,306.7 L415.8,306.8 L415.2,308.2 L414.4,309.0 L415.1,306.8ZM415.3,330.0 L417.1,330.5 L417.3,331.0 L418.2,336.9 L417.4,335.6 L416.7,331.0 L415.3,330.0ZM421.8,336.2 L422.3,335.7 L425.2,334.7 L426.8,333.5 L427.7,331.2 L428.2,330.8 L429.0,330.9 L430.4,332.3 L432.1,332.6 L434.0,331.1 L436.0,325.3 L438.2,324.1 L441.9,324.1 L443.8,326.4 L443.7,327.4 L441.6,324.6 L438.5,324.6 L436.5,325.7 L434.7,330.9 L434.1,331.8 L433.1,332.6 L431.8,333.0 L430.6,332.9 L428.4,331.4 L427.2,333.8 L425.8,335.0 L422.6,336.2 L421.6,337.3 L421.8,336.2ZM447.6,327.6 L448.1,324.6 L449.6,322.0 L451.3,319.9 L451.8,319.6 L452.3,319.8 L453.5,321.8 L454.3,322.2 L453.2,321.7 L452.1,320.3 L451.7,320.3 L448.7,324.7 L448.3,326.7 L447.6,327.6ZM456.8,319.9 L457.9,316.6 L459.5,315.0 L460.0,314.8 L460.6,315.0 L461.7,316.0 L462.7,318.0 L464.3,319.2 L466.3,319.6 L468.8,318.8 L470.4,317.6 L471.1,315.0 L473.2,313.4 L476.1,312.5 L478.3,310.7 L479.6,308.9 L480.6,306.9 L482.6,305.4 L484.0,303.5 L484.5,303.2 L485.4,303.6 L486.4,305.6 L487.7,307.3 L489.2,308.0 L491.1,307.6 L492.9,306.2 L493.4,306.1 L496.2,306.7 L501.0,309.5 L502.9,309.9 L505.4,308.7 L507.7,306.4 L508.8,304.5 L508.1,302.6 L506.0,299.9 L505.5,296.9 L506.5,292.5 L505.4,290.8 L503.8,290.4 L502.4,291.5 L501.2,294.5 L498.2,295.2 L497.6,294.9 L496.1,292.4 L494.5,290.8 L492.1,290.8 L489.7,291.8 L487.2,292.3 L486.7,292.2 L484.3,288.6 L486.1,283.3 L484.6,281.5 L481.9,280.2 L479.5,279.3 L476.9,280.6 L474.3,281.5 L473.5,284.2 L474.0,287.6 L473.5,290.8 L472.8,291.3 L470.4,291.3 L469.8,290.5 L469.8,286.6 L469.3,283.0 L468.0,280.3 L466.2,277.6 L464.0,276.5 L458.9,279.2 L456.1,279.3 L455.4,278.8 L455.8,274.8 L456.7,272.0 L456.3,269.5 L454.5,265.8 L452.5,262.7 L452.9,259.4 L452.9,256.4 L451.5,254.1 L450.4,254.1 L449.0,254.9 L448.1,257.0 L446.6,259.6 L444.4,261.3 L441.6,261.4 L436.2,262.4 L435.7,262.2 L435.4,261.7 L435.3,257.8 L434.2,256.0 L432.5,255.6 L430.5,256.9 L428.9,258.4 L426.4,258.9 L425.8,258.5 L423.5,253.6 L424.6,254.5 L426.5,258.4 L428.6,257.9 L430.1,256.4 L432.0,255.3 L433.0,255.2 L434.3,255.6 L435.1,256.3 L435.8,257.7 L435.9,261.5 L436.2,261.8 L441.3,260.8 L444.1,260.8 L446.1,259.2 L448.2,255.4 L448.8,254.6 L450.5,253.9 L451.5,254.1 L452.2,254.4 L453.1,255.6 L453.5,256.7 L453.5,259.5 L453.0,262.5 L455.1,265.6 L456.7,268.9 L457.2,271.4 L457.2,272.4 L456.4,275.0 L456.0,278.5 L458.7,278.6 L463.7,276.2 L465.0,276.4 L466.5,277.1 L468.4,279.8 L469.8,282.7 L470.4,286.4 L470.4,290.4 L470.6,290.7 L472.6,290.7 L472.9,290.5 L473.4,287.5 L473.0,284.2 L473.5,282.1 L473.9,281.4 L474.9,280.7 L478.7,279.1 L479.7,278.9 L482.0,279.5 L484.5,280.7 L485.2,281.3 L486.1,282.4 L486.3,284.2 L484.9,288.5 L487.0,291.7 L489.6,291.2 L492.0,290.3 L494.4,290.4 L495.3,290.9 L496.3,291.8 L498.2,294.6 L500.8,294.0 L501.8,291.4 L502.5,290.6 L503.2,290.2 L504.3,290.1 L505.3,290.3 L506.1,291.0 L506.7,291.8 L507.0,293.1 L506.1,297.0 L506.6,299.7 L508.6,302.5 L509.2,304.4 L508.9,305.5 L508.1,306.8 L505.4,309.4 L503.1,310.4 L501.2,310.2 L495.9,307.2 L493.4,306.7 L491.2,308.2 L489.7,308.5 L488.7,308.4 L487.1,307.4 L485.9,305.9 L485.0,303.9 L484.6,303.8 L482.9,305.9 L481.1,307.3 L480.1,309.3 L478.6,311.2 L476.3,313.0 L473.5,314.0 L471.5,315.5 L470.8,317.7 L469.2,319.2 L466.5,320.1 L464.2,319.7 L462.4,318.4 L461.3,316.5 L460.1,315.4 L458.4,317.0 L457.2,320.5 L456.4,321.6 L456.8,319.9ZM419.9,254.9 L420.2,255.8 L419.7,258.3 L418.3,260.2 L418.7,263.2 L414.4,275.3 L412.9,278.3 L411.3,280.8 L409.1,283.0 L408.4,283.1 L405.8,282.1 L407.1,282.0 L408.9,282.5 L410.9,280.5 L412.4,278.0 L413.8,275.0 L418.2,263.0 L417.9,260.1 L419.1,258.2 L419.9,254.9Z" fill="#808080" fill-rule="evenodd"/>
<g fill="#808080"><circle cx="393.2" cy="297.8" r="3.0"/><circle cx="393.8" cy="302.0" r="3.0"/><circle cx="394.3" cy="306.1" r="3.0"/><circle cx="396.7" cy="309.5" r="3.0"/><circle cx="400.0" cy="308.6" r="3.0"/><circle cx="402.5" cy="305.5" r="3.0"/><circle cx="403.7" cy="301.6" r="3.0"/><circle cx="407.6" cy="300.6" r="3.0"/><circle cx="410.8" cy="302.9" r="3.0"/><circle cx="412.8" cy="306.5" r="3.0"/><circle cx="415.5" cy="304.1" r="3.0"/><circle cx="419.5" cy="304.9" r="3.0"/><circle cx="420.4" cy="308.8" r="3.0"/><circle cx="420.7" cy="313.0" r="3.0"/><circle cx="421.3" cy="317.1" r="3.0"/><circle cx="420.6" cy="321.2" r="3.0"/><circle cx="419.8" cy="325.1" r="3.0"/><circle cx="417.4" cy="328.3" r="3.0"/><circle cx="419.5" cy="331.5" r="3.0"/><circle cx="420.5" cy="334.6" r="3.0"/><circle cx="424.2" cy="332.8" r="3.0"/><circle cx="426.6" cy="329.5" r="3.0"/><circle cx="430.4" cy="329.3" r="3.0"/><circle cx="432.8" cy="328.1" r="3.0"/><circle cx="434.2" cy="324.2" r="3.0"/><circle cx="437.8" cy="322.1" r="3.0"/><circle cx="441.9" cy="322.0" r="3.0"/><circle cx="445.0" cy="324.6" r="3.0"/><circle cx="446.6" cy="323.0" r="3.0"/><circle cx="448.9" cy="319.5" r="3.0"/><circle cx="452.3" cy="317.6" r="3.0"/><circle cx="455.0" cy="318.6" r="3.0"/><circle cx="456.8" cy="314.8" r="3.0"/><circle cx="460.2" cy="312.7" r="3.0"/><circle cx="463.5" cy="315.1" r="3.0"/><circle cx="466.5" cy="317.3" r="3.0"/><circle cx="469.0" cy="314.4" r="3.0"/><circle cx="472.1" cy="311.7" r="3.0"/><circle cx="475.9" cy="310.0" r="3.0"/><circle cx="478.4" cy="306.7" r="3.0"/><circle cx="481.3" cy="303.7" r="3.0"/><circle cx="484.4" cy="301.2" r="3.0"/><circle cx="487.6" cy="303.3" r="3.0"/><circle cx="490.5" cy="305.5" r="3.0"/><circle cx="494.3" cy="304.1" r="3.0"/><circle cx="498.2" cy="305.4" r="3.0"/><circle cx="501.8" cy="307.6" r="3.0"/><circle cx="505.3" cy="305.8" r="3.0"/><circle cx="505.2" cy="302.4" r="3.0"/><circle cx="503.7" cy="298.6" r="3.0"/><circle cx="503.9" cy="294.5" r="3.0"/><circle cx="503.3" cy="295.1" r="3.0"/><circle cx="499.8" cy="297.0" r="3.0"/><circle cx="496.0" cy="296.2" r="3.0"/><circle cx="493.5" cy="292.9" r="3.0"/><circle cx="489.4" cy="294.0" r="3.0"/><circle cx="485.5" cy="293.7" r="3.0"/><circle cx="482.9" cy="290.5" r="3.0"/><circle cx="482.7" cy="286.5" r="3.0"/><circle cx="482.8" cy="282.9" r="3.0"/><circle cx="478.9" cy="281.9" r="3.0"/><circle cx="475.7" cy="284.2" r="3.0"/><circle cx="476.0" cy="288.3" r="3.0"/><circle cx="474.9" cy="292.3" r="3.0"/><circle cx="471.1" cy="293.4" r="3.0"/><circle cx="467.9" cy="291.2" r="3.0"/><circle cx="467.6" cy="287.1" r="3.0"/><circle cx="467.0" cy="283.0" r="3.0"/><circle cx="464.9" cy="279.3" r="3.0"/><circle cx="461.2" cy="280.4" r="3.0"/><circle cx="457.2" cy="281.3" r="3.0"/><circle cx="453.6" cy="279.8" r="3.0"/><circle cx="453.6" cy="275.6" r="3.0"/><circle cx="454.5" cy="271.6" r="3.0"/><circle cx="453.1" cy="267.7" r="3.0"/><circle cx="450.9" cy="264.1" r="3.0"/><circle cx="450.7" cy="260.1" r="3.0"/><circle cx="450.3" cy="257.2" r="3.0"/><circle cx="448.3" cy="260.8" r="3.0"/><circle cx="444.9" cy="263.3" r="3.0"/><circle cx="440.7" cy="263.7" r="3.0"/><circle cx="436.6" cy="264.4" r="3.0"/><circle cx="433.4" cy="262.3" r="3.0"/><circle cx="433.1" cy="258.2" r="3.0"/><circle cx="429.9" cy="260.2" r="3.0"/><circle cx="425.8" cy="260.9" r="3.0"/><circle cx="423.2" cy="257.9" r="3.0"/><circle cx="421.9" cy="258.0" r="3.0"/><circle cx="420.7" cy="261.8" r="3.0"/><circle cx="420.0" cy="265.9" r="3.0"/><circle cx="418.6" cy="269.8" r="3.0"/><circle cx="417.1" cy="273.8" r="3.0"/><circle cx="415.5" cy="277.6" r="3.0"/><circle cx="413.5" cy="281.3" r="3.0"/><circle cx="410.7" cy="284.4" r="3.0"/><circle cx="406.8" cy="284.7" r="3.0"/><circle cx="406.7" cy="288.4" r="3.0"/><circle cx="404.2" cy="291.7" r="3.0"/><circle cx="401.2" cy="294.6" r="3.0"/><circle cx="397.9" cy="296.7" r="3.0"/><circle cx="395.1" cy="294.1" r="3.0"/><circle cx="393.5" cy="290.2" r="3.0"/><circle cx="393.0" cy="293.7" r="3.0"/><circle cx="411.6" cy="270.2" r="3.0"/><circle cx="406.8" cy="276.0" r="3.0"/></g>
<path d="M641.9,292.3 L642.3,292.5 L644.3,291.7 L645.8,290.6 L645.9,290.3 L643.6,289.7 L641.5,291.2 L641.9,292.3ZM644.2,291.4 L642.2,292.2 L641.7,291.4 L643.7,290.0 L645.6,290.4 L644.2,291.4ZM571.1,302.7 L569.2,301.2 L566.8,300.7 L564.8,301.7 L564.3,304.1 L565.8,306.0 L569.7,308.9 L572.1,310.4 L575.0,310.4 L577.4,309.4 L579.8,310.4 L580.8,312.8 L580.8,318.1 L582.2,320.0 L587.0,322.9 L589.0,324.9 L591.4,324.9 L593.3,323.4 L594.8,321.5 L596.7,321.5 L599.6,322.5 L601.5,323.9 L602.5,326.8 L603.5,328.7 L605.4,329.5 L608.9,330.2 L612.8,333.1 L615.2,333.6 L617.6,333.1 L619.5,332.1 L622.4,332.6 L624.8,332.6 L627.2,333.1 L629.2,334.1 L627.7,335.5 L626.3,337.4 L626.8,339.8 L628.7,341.8 L630.6,343.2 L632.6,341.8 L633.5,339.4 L635.9,338.4 L636.4,336.5 L635.0,334.1 L635.9,328.7 L637.9,323.9 L640.8,322.0 L642.2,319.1 L643.2,316.2 L643.7,313.3 L641.7,308.9 L643.7,307.5 L646.1,307.5 L648.5,306.5 L649.5,303.6 L649.0,300.2 L649.9,297.3 L650.4,297.0 L652.4,292.4 L652.4,289.5 L649.5,284.6 L647.1,283.2 L644.6,283.2 L641.7,284.2 L639.3,284.6 L636.9,283.2 L635.0,280.8 L635.0,277.9 L633.5,275.5 L631.6,273.5 L632.1,270.6 L631.6,267.7 L629.7,261.9 L627.7,260.5 L624.8,260.0 L621.9,260.5 L620.0,261.5 L618.6,260.5 L617.1,258.1 L615.2,256.1 L612.8,254.7 L610.0,253.7 L604.9,250.3 L602.5,250.8 L601.1,253.7 L601.5,256.6 L600.6,259.0 L598.6,260.5 L593.3,260.5 L591.4,261.5 L589.0,261.9 L586.6,261.5 L583.7,261.9 L581.7,262.9 L578.8,262.4 L576.4,263.9 L575.9,266.8 L577.4,269.2 L577.4,271.6 L577.9,274.5 L577.4,277.4 L577.9,280.3 L577.4,283.2 L575.0,284.6 L573.5,287.1 L573.5,290.4 L574.5,293.3 L574.0,297.0 L574.0,295.9 L573.0,298.3 L572.6,300.7 L571.1,302.7ZM622.8,266.5 L622.6,266.8 L623.6,270.4 L624.5,276.1 L625.8,277.2 L626.1,277.0 L627.0,273.9 L626.3,272.6 L626.1,271.4 L626.2,268.7 L626.6,267.7 L626.7,267.9 L626.7,271.5 L627.2,275.1 L626.6,277.3 L626.0,277.8 L625.3,277.6 L624.0,276.3 L623.0,270.4 L622.0,266.8 L622.4,266.0 L624.7,264.9 L625.5,265.2 L626.0,266.4 L624.8,265.5 L622.8,266.5ZM625.8,271.6 L626.3,275.0 L625.8,276.9 L624.8,276.0 L623.9,270.2 L622.9,266.8 L624.8,265.8 L625.8,268.2 L625.8,271.6ZM573.4,300.9 L571.5,303.5 L570.8,303.5 L569.7,302.8 L571.3,302.9 L572.8,300.8 L573.4,298.3 L574.3,297.1 L574.8,293.4 L573.8,290.2 L573.9,287.2 L575.2,285.0 L577.7,283.2 L578.2,280.3 L577.7,277.5 L578.2,274.5 L577.7,271.6 L577.7,269.1 L576.6,267.3 L576.4,266.3 L576.7,264.5 L577.5,263.6 L579.3,262.9 L581.8,263.2 L583.9,262.2 L586.3,261.8 L589.1,262.2 L591.5,261.7 L593.8,260.8 L598.8,260.8 L600.8,259.2 L601.8,256.8 L601.5,254.1 L602.2,252.1 L603.1,251.2 L604.4,250.9 L605.6,251.1 L609.8,253.9 L612.6,255.0 L615.0,256.4 L616.9,258.3 L618.3,260.7 L619.9,261.7 L622.6,260.7 L623.4,260.7 L624.3,261.0 L622.2,261.4 L620.2,262.3 L619.6,262.2 L617.9,261.1 L616.4,258.6 L614.6,256.9 L612.4,255.5 L609.6,254.5 L604.8,251.3 L603.1,251.6 L602.0,253.9 L602.4,256.7 L601.4,259.4 L599.0,261.3 L593.5,261.4 L591.6,262.3 L589.1,262.8 L586.5,262.4 L583.9,262.8 L581.9,263.8 L579.0,263.4 L577.2,264.4 L576.9,266.6 L578.3,269.1 L578.3,271.5 L578.8,274.4 L578.3,277.4 L578.8,280.3 L578.2,283.7 L575.6,285.3 L574.4,287.3 L574.4,290.3 L575.4,293.4 L574.9,297.2 L574.2,297.9 L573.9,298.6 L573.4,300.9ZM570.2,308.2 L572.3,309.5 L574.8,309.5 L577.4,308.5 L580.4,309.7 L581.7,312.6 L581.7,317.8 L582.8,319.4 L587.6,322.2 L589.4,324.0 L591.1,324.0 L592.7,322.8 L594.4,320.7 L596.9,320.6 L600.0,321.6 L602.2,323.3 L604.1,328.0 L605.6,328.6 L609.3,329.4 L613.1,332.2 L615.2,332.7 L617.3,332.2 L619.6,331.2 L622.5,331.7 L624.9,331.7 L627.4,332.2 L629.6,333.2 L630.0,333.8 L630.0,334.5 L627.2,337.6 L627.6,339.4 L630.4,341.9 L629.3,341.7 L628.4,341.1 L627.3,339.9 L626.8,338.4 L627.1,337.0 L629.4,334.2 L629.3,333.8 L627.3,332.8 L625.0,332.3 L622.4,332.3 L619.5,331.8 L617.4,332.8 L615.4,333.2 L613.0,332.8 L609.0,329.9 L605.3,329.1 L604.1,328.6 L603.5,328.1 L602.9,326.9 L601.7,323.7 L599.7,322.2 L596.8,321.2 L594.6,321.2 L593.0,323.3 L591.4,324.4 L590.2,324.6 L589.2,324.4 L587.1,322.6 L582.7,319.9 L581.5,318.5 L581.1,317.4 L581.1,312.8 L580.0,310.2 L577.4,309.1 L574.9,310.0 L572.2,310.0 L568.4,307.6 L567.7,306.8 L567.4,306.1 L570.2,308.2ZM632.7,339.0 L633.1,338.6 L635.2,337.7 L635.5,336.6 L634.1,334.0 L635.1,328.5 L637.0,323.6 L640.1,321.4 L641.4,318.7 L642.3,316.0 L642.7,313.4 L640.9,309.3 L640.9,308.6 L643.3,306.6 L645.9,306.6 L647.8,305.8 L648.5,303.5 L648.1,300.0 L649.1,297.0 L649.7,296.4 L651.5,292.2 L651.5,289.7 L648.8,285.3 L646.8,284.1 L644.8,284.1 L642.0,285.0 L639.3,285.5 L636.3,283.8 L634.1,281.1 L634.1,278.1 L632.8,276.0 L630.7,273.8 L631.2,270.6 L630.4,267.0 L631.3,268.2 L631.7,270.2 L631.5,272.2 L631.1,273.4 L633.3,275.7 L634.3,277.3 L634.7,278.5 L634.7,280.9 L636.7,283.4 L639.3,284.9 L644.8,283.5 L646.5,283.5 L647.4,283.8 L649.4,285.2 L651.8,289.1 L652.1,290.3 L652.0,292.5 L650.5,296.1 L649.7,297.2 L648.7,300.2 L649.1,303.5 L648.4,305.6 L647.6,306.5 L646.3,307.1 L643.6,307.2 L641.5,308.8 L643.2,313.1 L642.8,316.3 L641.9,319.1 L640.7,321.4 L640.2,322.0 L637.6,323.8 L635.7,328.6 L634.7,334.0 L635.5,336.0 L635.3,337.5 L634.9,338.1 L634.6,338.5 L633.3,339.2 L632.3,341.1 L631.0,341.8 L631.8,341.2 L632.7,339.0ZM627.4,261.3 L625.2,261.0 L626.1,260.6 L627.0,260.7 L627.9,261.0 L628.9,261.8 L629.8,263.4 L629.7,264.9 L628.9,262.5 L627.4,261.3ZM640.9,291.7 L641.0,290.8 L643.4,289.1 L645.9,289.5 L646.5,290.1 L646.5,290.6 L646.1,291.1 L644.6,292.2 L642.4,293.1 L641.6,292.9 L640.9,291.7Z" fill="#808080" fill-rule="evenodd"/>
<g fill="#808080"><circle cx="570.0" cy="305.4" r="3.0"/><circle cx="573.6" cy="307.4" r="3.0"/><circle cx="577.6" cy="306.4" r="3.0"/><circle cx="581.5" cy="308.0" r="3.0"/><circle cx="583.5" cy="311.6" r="3.0"/><circle cx="583.8" cy="315.7" r="3.0"/><circle cx="586.0" cy="318.8" r="3.0"/><circle cx="589.4" cy="321.1" r="3.0"/><circle cx="592.4" cy="319.7" r="3.0"/><circle cx="596.2" cy="318.5" r="3.0"/><circle cx="600.2" cy="319.5" r="3.0"/><circle cx="603.7" cy="321.8" r="3.0"/><circle cx="605.4" cy="325.6" r="3.0"/><circle cx="608.9" cy="327.2" r="3.0"/><circle cx="612.5" cy="329.2" r="3.0"/><circle cx="616.3" cy="330.3" r="3.0"/><circle cx="620.2" cy="329.2" r="3.0"/><circle cx="624.4" cy="329.6" r="3.0"/><circle cx="628.5" cy="330.4" r="3.0"/><circle cx="631.8" cy="332.8" r="3.0"/><circle cx="632.7" cy="329.7" r="3.0"/><circle cx="633.9" cy="325.7" r="3.0"/><circle cx="635.7" cy="322.0" r="3.0"/><circle cx="638.8" cy="319.3" r="3.0"/><circle cx="640.3" cy="315.4" r="3.0"/><circle cx="639.6" cy="311.4" r="3.0"/><circle cx="639.2" cy="307.5" r="3.0"/><circle cx="642.3" cy="304.8" r="3.0"/><circle cx="646.2" cy="303.9" r="3.0"/><circle cx="646.1" cy="299.7" r="3.0"/><circle cx="647.4" cy="295.8" r="3.0"/><circle cx="649.3" cy="292.1" r="3.0"/><circle cx="648.1" cy="288.2" r="3.0"/><circle cx="644.9" cy="286.3" r="3.0"/><circle cx="640.9" cy="287.3" r="3.0"/><circle cx="636.9" cy="286.7" r="3.0"/><circle cx="633.8" cy="284.0" r="3.0"/><circle cx="632.0" cy="280.4" r="3.0"/><circle cx="630.5" cy="276.7" r="3.0"/><circle cx="628.6" cy="277.7" r="3.0"/><circle cx="625.4" cy="279.8" r="3.0"/><circle cx="622.2" cy="277.4" r="3.0"/><circle cx="621.4" cy="273.3" r="3.0"/><circle cx="620.5" cy="269.2" r="3.0"/><circle cx="620.4" cy="265.2" r="3.0"/><circle cx="622.2" cy="263.7" r="3.0"/><circle cx="618.2" cy="263.8" r="3.0"/><circle cx="615.3" cy="260.9" r="3.0"/><circle cx="612.4" cy="258.0" r="3.0"/><circle cx="608.6" cy="256.3" r="3.0"/><circle cx="605.1" cy="254.0" r="3.0"/><circle cx="604.4" cy="256.9" r="3.0"/><circle cx="603.0" cy="260.8" r="3.0"/><circle cx="599.7" cy="263.3" r="3.0"/><circle cx="595.5" cy="263.5" r="3.0"/><circle cx="591.5" cy="264.5" r="3.0"/><circle cx="587.4" cy="264.6" r="3.0"/><circle cx="583.4" cy="265.4" r="3.0"/><circle cx="579.3" cy="265.6" r="3.0"/><circle cx="580.4" cy="269.4" r="3.0"/><circle cx="580.7" cy="273.6" r="3.0"/><circle cx="580.5" cy="277.7" r="3.0"/><circle cx="580.6" cy="281.9" r="3.0"/><circle cx="579.1" cy="285.6" r="3.0"/><circle cx="576.5" cy="288.5" r="3.0"/><circle cx="577.4" cy="292.6" r="3.0"/><circle cx="577.1" cy="296.8" r="3.0"/><circle cx="575.6" cy="300.6" r="3.0"/><circle cx="573.7" cy="304.2" r="3.0"/><circle cx="639.2" cy="293.0" r="3.0"/><circle cx="639.6" cy="289.3" r="3.0"/><circle cx="642.9" cy="287.2" r="3.0"/><circle cx="646.8" cy="287.7" r="3.0"/><circle cx="648.5" cy="290.9" r="3.0"/><circle cx="645.9" cy="293.8" r="3.0"/><circle cx="642.2" cy="295.1" r="3.0"/><circle cx="628.9" cy="271.7" r="3.0"/><circle cx="627.2" cy="264.0" r="3.0"/><circle cx="632.1" cy="334.8" r="3.0"/><circle cx="629.8" cy="337.8" r="3.0"/><circle cx="631.2" cy="337.5" r="3.0"/></g>
<path d="M116.9,395.7 L118.0,398.2 L119.6,399.3 L121.9,397.6 L120.3,394.7 L117.1,395.2 L116.9,395.7ZM120.2,395.0 L121.6,397.5 L119.7,399.0 L118.2,398.0 L117.2,395.5 L120.2,395.0ZM122.1,423.0 L127.1,432.6 L128.1,435.6 L127.1,438.1 L127.6,441.1 L129.1,443.1 L131.6,444.1 L134.6,444.1 L136.6,442.6 L138.2,441.1 L140.2,441.6 L141.2,445.1 L142.7,457.2 L144.2,459.7 L147.0,460.7 L148.0,460.2 L150.0,458.2 L153.0,452.2 L155.0,449.6 L155.5,445.1 L154.5,442.1 L153.0,439.1 L153.5,435.6 L156.0,433.6 L157.0,430.1 L157.5,426.1 L161.1,430.1 L164.1,431.1 L167.1,431.1 L169.1,429.6 L169.6,426.1 L168.6,422.0 L167.1,417.0 L165.2,415.0 L164.5,407.3 L165.2,405.5 L166.7,406.3 L168.2,407.8 L170.1,409.3 L173.1,410.3 L177.5,412.7 L180.5,412.2 L182.5,410.3 L182.9,407.8 L182.5,405.3 L183.9,403.4 L185.9,401.9 L187.4,399.9 L188.4,397.0 L190.3,395.5 L195.3,392.5 L196.7,389.6 L196.2,386.6 L194.3,384.2 L192.8,381.7 L190.8,380.2 L188.4,380.2 L186.4,378.3 L185.4,376.3 L183.4,373.8 L181.0,372.4 L178.5,373.3 L177.0,376.3 L176.1,379.2 L173.6,379.7 L171.6,378.8 L171.6,376.3 L170.6,372.8 L168.7,370.4 L163.2,367.4 L160.8,368.4 L159.3,371.4 L159.3,378.3 L153.4,369.9 L151.0,366.9 L148.7,366.9 L146.2,367.9 L144.8,369.4 L142.8,370.9 L140.8,371.4 L137.4,368.9 L134.9,368.4 L132.0,367.4 L129.5,367.4 L123.1,369.4 L121.6,371.9 L120.6,377.8 L118.7,379.2 L116.7,379.7 L115.7,376.8 L115.2,373.8 L114.2,370.9 L112.3,368.9 L109.3,368.4 L106.4,369.4 L103.4,368.9 L100.9,369.9 L100.0,372.8 L100.9,375.3 L102.9,375.8 L103.9,377.8 L103.9,381.2 L102.9,387.6 L103.9,393.5 L105.4,396.5 L107.3,398.9 L109.8,400.9 L112.3,403.4 L114.2,405.8 L116.7,408.3 L118.7,411.3 L120.1,415.0 L120.1,416.5 L122.1,423.0ZM122.9,422.7 L127.9,432.2 L129.0,435.3 L129.0,435.8 L128.0,438.2 L128.5,440.7 L129.7,442.4 L131.8,443.2 L134.3,443.2 L137.9,440.2 L140.8,441.0 L142.0,444.9 L143.5,456.9 L144.8,458.9 L146.9,459.7 L147.5,459.4 L149.3,457.6 L152.3,451.7 L154.2,449.3 L154.6,445.2 L153.7,442.5 L152.1,439.0 L152.7,435.1 L155.2,433.1 L156.2,429.9 L156.8,425.5 L157.4,425.2 L158.0,425.3 L159.7,427.0 L161.6,429.3 L164.2,430.2 L166.8,430.2 L168.2,429.1 L168.7,426.1 L167.7,422.3 L166.3,417.5 L164.3,415.2 L163.6,407.3 L164.5,405.1 L164.9,404.7 L165.6,404.8 L167.3,405.6 L168.8,407.1 L170.6,408.5 L173.5,409.5 L177.7,411.8 L180.1,411.4 L181.6,409.8 L182.0,407.8 L181.6,405.3 L182.3,404.0 L182.2,405.4 L182.6,407.8 L182.1,410.1 L180.3,411.8 L178.2,412.3 L177.1,412.1 L173.2,410.0 L170.4,409.1 L168.5,407.7 L166.8,406.1 L165.3,405.3 L165.0,405.4 L164.2,407.3 L164.9,415.0 L166.8,417.3 L168.3,422.1 L169.2,426.1 L168.8,428.8 L168.1,429.9 L167.0,430.6 L164.0,430.7 L161.3,429.7 L157.8,425.9 L157.3,425.9 L156.7,430.0 L155.9,432.8 L155.3,433.8 L153.3,435.5 L152.7,439.0 L154.3,442.4 L155.1,444.9 L154.7,449.2 L152.8,452.0 L149.8,457.9 L148.3,459.5 L147.3,460.0 L145.9,460.0 L144.6,459.4 L144.0,458.8 L143.0,457.1 L141.5,445.1 L140.4,441.4 L138.1,440.8 L134.8,443.5 L133.9,443.8 L132.2,443.8 L129.6,442.9 L128.1,441.3 L127.5,438.4 L128.4,435.4 L127.3,432.4 L122.3,422.7 L120.5,416.9 L120.4,414.9 L118.9,411.1 L116.9,408.1 L114.6,405.8 L112.4,403.1 L110.1,400.8 L107.6,398.7 L105.6,396.3 L104.2,393.3 L104.0,392.0 L104.3,390.8 L104.8,393.2 L106.1,396.0 L108.0,398.3 L110.4,400.3 L112.9,402.7 L114.9,405.2 L117.4,407.7 L119.5,410.8 L121.0,414.8 L121.0,416.4 L122.9,422.7ZM186.6,399.5 L187.8,396.3 L189.9,394.7 L194.6,391.9 L195.8,389.5 L195.4,387.0 L193.6,384.7 L192.1,382.3 L190.5,381.1 L188.3,381.1 L187.8,380.9 L185.7,378.8 L184.6,376.8 L182.8,374.5 L180.9,373.4 L179.2,374.0 L177.9,376.6 L176.7,379.9 L173.5,380.6 L170.8,379.2 L170.7,376.4 L169.8,373.3 L168.1,371.1 L163.2,368.4 L161.4,369.1 L160.2,371.6 L160.2,378.4 L159.9,379.0 L159.3,379.2 L158.6,378.8 L152.7,370.4 L150.6,367.8 L148.9,367.8 L146.7,368.7 L145.3,370.1 L143.3,371.6 L140.9,372.3 L140.3,372.1 L137.0,369.8 L134.6,369.3 L131.8,368.3 L129.6,368.3 L123.7,370.2 L122.5,372.2 L121.4,378.2 L119.1,380.1 L116.6,380.6 L116.2,380.5 L115.8,380.0 L114.8,377.0 L114.3,374.1 L113.4,371.4 L111.8,369.7 L109.4,369.3 L106.4,370.3 L103.5,369.8 L101.7,370.6 L100.9,372.8 L101.6,374.5 L103.6,375.3 L104.8,377.6 L104.8,381.3 L103.9,386.9 L103.5,385.4 L104.2,381.3 L104.2,377.7 L103.1,375.6 L101.8,375.1 L100.9,374.2 L100.5,373.0 L100.6,371.9 L101.5,370.2 L103.2,369.4 L106.4,369.7 L109.5,368.8 L112.1,369.3 L113.5,370.6 L114.1,371.4 L114.9,373.9 L115.4,376.9 L116.4,379.8 L116.7,380.0 L118.8,379.5 L120.9,377.9 L121.9,372.2 L123.3,369.9 L124.3,369.3 L129.7,367.7 L132.0,367.8 L137.1,369.2 L140.8,371.7 L143.0,371.1 L146.9,368.0 L149.0,367.3 L150.6,367.5 L151.5,368.1 L153.1,370.0 L159.3,378.6 L159.6,378.3 L159.7,371.3 L160.8,369.1 L161.7,368.4 L162.6,368.1 L164.3,368.3 L168.6,370.8 L170.2,372.8 L170.5,373.5 L171.3,376.2 L171.4,378.9 L173.5,380.0 L176.3,379.4 L177.4,376.2 L178.4,374.3 L179.0,373.6 L180.2,373.0 L181.6,373.1 L183.2,374.1 L185.0,376.2 L186.8,379.7 L188.3,380.5 L190.8,380.7 L192.3,381.8 L195.7,386.4 L196.1,387.5 L196.2,389.8 L195.1,392.1 L188.2,396.7 L187.1,399.6 L185.9,401.4 L184.9,402.2 L183.6,402.5 L185.3,401.3 L186.6,399.5ZM174.3,389.9 L174.4,389.0 L176.6,387.3 L177.2,387.2 L180.2,388.1 L182.1,386.3 L181.6,382.7 L182.0,381.9 L183.0,382.0 L184.7,383.7 L185.8,387.3 L183.3,394.8 L181.8,398.8 L181.0,400.1 L181.1,398.9 L184.2,390.7 L185.2,387.1 L183.6,382.9 L182.6,382.4 L182.2,382.6 L182.5,386.0 L182.1,387.0 L181.3,387.8 L179.7,388.4 L176.9,387.8 L174.8,389.5 L176.2,392.7 L175.8,396.5 L176.3,400.0 L178.9,401.7 L179.9,401.6 L179.3,402.2 L178.6,402.2 L175.8,400.3 L175.2,396.5 L175.7,392.8 L174.3,389.9ZM117.6,398.6 L116.3,395.7 L116.5,395.0 L117.0,394.6 L120.1,394.1 L120.7,394.3 L122.4,397.1 L122.3,398.0 L119.8,399.9 L119.3,399.8 L117.6,398.6ZM107.9,387.1 L108.2,386.4 L108.8,386.2 L111.0,387.0 L111.7,390.5 L111.4,391.3 L109.3,391.5 L108.6,391.2 L108.3,389.9 L109.2,390.9 L111.1,390.7 L110.6,387.6 L110.4,387.3 L108.8,386.8 L108.0,387.6 L107.9,387.1ZM109.3,390.6 L108.8,387.1 L110.3,387.6 L110.8,390.6 L109.3,390.6ZM180.5,389.1 L183.0,386.6 L182.5,382.7 L183.9,384.2 L184.9,387.1 L183.9,390.6 L181.0,398.5 L179.0,401.4 L176.6,399.9 L176.1,396.5 L176.6,392.6 L175.1,389.6 L177.0,388.1 L180.5,389.1Z" fill="#808080" fill-rule="evenodd"/>
<g fill="#808080"><circle cx="106.2" cy="385.5" r="3.0"/><circle cx="109.9" cy="384.4" r="3.0"/><circle cx="113.1" cy="386.8" r="3.0"/><circle cx="113.7" cy="390.9" r="3.0"/><circle cx="111.0" cy="393.6" r="3.0"/><circle cx="107.0" cy="392.5" r="3.0"/><circle cx="108.3" cy="395.3" r="3.0"/><circle cx="111.3" cy="398.3" r="3.0"/><circle cx="114.3" cy="401.2" r="3.0"/><circle cx="117.0" cy="404.4" r="3.0"/><circle cx="119.8" cy="407.5" r="3.0"/><circle cx="121.8" cy="411.2" r="3.0"/><circle cx="123.1" cy="415.2" r="3.0"/><circle cx="124.1" cy="419.2" r="3.0"/><circle cx="125.5" cy="423.2" r="3.0"/><circle cx="127.5" cy="426.9" r="3.0"/><circle cx="129.5" cy="430.6" r="3.0"/><circle cx="130.9" cy="434.6" r="3.0"/><circle cx="130.2" cy="438.6" r="3.0"/><circle cx="132.9" cy="441.1" r="3.0"/><circle cx="136.2" cy="438.8" r="3.0"/><circle cx="140.2" cy="438.6" r="3.0"/><circle cx="143.1" cy="441.2" r="3.0"/><circle cx="144.2" cy="445.3" r="3.0"/><circle cx="144.7" cy="449.5" r="3.0"/><circle cx="145.3" cy="453.6" r="3.0"/><circle cx="146.6" cy="457.3" r="3.0"/><circle cx="148.8" cy="453.8" r="3.0"/><circle cx="150.8" cy="450.1" r="3.0"/><circle cx="152.4" cy="446.4" r="3.0"/><circle cx="151.3" cy="442.4" r="3.0"/><circle cx="150.1" cy="438.5" r="3.0"/><circle cx="150.8" cy="434.3" r="3.0"/><circle cx="153.6" cy="431.3" r="3.0"/><circle cx="154.4" cy="427.1" r="3.0"/><circle cx="156.1" cy="423.5" r="3.0"/><circle cx="159.9" cy="424.2" r="3.0"/><circle cx="162.7" cy="427.3" r="3.0"/><circle cx="166.3" cy="427.5" r="3.0"/><circle cx="165.8" cy="423.4" r="3.0"/><circle cx="164.6" cy="419.4" r="3.0"/><circle cx="162.4" cy="415.9" r="3.0"/><circle cx="161.9" cy="411.7" r="3.0"/><circle cx="161.6" cy="407.5" r="3.0"/><circle cx="163.0" cy="403.6" r="3.0"/><circle cx="166.8" cy="403.0" r="3.0"/><circle cx="170.2" cy="405.4" r="3.0"/><circle cx="173.9" cy="407.4" r="3.0"/><circle cx="177.6" cy="409.4" r="3.0"/><circle cx="179.7" cy="407.1" r="3.0"/><circle cx="178.2" cy="404.3" r="3.0"/><circle cx="174.6" cy="402.1" r="3.0"/><circle cx="173.3" cy="398.2" r="3.0"/><circle cx="173.4" cy="394.0" r="3.0"/><circle cx="172.2" cy="390.1" r="3.0"/><circle cx="174.1" cy="386.7" r="3.0"/><circle cx="177.8" cy="385.3" r="3.0"/><circle cx="179.6" cy="383.5" r="3.0"/><circle cx="181.3" cy="380.0" r="3.0"/><circle cx="183.4" cy="378.9" r="3.0"/><circle cx="180.8" cy="375.8" r="3.0"/><circle cx="179.1" cy="379.5" r="3.0"/><circle cx="176.3" cy="382.2" r="3.0"/><circle cx="172.2" cy="382.4" r="3.0"/><circle cx="168.9" cy="379.9" r="3.0"/><circle cx="168.4" cy="375.8" r="3.0"/><circle cx="166.1" cy="372.4" r="3.0"/><circle cx="162.7" cy="371.4" r="3.0"/><circle cx="162.3" cy="375.5" r="3.0"/><circle cx="162.0" cy="379.6" r="3.0"/><circle cx="158.4" cy="381.1" r="3.0"/><circle cx="155.5" cy="378.1" r="3.0"/><circle cx="153.0" cy="374.7" r="3.0"/><circle cx="150.6" cy="371.3" r="3.0"/><circle cx="147.4" cy="371.0" r="3.0"/><circle cx="144.0" cy="373.6" r="3.0"/><circle cx="139.9" cy="374.1" r="3.0"/><circle cx="136.4" cy="371.9" r="3.0"/><circle cx="132.4" cy="370.7" r="3.0"/><circle cx="128.3" cy="370.9" r="3.0"/><circle cx="124.7" cy="372.6" r="3.0"/><circle cx="123.8" cy="376.8" r="3.0"/><circle cx="122.0" cy="380.3" r="3.0"/><circle cx="118.4" cy="382.3" r="3.0"/><circle cx="114.6" cy="381.7" r="3.0"/><circle cx="112.9" cy="377.9" r="3.0"/><circle cx="112.0" cy="373.8" r="3.0"/><circle cx="109.1" cy="371.6" r="3.0"/><circle cx="105.0" cy="372.2" r="3.0"/><circle cx="104.8" cy="373.5" r="3.0"/><circle cx="106.8" cy="377.2" r="3.0"/><circle cx="106.9" cy="381.4" r="3.0"/><circle cx="116.5" cy="400.5" r="3.0"/><circle cx="114.4" cy="396.6" r="3.0"/><circle cx="116.0" cy="392.8" r="3.0"/><circle cx="120.4" cy="392.1" r="3.0"/><circle cx="123.5" cy="394.9" r="3.0"/><circle cx="124.1" cy="399.1" r="3.0"/><circle cx="120.6" cy="401.8" r="3.0"/><circle cx="183.7" cy="399.8" r="3.0"/><circle cx="185.5" cy="396.2" r="3.0"/><circle cx="188.2" cy="393.4" r="3.0"/><circle cx="191.6" cy="391.2" r="3.0"/><circle cx="193.5" cy="388.2" r="3.0"/><circle cx="191.2" cy="384.8" r="3.0"/><circle cx="187.9" cy="383.2" r="3.0"/><circle cx="187.1" cy="384.5" r="3.0"/><circle cx="187.6" cy="388.4" r="3.0"/><circle cx="186.5" cy="392.2" r="3.0"/><circle cx="185.1" cy="396.0" r="3.0"/></g>
<path d="M269.1,413.0 L267.6,421.5 L268.1,424.6 L270.1,426.6 L272.6,427.6 L277.6,426.6 L280.1,427.1 L282.6,427.1 L285.1,426.1 L287.1,426.6 L288.1,431.9 L289.5,436.5 L290.8,438.0 L292.4,439.2 L294.5,439.9 L296.3,440.1 L299.0,443.8 L301.0,444.1 L302.5,442.1 L303.5,436.6 L306.5,433.6 L308.5,435.1 L317.6,440.6 L312.6,441.6 L312.1,443.6 L314.1,445.6 L317.1,447.1 L322.6,449.1 L325.6,450.7 L328.6,451.7 L331.1,453.2 L334.6,457.7 L336.7,459.7 L339.2,460.2 L341.2,458.2 L343.2,455.7 L344.2,452.7 L342.2,450.2 L336.2,448.1 L334.6,446.6 L334.6,443.6 L333.1,441.1 L330.6,439.6 L331.1,437.6 L333.1,436.1 L334.6,433.1 L334.1,430.1 L332.6,427.1 L333.6,421.0 L331.6,415.5 L329.1,414.0 L326.6,414.5 L325.1,414.0 L324.1,411.2 L322.6,409.3 L323.1,406.3 L323.1,403.4 L321.1,397.5 L319.6,395.0 L318.7,392.5 L318.7,390.1 L318.2,387.1 L319.1,384.2 L318.7,381.2 L317.2,378.2 L316.7,375.3 L316.7,371.8 L315.7,369.4 L313.7,367.4 L310.8,366.9 L308.3,367.9 L306.8,369.9 L302.9,368.4 L294.3,368.4 L291.3,368.9 L288.4,367.9 L285.4,367.9 L282.5,367.4 L279.5,367.9 L276.6,367.9 L274.1,366.9 L271.6,366.4 L268.7,366.9 L266.2,367.9 L264.2,368.4 L261.8,367.9 L259.3,369.4 L257.8,372.3 L257.8,375.8 L256.9,378.2 L253.9,378.7 L252.4,381.2 L252.9,384.7 L255.4,386.6 L257.8,387.1 L260.3,388.1 L259.8,390.1 L258.3,392.0 L258.3,395.0 L260.3,397.5 L263.3,398.9 L266.2,398.9 L268.7,399.9 L267.7,402.4 L268.7,405.3 L270.2,407.3 L268.7,410.3 L269.1,413.0ZM270.0,413.0 L268.5,421.5 L268.9,424.1 L270.6,425.8 L272.7,426.6 L274.9,426.2 L273.4,427.1 L272.1,427.0 L270.1,426.1 L268.5,424.3 L268.0,422.5 L268.1,421.5 L268.5,420.5 L268.3,418.9 L269.4,413.1 L269.1,410.3 L270.5,407.3 L268.9,405.0 L268.3,403.1 L268.2,402.0 L268.9,399.8 L266.3,398.6 L263.2,398.5 L260.3,397.0 L258.8,395.0 L258.6,393.0 L258.9,391.8 L260.1,390.2 L260.6,388.0 L257.9,386.8 L255.4,386.2 L253.7,384.8 L253.1,383.7 L252.9,381.4 L253.6,379.9 L254.8,378.9 L257.1,378.4 L258.1,375.8 L258.3,372.3 L259.6,369.7 L261.6,368.5 L262.6,368.4 L264.3,368.7 L268.8,367.2 L271.4,366.8 L274.0,367.2 L276.5,368.2 L279.5,368.2 L282.6,367.8 L285.4,368.2 L288.5,368.3 L291.3,369.2 L294.3,368.7 L302.6,368.7 L306.8,370.2 L308.6,368.2 L310.3,367.4 L311.6,367.4 L313.8,368.0 L315.4,369.6 L316.3,371.7 L316.4,375.3 L316.9,378.2 L318.4,381.7 L318.7,384.3 L317.9,387.1 L318.3,390.1 L318.4,392.6 L319.4,395.1 L320.8,397.6 L322.7,403.3 L322.8,406.3 L322.3,409.4 L323.8,411.5 L324.9,414.2 L326.6,414.8 L328.3,414.5 L329.3,414.6 L331.2,415.7 L331.7,416.6 L333.2,420.7 L333.2,421.7 L332.3,427.1 L333.9,430.3 L334.2,433.0 L332.9,435.8 L330.9,437.5 L330.3,439.7 L332.6,441.1 L333.3,441.9 L334.3,444.0 L334.4,446.7 L335.9,448.3 L341.5,450.2 L342.9,451.6 L343.3,452.3 L343.5,453.3 L342.9,455.5 L341.0,457.9 L339.7,459.2 L338.4,459.6 L337.1,459.4 L335.0,457.6 L331.2,452.9 L328.7,451.4 L325.9,450.4 L322.6,448.8 L317.1,446.8 L315.4,445.9 L314.6,444.9 L317.4,446.3 L322.9,448.3 L326.0,449.8 L329.0,450.8 L331.6,452.4 L335.3,457.1 L337.1,458.9 L338.9,459.2 L342.4,455.2 L343.2,452.8 L341.6,450.9 L335.5,448.8 L333.8,447.0 L333.7,443.9 L332.5,441.8 L330.1,440.3 L329.8,439.9 L330.4,437.1 L332.4,435.5 L333.7,432.9 L333.3,430.4 L331.7,427.1 L332.7,421.1 L330.9,416.1 L329.0,415.0 L326.6,415.4 L324.5,414.7 L323.3,411.7 L321.7,409.6 L322.2,406.2 L322.2,403.5 L320.3,397.8 L318.8,395.4 L317.8,392.6 L317.8,390.1 L317.3,387.1 L318.2,384.1 L317.8,381.5 L316.3,378.4 L315.8,375.4 L315.8,372.0 L314.9,369.9 L313.3,368.3 L310.9,367.9 L308.9,368.7 L307.5,370.5 L306.9,370.8 L302.7,369.3 L294.4,369.3 L291.3,369.8 L288.2,368.8 L285.4,368.8 L282.5,368.3 L279.6,368.8 L276.5,368.8 L273.8,367.8 L271.6,367.3 L268.9,367.8 L266.6,368.7 L264.4,369.3 L262.0,368.9 L260.0,370.0 L258.7,372.6 L258.7,376.0 L257.7,378.7 L257.1,379.1 L254.5,379.6 L253.4,381.4 L253.8,384.2 L255.8,385.8 L258.2,386.3 L260.7,387.3 L261.1,387.7 L261.2,388.2 L260.7,390.4 L259.2,392.3 L259.2,394.7 L260.9,396.7 L263.5,398.0 L266.4,398.0 L269.1,399.1 L269.5,399.5 L269.5,400.2 L268.7,402.4 L269.5,404.9 L271.1,407.3 L269.6,410.4 L270.0,413.0ZM287.4,425.7 L288.0,426.3 L288.9,431.7 L290.3,436.1 L291.4,437.3 L292.8,438.4 L294.7,439.0 L296.8,439.4 L299.3,442.7 L297.9,441.9 L296.4,439.9 L294.5,439.6 L292.7,439.0 L291.0,437.8 L289.9,436.6 L288.4,432.0 L287.4,426.5 L285.7,425.3 L287.4,425.7ZM301.7,441.7 L302.7,436.2 L305.9,433.0 L306.4,432.7 L307.0,432.8 L309.1,434.3 L316.6,438.9 L318.2,439.9 L318.5,440.5 L318.4,441.0 L317.9,441.4 L315.0,442.1 L316.0,441.3 L317.7,440.9 L317.8,440.5 L306.5,433.3 L303.3,436.5 L302.5,440.8 L302.0,441.8 L301.2,442.4 L301.7,441.7ZM280.6,413.8 L280.9,414.8 L279.7,416.3 L279.5,417.6 L280.2,419.0 L284.7,420.4 L286.0,422.0 L286.1,422.5 L285.8,422.9 L285.2,423.2 L285.5,422.2 L284.4,420.8 L280.7,419.8 L279.5,418.9 L279.0,417.7 L279.0,416.6 L280.3,414.5 L278.6,413.2 L276.0,414.5 L274.5,416.8 L273.2,421.0 L273.4,421.5 L274.8,422.6 L275.3,423.4 L273.0,422.0 L272.7,421.2 L273.9,416.5 L275.6,414.1 L278.5,412.6 L279.0,412.7 L280.6,413.8ZM278.6,417.8 L279.5,419.7 L281.9,420.6 L284.2,421.1 L285.2,422.3 L282.8,421.8 L280.0,421.8 L277.1,422.0 L275.3,422.5 L273.6,421.3 L274.8,416.8 L276.2,414.7 L278.6,413.5 L280.0,414.5 L278.8,415.9 L278.6,417.8Z" fill="#0000ff" fill-rule="evenodd"/>
<g fill="#0000ff"><circle cx="270.7" cy="422.1" r="3.0"/><circle cx="272.7" cy="424.4" r="3.0"/><circle cx="271.0" cy="419.3" r="3.0"/><circle cx="272.2" cy="415.3" r="3.0"/><circle cx="274.9" cy="412.2" r="3.0"/><circle cx="278.7" cy="410.5" r="3.0"/><circle cx="282.2" cy="412.6" r="3.0"/><circle cx="282.2" cy="416.5" r="3.0"/><circle cx="284.8" cy="418.2" r="3.0"/><circle cx="287.8" cy="420.9" r="3.0"/><circle cx="289.1" cy="424.3" r="3.0"/><circle cx="290.4" cy="428.2" r="3.0"/><circle cx="291.3" cy="432.3" r="3.0"/><circle cx="293.2" cy="436.0" r="3.0"/><circle cx="297.1" cy="437.3" r="3.0"/><circle cx="299.9" cy="439.9" r="3.0"/><circle cx="300.7" cy="435.8" r="3.0"/><circle cx="303.4" cy="432.6" r="3.0"/><circle cx="306.9" cy="430.7" r="3.0"/><circle cx="310.5" cy="432.8" r="3.0"/><circle cx="314.1" cy="434.9" r="3.0"/><circle cx="317.7" cy="437.1" r="3.0"/><circle cx="320.4" cy="440.1" r="3.0"/><circle cx="318.5" cy="443.4" r="3.0"/><circle cx="319.6" cy="444.8" r="3.0"/><circle cx="323.5" cy="446.3" r="3.0"/><circle cx="327.3" cy="448.1" r="3.0"/><circle cx="331.2" cy="449.7" r="3.0"/><circle cx="334.3" cy="452.5" r="3.0"/><circle cx="337.1" cy="455.7" r="3.0"/><circle cx="339.8" cy="455.0" r="3.0"/><circle cx="339.0" cy="452.2" r="3.0"/><circle cx="335.0" cy="450.9" r="3.0"/><circle cx="332.1" cy="447.9" r="3.0"/><circle cx="331.3" cy="443.9" r="3.0"/><circle cx="328.2" cy="441.2" r="3.0"/><circle cx="328.2" cy="437.2" r="3.0"/><circle cx="330.8" cy="434.0" r="3.0"/><circle cx="330.8" cy="430.1" r="3.0"/><circle cx="329.8" cy="426.2" r="3.0"/><circle cx="330.4" cy="422.0" r="3.0"/><circle cx="329.4" cy="418.0" r="3.0"/><circle cx="325.6" cy="417.3" r="3.0"/><circle cx="322.3" cy="415.1" r="3.0"/><circle cx="320.5" cy="411.3" r="3.0"/><circle cx="319.9" cy="407.3" r="3.0"/><circle cx="319.9" cy="403.2" r="3.0"/><circle cx="318.5" cy="399.2" r="3.0"/><circle cx="316.6" cy="395.4" r="3.0"/><circle cx="315.7" cy="391.4" r="3.0"/><circle cx="315.2" cy="387.2" r="3.0"/><circle cx="315.9" cy="383.1" r="3.0"/><circle cx="314.4" cy="379.2" r="3.0"/><circle cx="313.7" cy="375.1" r="3.0"/><circle cx="313.1" cy="371.0" r="3.0"/><circle cx="309.6" cy="371.1" r="3.0"/><circle cx="306.0" cy="372.7" r="3.0"/><circle cx="302.1" cy="371.4" r="3.0"/><circle cx="297.9" cy="371.4" r="3.0"/><circle cx="293.6" cy="371.5" r="3.0"/><circle cx="289.5" cy="371.4" r="3.0"/><circle cx="285.4" cy="370.9" r="3.0"/><circle cx="281.2" cy="370.7" r="3.0"/><circle cx="277.0" cy="370.9" r="3.0"/><circle cx="273.0" cy="369.8" r="3.0"/><circle cx="268.9" cy="370.1" r="3.0"/><circle cx="264.9" cy="371.3" r="3.0"/><circle cx="261.2" cy="372.3" r="3.0"/><circle cx="260.7" cy="376.4" r="3.0"/><circle cx="259.0" cy="380.1" r="3.0"/><circle cx="255.6" cy="382.0" r="3.0"/><circle cx="258.6" cy="384.2" r="3.0"/><circle cx="262.3" cy="386.0" r="3.0"/><circle cx="262.9" cy="389.9" r="3.0"/><circle cx="261.3" cy="393.7" r="3.0"/><circle cx="264.5" cy="396.0" r="3.0"/><circle cx="268.6" cy="396.7" r="3.0"/><circle cx="271.5" cy="399.4" r="3.0"/><circle cx="271.2" cy="403.4" r="3.0"/><circle cx="273.1" cy="407.1" r="3.0"/><circle cx="271.8" cy="411.0" r="3.0"/><circle cx="271.7" cy="415.2" r="3.0"/><circle cx="290.1" cy="441.9" r="3.0"/></g>
<path d="M480.5,414.6 L481.6,414.8 L484.1,413.0 L480.5,414.6ZM413.1,413.5 L415.1,426.1 L416.1,429.1 L416.6,432.1 L417.6,435.1 L417.1,437.6 L417.6,440.6 L419.1,443.1 L421.6,443.6 L423.6,441.1 L425.2,443.1 L427.2,444.1 L429.2,443.6 L430.7,442.1 L433.2,441.6 L435.7,442.1 L437.7,448.1 L438.2,451.7 L437.7,455.2 L437.7,459.2 L439.2,461.2 L441.2,460.7 L443.2,459.2 L445.2,456.2 L446.7,453.2 L448.7,446.1 L447.7,443.1 L446.2,441.1 L446.7,438.6 L447.7,436.1 L446.9,435.6 L449.0,435.1 L451.0,433.6 L453.0,430.6 L454.5,426.1 L455.5,422.0 L457.0,420.5 L458.5,421.0 L459.0,424.0 L460.0,427.1 L461.6,429.6 L464.1,431.1 L467.1,431.6 L469.6,430.6 L470.6,427.6 L469.1,424.0 L467.1,421.5 L466.1,419.0 L467.6,417.0 L467.1,415.0 L466.7,415.0 L464.2,406.3 L465.2,404.9 L467.2,408.3 L468.2,412.2 L474.6,411.0 L476.1,412.5 L478.6,414.2 L479.9,414.5 L484.9,409.3 L486.9,408.3 L488.9,406.8 L490.3,404.9 L492.8,403.4 L495.3,401.4 L499.2,396.5 L504.1,393.5 L507.6,389.1 L509.5,387.1 L509.0,384.7 L504.1,380.7 L501.7,379.7 L497.7,375.8 L492.8,372.8 L490.3,373.3 L488.4,375.3 L487.9,377.8 L483.4,379.7 L482.0,381.7 L479.5,381.2 L477.0,380.2 L477.5,377.8 L477.5,374.3 L476.1,371.4 L473.1,369.4 L470.1,367.9 L466.7,368.9 L464.2,371.4 L463.2,374.8 L463.7,378.3 L462.3,379.2 L460.3,377.3 L458.8,374.8 L456.8,372.8 L453.9,368.4 L451.0,366.9 L449.5,366.9 L447.0,367.4 L445.1,369.4 L443.6,371.4 L441.1,370.9 L438.7,369.4 L436.2,368.4 L433.3,368.9 L430.8,368.4 L428.3,367.4 L425.4,367.4 L422.9,368.9 L420.0,369.9 L418.0,370.9 L416.5,379.2 L414.5,379.7 L412.1,379.2 L410.1,380.2 L408.6,382.2 L406.7,380.7 L405.7,377.8 L405.7,373.8 L404.7,370.9 L402.2,368.9 L399.3,368.9 L396.3,369.4 L392.9,369.4 L390.4,370.4 L389.4,372.8 L390.9,375.3 L392.9,376.3 L393.9,382.2 L392.9,385.2 L393.4,388.1 L397.8,397.0 L399.3,399.4 L399.8,401.9 L401.7,403.9 L404.7,404.9 L407.7,405.3 L409.1,407.8 L411.1,409.8 L412.6,411.8 L413.1,415.0 L413.1,413.5ZM413.3,411.3 L416.0,425.8 L417.0,428.9 L417.5,431.9 L418.5,434.9 L418.0,437.6 L418.5,440.3 L419.7,442.3 L421.2,442.6 L420.0,442.6 L419.1,442.1 L418.4,441.3 L417.9,440.2 L417.5,437.6 L417.9,435.0 L416.9,432.0 L416.4,429.0 L415.4,426.0 L413.4,413.5 L412.8,411.6 L411.4,409.7 L409.4,407.6 L407.8,405.1 L404.8,404.6 L402.3,403.7 L400.4,402.1 L400.0,401.2 L399.5,399.3 L398.0,396.7 L393.7,388.1 L393.3,385.3 L394.2,382.2 L393.2,376.2 L391.0,374.8 L390.1,373.1 L390.4,371.6 L391.1,370.5 L392.9,369.8 L396.4,369.7 L399.3,369.2 L401.4,369.2 L402.7,369.6 L404.0,370.7 L404.7,371.8 L405.4,374.0 L405.4,377.8 L406.4,380.9 L408.6,382.5 L410.3,380.6 L411.5,379.9 L412.5,379.7 L414.6,380.0 L416.7,379.5 L418.0,372.4 L418.6,371.2 L419.9,370.3 L423.0,369.2 L425.7,367.8 L428.3,367.8 L430.7,368.7 L433.2,369.2 L436.4,368.9 L438.5,369.7 L441.0,371.2 L443.6,371.7 L445.4,369.5 L447.3,367.8 L449.5,367.3 L451.0,367.3 L453.8,368.9 L456.5,372.9 L458.6,375.0 L460.1,377.5 L462.3,379.5 L464.0,378.4 L463.6,374.8 L464.3,372.2 L464.8,371.2 L466.6,369.5 L467.5,369.0 L470.1,368.4 L472.1,369.2 L473.1,370.1 L473.4,370.7 L470.1,368.9 L467.2,369.7 L465.0,371.8 L464.2,374.9 L464.5,378.7 L462.3,380.1 L461.7,379.9 L459.6,377.8 L458.1,375.4 L456.1,373.4 L453.3,369.1 L450.8,367.8 L447.5,368.3 L445.8,370.0 L444.3,372.0 L443.6,372.3 L440.8,371.7 L438.3,370.2 L436.1,369.3 L433.2,369.8 L430.5,369.3 L428.2,368.3 L425.6,368.3 L423.3,369.7 L420.3,370.7 L418.8,371.5 L417.4,379.4 L417.1,379.9 L414.6,380.6 L412.2,380.2 L410.7,380.9 L409.3,382.8 L408.7,383.1 L408.1,382.9 L405.8,381.1 L404.8,378.0 L404.8,374.0 L403.9,371.4 L401.9,369.8 L399.4,369.8 L396.4,370.3 L393.1,370.3 L391.1,371.1 L390.4,372.8 L391.5,374.6 L393.4,375.5 L393.8,376.1 L394.8,382.1 L393.8,385.2 L394.2,387.8 L398.6,396.5 L400.1,399.1 L400.6,401.5 L402.2,403.1 L404.9,404.0 L408.3,404.7 L409.8,407.3 L411.7,409.1 L413.3,411.3ZM423.0,440.5 L423.5,440.2 L424.1,440.3 L425.7,442.4 L427.3,443.2 L428.7,442.8 L430.3,441.3 L433.0,440.7 L435.9,441.2 L436.4,441.5 L438.6,448.0 L439.1,451.6 L438.6,455.2 L438.6,458.9 L439.0,459.4 L438.3,458.6 L438.0,457.6 L438.0,455.0 L438.5,451.7 L438.0,448.2 L435.9,441.9 L433.1,441.3 L430.6,441.8 L429.0,443.3 L427.3,443.6 L425.5,442.9 L423.6,440.8 L422.3,442.2 L421.3,442.6 L423.0,440.5ZM442.6,458.6 L444.4,455.7 L445.9,452.8 L447.8,446.2 L446.9,443.5 L445.3,441.3 L445.9,438.3 L446.6,436.5 L446.1,436.0 L446.1,435.3 L446.6,434.7 L448.6,434.3 L450.4,433.0 L452.2,430.2 L454.9,421.4 L456.8,419.7 L459.0,420.3 L459.4,420.8 L459.9,423.8 L460.9,426.7 L462.2,428.9 L464.4,430.2 L467.0,430.6 L468.9,429.9 L469.6,427.6 L468.3,424.5 L466.3,422.0 L465.2,419.3 L465.3,418.6 L466.6,416.8 L466.4,415.8 L465.8,415.3 L463.3,406.5 L463.4,405.9 L464.6,404.2 L465.5,404.0 L466.0,404.4 L468.0,407.9 L468.8,410.9 L468.0,409.9 L467.5,408.2 L465.5,404.8 L465.1,404.6 L463.9,406.4 L464.9,410.4 L466.8,416.2 L466.7,417.5 L465.8,419.1 L466.8,421.7 L468.7,424.1 L469.9,426.6 L470.1,428.0 L469.6,429.4 L468.9,430.4 L467.3,431.1 L466.3,431.1 L464.0,430.6 L461.9,429.4 L460.5,427.2 L459.3,424.0 L458.7,420.8 L457.0,420.2 L455.4,421.8 L454.2,426.1 L452.5,430.7 L450.4,433.7 L448.9,434.8 L446.7,435.5 L446.9,437.1 L445.9,441.2 L447.5,443.4 L448.2,445.6 L448.3,446.7 L446.4,453.0 L444.9,456.2 L442.6,459.3 L441.4,459.9 L440.3,460.0 L440.8,459.9 L442.6,458.6ZM474.5,410.1 L475.1,410.3 L476.7,411.8 L479.0,413.4 L479.6,413.5 L484.4,408.6 L486.4,407.5 L487.8,406.5 L487.0,407.8 L484.7,409.0 L480.8,413.0 L479.8,413.5 L478.8,413.6 L477.8,413.3 L476.3,412.3 L474.7,410.7 L470.6,411.4 L469.1,411.1 L474.5,410.1ZM494.6,400.8 L498.5,395.9 L503.5,392.8 L506.8,388.6 L508.6,386.8 L508.2,385.2 L503.7,381.5 L501.2,380.5 L500.4,379.7 L501.2,379.9 L504.1,381.1 L508.1,384.3 L508.8,385.7 L508.8,387.0 L508.3,387.9 L503.9,393.3 L499.0,396.3 L495.0,401.2 L492.8,403.0 L491.9,403.5 L490.8,403.5 L494.6,400.8ZM492.6,373.8 L490.8,374.2 L489.2,375.8 L488.5,378.4 L484.0,380.5 L482.3,382.5 L479.2,382.1 L476.6,381.0 L476.2,380.6 L476.6,376.8 L477.1,378.0 L476.8,380.5 L479.4,381.5 L482.0,382.0 L483.9,379.9 L488.1,378.0 L488.9,375.3 L490.8,373.6 L492.2,373.3 L493.4,373.6 L495.6,375.0 L496.3,376.0 L492.6,373.8ZM492.1,379.6 L492.6,379.3 L495.7,378.9 L494.8,379.4 L492.7,379.9 L492.1,380.3 L491.5,382.1 L491.0,385.4 L489.8,387.0 L488.9,387.4 L486.2,387.8 L482.2,389.5 L481.2,392.5 L480.7,396.9 L479.7,400.0 L482.9,402.7 L486.6,403.5 L485.8,403.8 L482.7,403.2 L479.4,400.6 L479.1,400.0 L480.1,396.8 L480.6,392.4 L481.7,389.2 L482.1,388.8 L486.2,387.2 L489.4,386.8 L490.4,385.3 L490.9,382.0 L492.1,379.6ZM497.7,381.8 L499.6,385.9 L499.5,386.6 L497.0,388.7 L493.0,395.1 L488.4,401.0 L488.8,399.5 L492.5,394.8 L496.3,388.7 L499.0,386.3 L497.8,383.3 L497.7,381.8ZM468.6,374.6 L468.9,374.2 L469.3,373.9 L471.8,373.8 L472.1,374.0 L469.3,374.6 L469.2,376.4 L470.6,377.6 L472.9,376.0 L472.9,376.7 L471.0,378.1 L470.2,378.1 L468.7,376.7 L468.6,374.6ZM470.6,377.3 L469.5,376.3 L469.5,374.8 L471.4,374.6 L472.1,376.3 L470.6,377.3ZM498.7,386.2 L496.3,388.1 L492.3,394.5 L485.9,402.9 L483.0,402.4 L480.0,399.9 L481.0,397.0 L481.5,392.6 L482.5,389.6 L486.4,388.1 L489.9,387.6 L491.3,385.7 L491.8,382.2 L492.8,380.2 L495.3,379.7 L497.2,382.7 L498.7,386.2Z" fill="#808080" fill-rule="evenodd"/>
<g fill="#808080"><circle cx="392.8" cy="372.7" r="3.0"/><circle cx="395.7" cy="375.5" r="3.0"/><circle cx="396.4" cy="379.6" r="3.0"/><circle cx="396.5" cy="383.7" r="3.0"/><circle cx="396.5" cy="387.8" r="3.0"/><circle cx="398.4" cy="391.5" r="3.0"/><circle cx="400.3" cy="395.3" r="3.0"/><circle cx="402.2" cy="399.0" r="3.0"/><circle cx="404.9" cy="401.7" r="3.0"/><circle cx="408.9" cy="402.7" r="3.0"/><circle cx="411.5" cy="405.9" r="3.0"/><circle cx="414.3" cy="409.1" r="3.0"/><circle cx="416.0" cy="412.8" r="3.0"/><circle cx="416.7" cy="417.0" r="3.0"/><circle cx="417.4" cy="421.1" r="3.0"/><circle cx="418.0" cy="425.3" r="3.0"/><circle cx="419.2" cy="429.3" r="3.0"/><circle cx="420.2" cy="433.4" r="3.0"/><circle cx="420.2" cy="437.5" r="3.0"/><circle cx="421.9" cy="438.7" r="3.0"/><circle cx="425.7" cy="439.0" r="3.0"/><circle cx="428.7" cy="440.0" r="3.0"/><circle cx="432.6" cy="438.7" r="3.0"/><circle cx="436.7" cy="439.4" r="3.0"/><circle cx="439.0" cy="442.6" r="3.0"/><circle cx="440.3" cy="446.6" r="3.0"/><circle cx="441.1" cy="450.8" r="3.0"/><circle cx="440.8" cy="454.9" r="3.0"/><circle cx="441.8" cy="455.9" r="3.0"/><circle cx="443.8" cy="452.2" r="3.0"/><circle cx="445.0" cy="448.2" r="3.0"/><circle cx="444.8" cy="444.2" r="3.0"/><circle cx="443.4" cy="440.5" r="3.0"/><circle cx="444.1" cy="436.4" r="3.0"/><circle cx="445.7" cy="432.9" r="3.0"/><circle cx="449.2" cy="430.9" r="3.0"/><circle cx="451.0" cy="427.1" r="3.0"/><circle cx="452.2" cy="423.1" r="3.0"/><circle cx="454.0" cy="419.4" r="3.0"/><circle cx="457.5" cy="417.6" r="3.0"/><circle cx="461.1" cy="419.6" r="3.0"/><circle cx="462.1" cy="423.6" r="3.0"/><circle cx="463.8" cy="427.4" r="3.0"/><circle cx="467.3" cy="427.8" r="3.0"/><circle cx="465.4" cy="424.2" r="3.0"/><circle cx="463.5" cy="420.5" r="3.0"/><circle cx="464.2" cy="416.6" r="3.0"/><circle cx="462.8" cy="412.6" r="3.0"/><circle cx="461.7" cy="408.5" r="3.0"/><circle cx="461.9" cy="404.5" r="3.0"/><circle cx="464.9" cy="401.9" r="3.0"/><circle cx="468.2" cy="404.0" r="3.0"/><circle cx="470.1" cy="407.8" r="3.0"/><circle cx="473.5" cy="408.2" r="3.0"/><circle cx="477.3" cy="409.4" r="3.0"/><circle cx="480.4" cy="409.6" r="3.0"/><circle cx="483.5" cy="406.7" r="3.0"/><circle cx="482.9" cy="405.4" r="3.0"/><circle cx="479.4" cy="403.3" r="3.0"/><circle cx="477.1" cy="400.0" r="3.0"/><circle cx="478.1" cy="395.9" r="3.0"/><circle cx="478.6" cy="391.8" r="3.0"/><circle cx="480.1" cy="387.8" r="3.0"/><circle cx="483.8" cy="385.9" r="3.0"/><circle cx="487.8" cy="384.9" r="3.0"/><circle cx="489.0" cy="381.1" r="3.0"/><circle cx="486.3" cy="381.8" r="3.0"/><circle cx="483.1" cy="384.4" r="3.0"/><circle cx="479.0" cy="384.2" r="3.0"/><circle cx="475.1" cy="382.5" r="3.0"/><circle cx="474.3" cy="378.7" r="3.0"/><circle cx="471.2" cy="380.1" r="3.0"/><circle cx="467.5" cy="378.5" r="3.0"/><circle cx="466.4" cy="379.4" r="3.0"/><circle cx="463.3" cy="382.0" r="3.0"/><circle cx="459.5" cy="380.7" r="3.0"/><circle cx="456.9" cy="377.5" r="3.0"/><circle cx="454.2" cy="374.3" r="3.0"/><circle cx="451.8" cy="370.8" r="3.0"/><circle cx="448.1" cy="370.7" r="3.0"/><circle cx="445.3" cy="373.8" r="3.0"/><circle cx="441.3" cy="373.9" r="3.0"/><circle cx="437.4" cy="372.3" r="3.0"/><circle cx="433.4" cy="371.8" r="3.0"/><circle cx="429.3" cy="371.1" r="3.0"/><circle cx="425.4" cy="370.9" r="3.0"/><circle cx="421.5" cy="372.6" r="3.0"/><circle cx="420.1" cy="376.1" r="3.0"/><circle cx="419.3" cy="380.2" r="3.0"/><circle cx="416.0" cy="382.5" r="3.0"/><circle cx="412.0" cy="382.7" r="3.0"/><circle cx="408.8" cy="385.2" r="3.0"/><circle cx="405.1" cy="383.3" r="3.0"/><circle cx="403.2" cy="379.7" r="3.0"/><circle cx="402.7" cy="375.5" r="3.0"/><circle cx="401.1" cy="371.9" r="3.0"/><circle cx="397.0" cy="372.3" r="3.0"/><circle cx="466.5" cy="376.4" r="3.0"/><circle cx="467.4" cy="372.7" r="3.0"/><circle cx="470.6" cy="371.5" r="3.0"/><circle cx="467.2" cy="372.6" r="3.0"/><circle cx="490.9" cy="377.9" r="3.0"/><circle cx="493.2" cy="376.6" r="3.0"/><circle cx="500.4" cy="382.4" r="3.0"/><circle cx="501.6" cy="386.4" r="3.0"/><circle cx="499.2" cy="389.6" r="3.0"/><circle cx="496.7" cy="393.0" r="3.0"/><circle cx="494.5" cy="396.6" r="3.0"/><circle cx="491.9" cy="399.9" r="3.0"/><circle cx="493.4" cy="399.0" r="3.0"/><circle cx="496.0" cy="395.7" r="3.0"/><circle cx="499.2" cy="393.0" r="3.0"/><circle cx="502.6" cy="390.6" r="3.0"/><circle cx="505.3" cy="387.3" r="3.0"/><circle cx="504.0" cy="384.5" r="3.0"/></g>
<path d="M582.6,420.0 L582.1,422.5 L582.6,425.1 L584.6,427.1 L587.1,427.1 L589.6,426.6 L592.1,427.1 L594.1,426.1 L600.7,427.6 L601.7,430.1 L601.7,433.1 L601.2,436.1 L601.7,439.1 L603.2,441.6 L605.2,443.6 L606.0,444.1 L612.0,444.1 L614.0,443.1 L614.0,440.6 L612.5,438.1 L614.0,436.6 L616.0,435.1 L618.5,435.6 L621.1,435.6 L623.6,436.1 L625.6,437.6 L628.6,441.6 L629.1,443.6 L630.6,445.6 L632.6,447.1 L633.6,449.1 L635.1,451.2 L639.6,453.2 L641.1,455.7 L642.1,458.2 L644.1,460.2 L647.2,460.7 L649.7,459.7 L651.7,457.2 L652.7,454.2 L651.7,451.7 L649.7,449.6 L647.2,448.1 L644.6,447.1 L643.6,445.1 L643.1,442.6 L641.1,440.6 L638.6,439.6 L643.6,437.1 L645.1,434.1 L644.6,430.6 L643.1,427.1 L641.1,424.0 L641.6,421.5 L643.1,419.0 L643.6,416.0 L642.9,415.0 L639.0,413.7 L638.0,411.3 L638.5,408.3 L637.5,405.8 L636.0,404.4 L635.5,401.9 L631.6,398.0 L631.1,395.0 L629.6,392.5 L627.7,391.6 L627.7,389.6 L628.2,386.6 L629.1,383.7 L627.7,375.8 L627.7,372.4 L626.7,369.4 L624.7,367.4 L621.8,366.9 L612.9,368.4 L610.0,367.9 L603.3,367.9 L600.4,367.4 L597.9,367.9 L595.9,368.9 L594.5,370.4 L592.5,370.4 L591.0,368.9 L585.6,366.9 L582.7,366.9 L579.7,367.4 L577.2,366.9 L574.8,367.4 L573.3,369.9 L572.8,372.8 L571.3,374.8 L571.8,377.3 L573.8,378.3 L576.2,378.8 L577.2,379.7 L576.2,380.7 L574.3,380.2 L572.3,379.2 L568.9,375.8 L566.4,374.8 L564.4,376.3 L564.4,379.2 L565.9,381.7 L571.8,387.6 L570.8,393.0 L572.3,396.0 L574.8,398.0 L580.2,399.9 L581.7,402.4 L582.7,405.3 L583.1,408.3 L582.2,411.3 L582.2,415.0 L581.6,414.0 L582.6,420.0ZM582.8,415.7 L583.5,420.0 L583.0,422.5 L583.4,424.6 L585.0,426.2 L587.9,426.0 L587.1,426.6 L585.8,426.8 L584.6,426.4 L583.3,425.3 L582.7,424.1 L582.5,422.3 L583.0,420.0 L582.3,416.2 L582.5,411.8 L583.4,408.3 L582.9,405.3 L581.9,402.3 L580.4,399.7 L574.9,397.7 L572.4,395.5 L571.4,393.5 L571.3,392.7 L572.1,387.5 L566.0,381.2 L565.1,379.3 L565.3,377.7 L565.3,379.0 L566.6,381.2 L572.6,387.3 L571.8,392.9 L573.0,395.4 L575.2,397.2 L580.7,399.2 L582.5,402.0 L583.5,405.1 L584.0,408.2 L583.1,411.4 L583.1,415.1 L582.8,415.7ZM593.5,425.4 L594.3,425.2 L598.9,426.2 L601.0,426.7 L601.4,427.1 L602.6,430.0 L602.6,433.2 L602.1,436.1 L602.5,438.8 L603.9,441.1 L605.7,442.9 L606.2,443.2 L611.8,443.2 L613.1,442.6 L612.9,442.9 L611.9,443.6 L610.8,443.8 L606.7,443.8 L605.6,443.5 L605.0,443.0 L603.4,441.4 L601.9,438.7 L601.5,435.9 L602.0,433.1 L602.0,430.1 L600.9,427.4 L594.4,425.8 L593.5,425.4ZM613.1,440.9 L611.7,438.5 L611.7,437.7 L613.4,436.0 L615.6,434.3 L616.1,434.2 L618.6,434.7 L621.1,434.7 L623.9,435.3 L626.3,437.1 L629.4,441.1 L629.9,443.2 L631.2,445.0 L633.3,446.6 L634.4,448.7 L635.7,450.4 L640.3,452.6 L641.9,455.3 L642.9,457.7 L644.6,459.3 L647.1,459.8 L649.1,458.9 L650.9,456.7 L651.7,454.2 L650.9,452.2 L649.1,450.4 L646.8,448.9 L644.0,447.8 L642.8,445.5 L642.3,443.1 L640.6,441.4 L638.2,440.4 L637.8,439.9 L637.8,439.3 L638.1,438.8 L643.0,436.4 L644.2,433.9 L643.8,430.8 L642.3,427.5 L640.2,424.1 L640.8,421.3 L642.3,418.7 L642.7,416.2 L642.3,415.7 L638.7,414.6 L638.2,414.2 L637.1,411.4 L637.6,408.4 L636.7,406.3 L635.2,404.7 L634.7,402.3 L630.9,398.5 L630.3,395.3 L629.0,393.2 L627.2,392.3 L626.8,391.8 L626.8,389.5 L627.3,386.5 L628.2,383.6 L626.8,376.0 L626.8,372.5 L625.9,369.9 L624.3,368.3 L621.8,367.9 L612.9,369.3 L610.0,368.8 L603.3,368.8 L600.4,368.3 L598.2,368.8 L596.5,369.6 L594.8,371.2 L592.5,371.3 L591.9,371.1 L590.5,369.7 L585.5,367.8 L582.7,367.8 L579.7,368.3 L577.2,367.9 L575.3,368.2 L574.2,370.2 L573.6,373.2 L572.3,375.0 L572.6,376.7 L574.1,377.4 L576.7,378.0 L578.0,379.3 L578.1,379.8 L577.9,380.3 L576.8,381.4 L576.2,381.6 L574.0,381.1 L571.8,380.0 L568.4,376.6 L567.5,376.2 L568.3,376.3 L569.2,376.7 L572.1,379.5 L574.2,380.5 L576.3,381.0 L577.4,380.0 L577.5,379.6 L576.4,378.5 L574.0,378.0 L573.0,377.5 L572.3,376.7 L572.0,375.7 L572.1,374.4 L573.1,372.9 L573.6,370.0 L574.5,368.5 L575.3,367.8 L577.2,367.3 L579.7,367.7 L582.7,367.2 L585.7,367.3 L590.6,369.1 L592.6,370.7 L594.6,370.7 L596.0,369.3 L597.7,368.4 L600.4,367.8 L603.3,368.2 L610.0,368.2 L612.9,368.7 L621.9,367.3 L624.5,367.8 L626.4,369.7 L627.3,372.3 L627.4,375.9 L628.7,383.2 L627.4,389.5 L627.4,391.7 L629.7,393.2 L630.8,395.1 L631.4,398.1 L635.0,401.9 L635.8,404.5 L637.4,406.3 L638.1,408.3 L637.7,411.3 L638.7,413.9 L641.9,415.0 L642.8,415.9 L643.1,416.9 L642.9,418.7 L641.4,421.4 L640.8,424.1 L642.9,427.2 L644.2,430.3 L644.7,434.0 L643.8,436.1 L643.2,436.9 L638.5,439.3 L638.3,439.7 L640.9,440.9 L642.5,442.4 L643.0,443.3 L643.4,445.2 L644.4,447.4 L647.0,448.4 L649.2,449.7 L651.2,451.6 L652.2,454.0 L651.5,456.8 L649.5,459.3 L647.8,460.1 L646.4,460.3 L644.9,460.0 L643.9,459.5 L642.4,458.0 L641.4,455.5 L639.9,453.0 L635.8,451.1 L635.0,450.5 L633.9,449.0 L632.8,446.9 L630.9,445.5 L629.7,443.9 L628.8,441.5 L625.9,437.5 L623.7,435.8 L621.1,435.3 L618.6,435.3 L615.9,434.8 L613.9,436.3 L612.3,438.0 L613.5,440.7 L613.5,441.7 L613.1,442.5 L613.1,440.9ZM589.7,413.7 L590.4,413.6 L590.9,414.0 L592.4,416.6 L594.0,420.6 L593.3,422.1 L592.5,422.4 L593.4,420.4 L591.8,416.8 L590.3,414.3 L590.0,414.2 L588.3,415.5 L588.6,417.8 L587.7,420.2 L588.5,423.4 L587.8,422.8 L587.2,420.1 L588.2,417.9 L587.7,415.4 L588.0,414.8 L589.7,413.7ZM593.1,420.5 L592.6,421.5 L590.1,421.5 L588.6,422.5 L588.1,420.0 L589.1,418.0 L588.6,415.5 L590.1,414.5 L591.6,417.0 L593.1,420.5Z" fill="#0000ff" fill-rule="evenodd"/>
<g fill="#0000ff"><circle cx="567.7" cy="378.9" r="3.0"/><circle cx="570.5" cy="382.0" r="3.0"/><circle cx="573.4" cy="385.0" r="3.0"/><circle cx="574.7" cy="388.7" r="3.0"/><circle cx="574.1" cy="392.8" r="3.0"/><circle cx="577.0" cy="395.6" r="3.0"/><circle cx="580.9" cy="397.1" r="3.0"/><circle cx="583.7" cy="400.0" r="3.0"/><circle cx="585.3" cy="403.8" r="3.0"/><circle cx="586.1" cy="407.9" r="3.0"/><circle cx="585.1" cy="412.0" r="3.0"/><circle cx="585.0" cy="416.1" r="3.0"/><circle cx="585.9" cy="417.2" r="3.0"/><circle cx="586.6" cy="413.3" r="3.0"/><circle cx="590.2" cy="411.6" r="3.0"/><circle cx="593.3" cy="414.1" r="3.0"/><circle cx="595.2" cy="417.8" r="3.0"/><circle cx="595.8" cy="421.7" r="3.0"/><circle cx="597.5" cy="423.8" r="3.0"/><circle cx="601.6" cy="424.7" r="3.0"/><circle cx="604.0" cy="428.0" r="3.0"/><circle cx="604.6" cy="432.0" r="3.0"/><circle cx="604.2" cy="436.2" r="3.0"/><circle cx="605.8" cy="440.0" r="3.0"/><circle cx="609.5" cy="441.1" r="3.0"/><circle cx="609.6" cy="438.6" r="3.0"/><circle cx="611.4" cy="435.1" r="3.0"/><circle cx="614.6" cy="432.5" r="3.0"/><circle cx="618.7" cy="432.6" r="3.0"/><circle cx="622.8" cy="432.9" r="3.0"/><circle cx="626.5" cy="434.7" r="3.0"/><circle cx="629.4" cy="437.7" r="3.0"/><circle cx="631.5" cy="441.2" r="3.0"/><circle cx="634.0" cy="444.5" r="3.0"/><circle cx="636.5" cy="447.8" r="3.0"/><circle cx="639.8" cy="450.1" r="3.0"/><circle cx="642.8" cy="452.7" r="3.0"/><circle cx="644.7" cy="456.5" r="3.0"/><circle cx="648.2" cy="456.8" r="3.0"/><circle cx="648.9" cy="453.1" r="3.0"/><circle cx="645.5" cy="450.8" r="3.0"/><circle cx="642.1" cy="448.5" r="3.0"/><circle cx="640.5" cy="444.7" r="3.0"/><circle cx="637.4" cy="442.2" r="3.0"/><circle cx="635.8" cy="438.8" r="3.0"/><circle cx="638.8" cy="436.1" r="3.0"/><circle cx="642.0" cy="433.7" r="3.0"/><circle cx="641.0" cy="429.7" r="3.0"/><circle cx="638.9" cy="426.1" r="3.0"/><circle cx="638.5" cy="422.1" r="3.0"/><circle cx="640.1" cy="418.3" r="3.0"/><circle cx="637.5" cy="416.3" r="3.0"/><circle cx="635.4" cy="412.8" r="3.0"/><circle cx="635.4" cy="408.7" r="3.0"/><circle cx="633.2" cy="405.2" r="3.0"/><circle cx="631.2" cy="401.7" r="3.0"/><circle cx="628.7" cy="398.5" r="3.0"/><circle cx="627.3" cy="394.7" r="3.0"/><circle cx="624.8" cy="391.7" r="3.0"/><circle cx="625.0" cy="387.5" r="3.0"/><circle cx="626.0" cy="383.5" r="3.0"/><circle cx="625.3" cy="379.4" r="3.0"/><circle cx="624.7" cy="375.3" r="3.0"/><circle cx="624.1" cy="371.2" r="3.0"/><circle cx="620.4" cy="370.2" r="3.0"/><circle cx="616.3" cy="370.9" r="3.0"/><circle cx="612.1" cy="371.3" r="3.0"/><circle cx="608.0" cy="370.9" r="3.0"/><circle cx="603.8" cy="370.9" r="3.0"/><circle cx="599.7" cy="370.6" r="3.0"/><circle cx="596.1" cy="372.7" r="3.0"/><circle cx="592.2" cy="373.3" r="3.0"/><circle cx="588.6" cy="371.2" r="3.0"/><circle cx="584.7" cy="369.9" r="3.0"/><circle cx="580.5" cy="370.3" r="3.0"/><circle cx="576.5" cy="370.3" r="3.0"/><circle cx="575.4" cy="374.3" r="3.0"/><circle cx="577.5" cy="376.1" r="3.0"/><circle cx="580.1" cy="379.2" r="3.0"/><circle cx="578.5" cy="382.7" r="3.0"/><circle cx="574.6" cy="383.3" r="3.0"/><circle cx="570.8" cy="381.8" r="3.0"/><circle cx="586.0" cy="424.1" r="3.0"/><circle cx="633.1" cy="373.3" r="3.0"/></g>
<rect x="65" y="4" width="149" height="1" fill="#e8e8e8"/>
<rect x="65" y="5" width="149" height="1" fill="#3a3a3a"/>
<rect x="65" y="6" width="149" height="1" fill="#c0c0c0"/>
<rect x="65" y="118" width="149" height="1" fill="#f0f0f0"/>
<rect x="65" y="119" width="149" height="1" fill="#646464"/>
<rect x="65" y="120" width="149" height="1" fill="#7d7d7d"/>
<rect x="61" y="7" width="1" height="111" fill="#ebebeb"/>
<rect x="62" y="7" width="1" height="111" fill="#696969"/>
<rect x="63" y="7" width="1" height="111" fill="#bebebe"/>
<rect x="64" y="7" width="1" height="111" fill="#f5f5f5"/>
<rect x="214" y="7" width="1" height="111" fill="#f5f5f5"/>
<rect x="215" y="7" width="1" height="111" fill="#8a8a8a"/>
<rect x="216" y="7" width="1" height="111" fill="#5a5a5a"/>
<rect x="61" y="4" width="1" height="1" fill="#ebebeb"/>
<rect x="62" y="4" width="1" height="1" fill="#e8e8e8"/>
<rect x="63" y="4" width="1" height="1" fill="#e8e8e8"/>
<rect x="64" y="4" width="1" height="1" fill="#e8e8e8"/>
<rect x="214" y="4" width="1" height="1" fill="#e8e8e8"/>
<rect x="215" y="4" width="1" height="1" fill="#e8e8e8"/>
<rect x="216" y="4" width="1" height="1" fill="#e8e8e8"/>
<rect x="61" y="5" width="1" height="1" fill="#ebebeb"/>
<rect x="62" y="5" width="1" height="1" fill="#3a3a3a"/>
<rect x="63" y="5" width="1" height="1" fill="#3a3a3a"/>
<rect x="64" y="5" width="1" height="1" fill="#3a3a3a"/>
<rect x="214" y="5" width="1" height="1" fill="#3a3a3a"/>
<rect x="215" y="5" width="1" height="1" fill="#3a3a3a"/>
<rect x="216" y="5" width="1" height="1" fill="#3a3a3a"/>
<rect x="61" y="6" width="1" height="1" fill="#ebebeb"/>
<rect x="62" y="6" width="1" height="1" fill="#696969"/>
<rect x="63" y="6" width="1" height="1" fill="#bebebe"/>
<rect x="64" y="6" width="1" height="1" fill="#c0c0c0"/>
<rect x="214" y="6" width="1" height="1" fill="#c0c0c0"/>
<rect x="215" y="6" width="1" height="1" fill="#8a8a8a"/>
<rect x="216" y="6" width="1" height="1" fill="#5a5a5a"/>
<rect x="61" y="118" width="1" height="1" fill="#ebebeb"/>
<rect x="62" y="118" width="1" height="1" fill="#696969"/>
<rect x="63" y="118" width="1" height="1" fill="#bebebe"/>
<rect x="64" y="118" width="1" height="1" fill="#f0f0f0"/>
<rect x="214" y="118" width="1" height="1" fill="#f0f0f0"/>
<rect x="215" y="118" width="1" height="1" fill="#8a8a8a"/>
<rect x="216" y="118" width="1" height="1" fill="#5a5a5a"/>
<rect x="61" y="119" width="1" height="1" fill="#ebebeb"/>
<rect x="62" y="119" width="1" height="1" fill="#646464"/>
<rect x="63" y="119" width="1" height="1" fill="#646464"/>
<rect x="64" y="119" width="1" height="1" fill="#646464"/>
<rect x="214" y="119" width="1" height="1" fill="#646464"/>
<rect x="215" y="119" width="1" height="1" fill="#646464"/>
<rect x="216" y="119" width="1" height="1" fill="#5a5a5a"/>
<rect x="61" y="120" width="1" height="1" fill="#ebebeb"/>
<rect x="62" y="120" width="1" height="1" fill="#7d7d7d"/>
<rect x="63" y="120" width="1" height="1" fill="#7d7d7d"/>
<rect x="64" y="120" width="1" height="1" fill="#7d7d7d"/>
<rect x="214" y="120" width="1" height="1" fill="#7d7d7d"/>
<rect x="215" y="120" width="1" height="1" fill="#7d7d7d"/>
<rect x="216" y="120" width="1" height="1" fill="#7d7d7d"/>
<line x1="80.3" y1="5.5" x2="80.3" y2="7.8" stroke="#3a3a3a" stroke-width="1.1"/>
<line x1="80.3" y1="119.5" x2="80.3" y2="117.2" stroke="#3a3a3a" stroke-width="1.1"/>
<line x1="139.6" y1="5.5" x2="139.6" y2="7.8" stroke="#3a3a3a" stroke-width="1.1"/>
<line x1="139.6" y1="119.5" x2="139.6" y2="117.2" stroke="#3a3a3a" stroke-width="1.1"/>
<line x1="198.9" y1="5.5" x2="198.9" y2="7.8" stroke="#3a3a3a" stroke-width="1.1"/>
<line x1="198.9" y1="119.5" x2="198.9" y2="117.2" stroke="#3a3a3a" stroke-width="1.1"/>
<line x1="62.5" y1="91.3" x2="64.8" y2="91.3" stroke="#3a3a3a" stroke-width="1.1"/>
<line x1="216.5" y1="91.3" x2="214.2" y2="91.3" stroke="#3a3a3a" stroke-width="1.1"/>
<line x1="62.5" y1="62.8" x2="64.8" y2="62.8" stroke="#3a3a3a" stroke-width="1.1"/>
<line x1="216.5" y1="62.8" x2="214.2" y2="62.8" stroke="#3a3a3a" stroke-width="1.1"/>
<line x1="62.5" y1="34.3" x2="64.8" y2="34.3" stroke="#3a3a3a" stroke-width="1.1"/>
<line x1="216.5" y1="34.3" x2="214.2" y2="34.3" stroke="#3a3a3a" stroke-width="1.1"/>
<text class="a" x="78.0" y="112.9" font-size="17.2" fill="#000" stroke="#000" stroke-width="0.28">-0.14</text>
<rect x="221" y="4" width="149" height="1" fill="#e8e8e8"/>
<rect x="221" y="5" width="149" height="1" fill="#3a3a3a"/>
<rect x="221" y="6" width="149" height="1" fill="#c0c0c0"/>
<rect x="221" y="118" width="149" height="1" fill="#f0f0f0"/>
<rect x="221" y="119" width="149" height="1" fill="#646464"/>
<rect x="221" y="120" width="149" height="1" fill="#7d7d7d"/>
<rect x="218" y="7" width="1" height="111" fill="#a5a5a5"/>
<rect x="219" y="7" width="1" height="111" fill="#464646"/>
<rect x="220" y="7" width="1" height="111" fill="#f0f0f0"/>
<rect x="370" y="7" width="1" height="111" fill="#dcdcdc"/>
<rect x="371" y="7" width="1" height="111" fill="#555555"/>
<rect x="372" y="7" width="1" height="111" fill="#cdcdcd"/>
<rect x="218" y="4" width="1" height="1" fill="#e8e8e8"/>
<rect x="219" y="4" width="1" height="1" fill="#e8e8e8"/>
<rect x="220" y="4" width="1" height="1" fill="#e8e8e8"/>
<rect x="370" y="4" width="1" height="1" fill="#e8e8e8"/>
<rect x="371" y="4" width="1" height="1" fill="#e8e8e8"/>
<rect x="372" y="4" width="1" height="1" fill="#e8e8e8"/>
<rect x="218" y="5" width="1" height="1" fill="#a5a5a5"/>
<rect x="219" y="5" width="1" height="1" fill="#3a3a3a"/>
<rect x="220" y="5" width="1" height="1" fill="#3a3a3a"/>
<rect x="370" y="5" width="1" height="1" fill="#3a3a3a"/>
<rect x="371" y="5" width="1" height="1" fill="#3a3a3a"/>
<rect x="372" y="5" width="1" height="1" fill="#cdcdcd"/>
<rect x="218" y="6" width="1" height="1" fill="#a5a5a5"/>
<rect x="219" y="6" width="1" height="1" fill="#464646"/>
<rect x="220" y="6" width="1" height="1" fill="#c0c0c0"/>
<rect x="370" y="6" width="1" height="1" fill="#c0c0c0"/>
<rect x="371" y="6" width="1" height="1" fill="#555555"/>
<rect x="372" y="6" width="1" height="1" fill="#cdcdcd"/>
<rect x="218" y="118" width="1" height="1" fill="#a5a5a5"/>
<rect x="219" y="118" width="1" height="1" fill="#464646"/>
<rect x="220" y="118" width="1" height="1" fill="#f0f0f0"/>
<rect x="370" y="118" width="1" height="1" fill="#dcdcdc"/>
<rect x="371" y="118" width="1" height="1" fill="#555555"/>
<rect x="372" y="118" width="1" height="1" fill="#cdcdcd"/>
<rect x="218" y="119" width="1" height="1" fill="#a5a5a5"/>
<rect x="219" y="119" width="1" height="1" fill="#464646"/>
<rect x="220" y="119" width="1" height="1" fill="#646464"/>
<rect x="370" y="119" width="1" height="1" fill="#646464"/>
<rect x="371" y="119" width="1" height="1" fill="#555555"/>
<rect x="372" y="119" width="1" height="1" fill="#cdcdcd"/>
<rect x="218" y="120" width="1" height="1" fill="#a5a5a5"/>
<rect x="219" y="120" width="1" height="1" fill="#7d7d7d"/>
<rect x="220" y="120" width="1" height="1" fill="#7d7d7d"/>
<rect x="370" y="120" width="1" height="1" fill="#7d7d7d"/>
<rect x="371" y="120" width="1" height="1" fill="#7d7d7d"/>
<rect x="372" y="120" width="1" height="1" fill="#cdcdcd"/>
<line x1="236.7" y1="5.5" x2="236.7" y2="7.8" stroke="#3a3a3a" stroke-width="1.1"/>
<line x1="236.7" y1="119.5" x2="236.7" y2="117.2" stroke="#3a3a3a" stroke-width="1.1"/>
<line x1="295.6" y1="5.5" x2="295.6" y2="7.8" stroke="#3a3a3a" stroke-width="1.1"/>
<line x1="295.6" y1="119.5" x2="295.6" y2="117.2" stroke="#3a3a3a" stroke-width="1.1"/>
<line x1="354.5" y1="5.5" x2="354.5" y2="7.8" stroke="#3a3a3a" stroke-width="1.1"/>
<line x1="354.5" y1="119.5" x2="354.5" y2="117.2" stroke="#3a3a3a" stroke-width="1.1"/>
<line x1="219.5" y1="91.3" x2="221.8" y2="91.3" stroke="#3a3a3a" stroke-width="1.1"/>
<line x1="371.5" y1="91.3" x2="369.2" y2="91.3" stroke="#3a3a3a" stroke-width="1.1"/>
<line x1="219.5" y1="62.8" x2="221.8" y2="62.8" stroke="#3a3a3a" stroke-width="1.1"/>
<line x1="371.5" y1="62.8" x2="369.2" y2="62.8" stroke="#3a3a3a" stroke-width="1.1"/>
<line x1="219.5" y1="34.3" x2="221.8" y2="34.3" stroke="#3a3a3a" stroke-width="1.1"/>
<line x1="371.5" y1="34.3" x2="369.2" y2="34.3" stroke="#3a3a3a" stroke-width="1.1"/>
<text class="a" x="235.0" y="112.9" font-size="17.2" fill="#000" stroke="#000" stroke-width="0.28">-0.062</text>
<rect x="377" y="4" width="149" height="1" fill="#e8e8e8"/>
<rect x="377" y="5" width="149" height="1" fill="#3a3a3a"/>
<rect x="377" y="6" width="149" height="1" fill="#c0c0c0"/>
<rect x="377" y="118" width="149" height="1" fill="#f0f0f0"/>
<rect x="377" y="119" width="149" height="1" fill="#646464"/>
<rect x="377" y="120" width="149" height="1" fill="#7d7d7d"/>
<rect x="373" y="7" width="1" height="111" fill="#f0f0f0"/>
<rect x="374" y="7" width="1" height="111" fill="#606060"/>
<rect x="375" y="7" width="1" height="111" fill="#b0b0b0"/>
<rect x="376" y="7" width="1" height="111" fill="#f0f0f0"/>
<rect x="526" y="7" width="1" height="111" fill="#e6e6e6"/>
<rect x="527" y="7" width="1" height="111" fill="#7a7a7a"/>
<rect x="528" y="7" width="1" height="111" fill="#707070"/>
<rect x="529" y="7" width="1" height="111" fill="#f5f5f5"/>
<rect x="373" y="4" width="1" height="1" fill="#f0f0f0"/>
<rect x="374" y="4" width="1" height="1" fill="#e8e8e8"/>
<rect x="375" y="4" width="1" height="1" fill="#e8e8e8"/>
<rect x="376" y="4" width="1" height="1" fill="#e8e8e8"/>
<rect x="526" y="4" width="1" height="1" fill="#e8e8e8"/>
<rect x="527" y="4" width="1" height="1" fill="#e8e8e8"/>
<rect x="528" y="4" width="1" height="1" fill="#e8e8e8"/>
<rect x="529" y="4" width="1" height="1" fill="#f5f5f5"/>
<rect x="373" y="5" width="1" height="1" fill="#f0f0f0"/>
<rect x="374" y="5" width="1" height="1" fill="#3a3a3a"/>
<rect x="375" y="5" width="1" height="1" fill="#3a3a3a"/>
<rect x="376" y="5" width="1" height="1" fill="#3a3a3a"/>
<rect x="526" y="5" width="1" height="1" fill="#3a3a3a"/>
<rect x="527" y="5" width="1" height="1" fill="#3a3a3a"/>
<rect x="528" y="5" width="1" height="1" fill="#3a3a3a"/>
<rect x="529" y="5" width="1" height="1" fill="#f5f5f5"/>
<rect x="373" y="6" width="1" height="1" fill="#f0f0f0"/>
<rect x="374" y="6" width="1" height="1" fill="#606060"/>
<rect x="375" y="6" width="1" height="1" fill="#b0b0b0"/>
<rect x="376" y="6" width="1" height="1" fill="#c0c0c0"/>
<rect x="526" y="6" width="1" height="1" fill="#c0c0c0"/>
<rect x="527" y="6" width="1" height="1" fill="#7a7a7a"/>
<rect x="528" y="6" width="1" height="1" fill="#707070"/>
<rect x="529" y="6" width="1" height="1" fill="#f5f5f5"/>
<rect x="373" y="118" width="1" height="1" fill="#f0f0f0"/>
<rect x="374" y="118" width="1" height="1" fill="#606060"/>
<rect x="375" y="118" width="1" height="1" fill="#b0b0b0"/>
<rect x="376" y="118" width="1" height="1" fill="#f0f0f0"/>
<rect x="526" y="118" width="1" height="1" fill="#e6e6e6"/>
<rect x="527" y="118" width="1" height="1" fill="#7a7a7a"/>
<rect x="528" y="118" width="1" height="1" fill="#707070"/>
<rect x="529" y="118" width="1" height="1" fill="#f5f5f5"/>
<rect x="373" y="119" width="1" height="1" fill="#f0f0f0"/>
<rect x="374" y="119" width="1" height="1" fill="#606060"/>
<rect x="375" y="119" width="1" height="1" fill="#646464"/>
<rect x="376" y="119" width="1" height="1" fill="#646464"/>
<rect x="526" y="119" width="1" height="1" fill="#646464"/>
<rect x="527" y="119" width="1" height="1" fill="#646464"/>
<rect x="528" y="119" width="1" height="1" fill="#646464"/>
<rect x="529" y="119" width="1" height="1" fill="#f5f5f5"/>
<rect x="373" y="120" width="1" height="1" fill="#f0f0f0"/>
<rect x="374" y="120" width="1" height="1" fill="#7d7d7d"/>
<rect x="375" y="120" width="1" height="1" fill="#7d7d7d"/>
<rect x="376" y="120" width="1" height="1" fill="#7d7d7d"/>
<rect x="526" y="120" width="1" height="1" fill="#7d7d7d"/>
<rect x="527" y="120" width="1" height="1" fill="#7d7d7d"/>
<rect x="528" y="120" width="1" height="1" fill="#7d7d7d"/>
<rect x="529" y="120" width="1" height="1" fill="#f5f5f5"/>
<line x1="398.7" y1="5.5" x2="398.7" y2="7.8" stroke="#3a3a3a" stroke-width="1.1"/>
<line x1="398.7" y1="119.5" x2="398.7" y2="117.2" stroke="#3a3a3a" stroke-width="1.1"/>
<line x1="436.1" y1="5.5" x2="436.1" y2="7.8" stroke="#3a3a3a" stroke-width="1.1"/>
<line x1="436.1" y1="119.5" x2="436.1" y2="117.2" stroke="#3a3a3a" stroke-width="1.1"/>
<line x1="473.5" y1="5.5" x2="473.5" y2="7.8" stroke="#3a3a3a" stroke-width="1.1"/>
<line x1="473.5" y1="119.5" x2="473.5" y2="117.2" stroke="#3a3a3a" stroke-width="1.1"/>
<line x1="510.9" y1="5.5" x2="510.9" y2="7.8" stroke="#3a3a3a" stroke-width="1.1"/>
<line x1="510.9" y1="119.5" x2="510.9" y2="117.2" stroke="#3a3a3a" stroke-width="1.1"/>
<line x1="374.5" y1="91.3" x2="376.8" y2="91.3" stroke="#3a3a3a" stroke-width="1.1"/>
<line x1="528.5" y1="91.3" x2="526.2" y2="91.3" stroke="#3a3a3a" stroke-width="1.1"/>
<line x1="374.5" y1="62.8" x2="376.8" y2="62.8" stroke="#3a3a3a" stroke-width="1.1"/>
<line x1="528.5" y1="62.8" x2="526.2" y2="62.8" stroke="#3a3a3a" stroke-width="1.1"/>
<line x1="374.5" y1="34.3" x2="376.8" y2="34.3" stroke="#3a3a3a" stroke-width="1.1"/>
<line x1="528.5" y1="34.3" x2="526.2" y2="34.3" stroke="#3a3a3a" stroke-width="1.1"/>
<text class="a" x="390.0" y="112.9" font-size="17.2" fill="#000" stroke="#000" stroke-width="0.28">-0.2</text>
<rect x="533" y="4" width="150" height="1" fill="#e8e8e8"/>
<rect x="533" y="5" width="150" height="1" fill="#3a3a3a"/>
<rect x="533" y="6" width="150" height="1" fill="#c0c0c0"/>
<rect x="533" y="118" width="150" height="1" fill="#f0f0f0"/>
<rect x="533" y="119" width="150" height="1" fill="#646464"/>
<rect x="533" y="120" width="150" height="1" fill="#7d7d7d"/>
<rect x="530" y="7" width="1" height="111" fill="#a5a5a5"/>
<rect x="531" y="7" width="1" height="111" fill="#4a4a4a"/>
<rect x="532" y="7" width="1" height="111" fill="#f0f0f0"/>
<rect x="683" y="7" width="1" height="111" fill="#f0f0f0"/>
<rect x="684" y="7" width="1" height="111" fill="#222222"/>
<rect x="530" y="4" width="1" height="1" fill="#e8e8e8"/>
<rect x="531" y="4" width="1" height="1" fill="#e8e8e8"/>
<rect x="532" y="4" width="1" height="1" fill="#e8e8e8"/>
<rect x="683" y="4" width="1" height="1" fill="#e8e8e8"/>
<rect x="684" y="4" width="1" height="1" fill="#e8e8e8"/>
<rect x="530" y="5" width="1" height="1" fill="#a5a5a5"/>
<rect x="531" y="5" width="1" height="1" fill="#3a3a3a"/>
<rect x="532" y="5" width="1" height="1" fill="#3a3a3a"/>
<rect x="683" y="5" width="1" height="1" fill="#3a3a3a"/>
<rect x="684" y="5" width="1" height="1" fill="#222222"/>
<rect x="530" y="6" width="1" height="1" fill="#a5a5a5"/>
<rect x="531" y="6" width="1" height="1" fill="#4a4a4a"/>
<rect x="532" y="6" width="1" height="1" fill="#c0c0c0"/>
<rect x="683" y="6" width="1" height="1" fill="#c0c0c0"/>
<rect x="684" y="6" width="1" height="1" fill="#222222"/>
<rect x="530" y="118" width="1" height="1" fill="#a5a5a5"/>
<rect x="531" y="118" width="1" height="1" fill="#4a4a4a"/>
<rect x="532" y="118" width="1" height="1" fill="#f0f0f0"/>
<rect x="683" y="118" width="1" height="1" fill="#f0f0f0"/>
<rect x="684" y="118" width="1" height="1" fill="#222222"/>
<rect x="530" y="119" width="1" height="1" fill="#a5a5a5"/>
<rect x="531" y="119" width="1" height="1" fill="#4a4a4a"/>
<rect x="532" y="119" width="1" height="1" fill="#646464"/>
<rect x="683" y="119" width="1" height="1" fill="#646464"/>
<rect x="684" y="119" width="1" height="1" fill="#222222"/>
<rect x="530" y="120" width="1" height="1" fill="#a5a5a5"/>
<rect x="531" y="120" width="1" height="1" fill="#7d7d7d"/>
<rect x="532" y="120" width="1" height="1" fill="#7d7d7d"/>
<rect x="683" y="120" width="1" height="1" fill="#7d7d7d"/>
<rect x="684" y="120" width="1" height="1" fill="#7d7d7d"/>
<line x1="549.1" y1="5.5" x2="549.1" y2="7.8" stroke="#3a3a3a" stroke-width="1.1"/>
<line x1="549.1" y1="119.5" x2="549.1" y2="117.2" stroke="#3a3a3a" stroke-width="1.1"/>
<line x1="607.9" y1="5.5" x2="607.9" y2="7.8" stroke="#3a3a3a" stroke-width="1.1"/>
<line x1="607.9" y1="119.5" x2="607.9" y2="117.2" stroke="#3a3a3a" stroke-width="1.1"/>
<line x1="666.7" y1="5.5" x2="666.7" y2="7.8" stroke="#3a3a3a" stroke-width="1.1"/>
<line x1="666.7" y1="119.5" x2="666.7" y2="117.2" stroke="#3a3a3a" stroke-width="1.1"/>
<line x1="531.5" y1="91.3" x2="533.8" y2="91.3" stroke="#3a3a3a" stroke-width="1.1"/>
<line x1="684.5" y1="91.3" x2="682.2" y2="91.3" stroke="#3a3a3a" stroke-width="1.1"/>
<line x1="531.5" y1="62.8" x2="533.8" y2="62.8" stroke="#3a3a3a" stroke-width="1.1"/>
<line x1="684.5" y1="62.8" x2="682.2" y2="62.8" stroke="#3a3a3a" stroke-width="1.1"/>
<line x1="531.5" y1="34.3" x2="533.8" y2="34.3" stroke="#3a3a3a" stroke-width="1.1"/>
<line x1="684.5" y1="34.3" x2="682.2" y2="34.3" stroke="#3a3a3a" stroke-width="1.1"/>
<text class="a" x="546.0" y="112.9" font-size="17.2" fill="#000" stroke="#000" stroke-width="0.28">-0.039</text>
<rect x="65" y="121" width="149" height="1" fill="#a0a0a0"/>
<rect x="65" y="122" width="149" height="1" fill="#505050"/>
<rect x="65" y="123" width="149" height="1" fill="#f0f0f0"/>
<rect x="65" y="236" width="149" height="1" fill="#f0f0f0"/>
<rect x="65" y="237" width="149" height="1" fill="#484848"/>
<rect x="65" y="238" width="149" height="1" fill="#d8d8d8"/>
<rect x="61" y="124" width="1" height="112" fill="#ebebeb"/>
<rect x="62" y="124" width="1" height="112" fill="#696969"/>
<rect x="63" y="124" width="1" height="112" fill="#bebebe"/>
<rect x="64" y="124" width="1" height="112" fill="#f5f5f5"/>
<rect x="214" y="124" width="1" height="112" fill="#f5f5f5"/>
<rect x="215" y="124" width="1" height="112" fill="#8a8a8a"/>
<rect x="216" y="124" width="1" height="112" fill="#5a5a5a"/>
<rect x="61" y="121" width="1" height="1" fill="#ebebeb"/>
<rect x="62" y="121" width="1" height="1" fill="#a0a0a0"/>
<rect x="63" y="121" width="1" height="1" fill="#a0a0a0"/>
<rect x="64" y="121" width="1" height="1" fill="#a0a0a0"/>
<rect x="214" y="121" width="1" height="1" fill="#a0a0a0"/>
<rect x="215" y="121" width="1" height="1" fill="#a0a0a0"/>
<rect x="216" y="121" width="1" height="1" fill="#a0a0a0"/>
<rect x="61" y="122" width="1" height="1" fill="#ebebeb"/>
<rect x="62" y="122" width="1" height="1" fill="#505050"/>
<rect x="63" y="122" width="1" height="1" fill="#505050"/>
<rect x="64" y="122" width="1" height="1" fill="#505050"/>
<rect x="214" y="122" width="1" height="1" fill="#505050"/>
<rect x="215" y="122" width="1" height="1" fill="#505050"/>
<rect x="216" y="122" width="1" height="1" fill="#505050"/>
<rect x="61" y="123" width="1" height="1" fill="#ebebeb"/>
<rect x="62" y="123" width="1" height="1" fill="#696969"/>
<rect x="63" y="123" width="1" height="1" fill="#bebebe"/>
<rect x="64" y="123" width="1" height="1" fill="#f0f0f0"/>
<rect x="214" y="123" width="1" height="1" fill="#f0f0f0"/>
<rect x="215" y="123" width="1" height="1" fill="#8a8a8a"/>
<rect x="216" y="123" width="1" height="1" fill="#5a5a5a"/>
<rect x="61" y="236" width="1" height="1" fill="#ebebeb"/>
<rect x="62" y="236" width="1" height="1" fill="#696969"/>
<rect x="63" y="236" width="1" height="1" fill="#bebebe"/>
<rect x="64" y="236" width="1" height="1" fill="#f0f0f0"/>
<rect x="214" y="236" width="1" height="1" fill="#f0f0f0"/>
<rect x="215" y="236" width="1" height="1" fill="#8a8a8a"/>
<rect x="216" y="236" width="1" height="1" fill="#5a5a5a"/>
<rect x="61" y="237" width="1" height="1" fill="#ebebeb"/>
<rect x="62" y="237" width="1" height="1" fill="#484848"/>
<rect x="63" y="237" width="1" height="1" fill="#484848"/>
<rect x="64" y="237" width="1" height="1" fill="#484848"/>
<rect x="214" y="237" width="1" height="1" fill="#484848"/>
<rect x="215" y="237" width="1" height="1" fill="#484848"/>
<rect x="216" y="237" width="1" height="1" fill="#484848"/>
<rect x="61" y="238" width="1" height="1" fill="#ebebeb"/>
<rect x="62" y="238" width="1" height="1" fill="#d8d8d8"/>
<rect x="63" y="238" width="1" height="1" fill="#d8d8d8"/>
<rect x="64" y="238" width="1" height="1" fill="#d8d8d8"/>
<rect x="214" y="238" width="1" height="1" fill="#d8d8d8"/>
<rect x="215" y="238" width="1" height="1" fill="#d8d8d8"/>
<rect x="216" y="238" width="1" height="1" fill="#d8d8d8"/>
<line x1="80.3" y1="122.5" x2="80.3" y2="124.8" stroke="#3a3a3a" stroke-width="1.1"/>
<line x1="80.3" y1="237.5" x2="80.3" y2="235.2" stroke="#3a3a3a" stroke-width="1.1"/>
<line x1="139.6" y1="122.5" x2="139.6" y2="124.8" stroke="#3a3a3a" stroke-width="1.1"/>
<line x1="139.6" y1="237.5" x2="139.6" y2="235.2" stroke="#3a3a3a" stroke-width="1.1"/>
<line x1="198.9" y1="122.5" x2="198.9" y2="124.8" stroke="#3a3a3a" stroke-width="1.1"/>
<line x1="198.9" y1="237.5" x2="198.9" y2="235.2" stroke="#3a3a3a" stroke-width="1.1"/>
<line x1="62.5" y1="222.6" x2="64.8" y2="222.6" stroke="#3a3a3a" stroke-width="1.1"/>
<line x1="216.5" y1="222.6" x2="214.2" y2="222.6" stroke="#3a3a3a" stroke-width="1.1"/>
<line x1="62.5" y1="185.2" x2="64.8" y2="185.2" stroke="#3a3a3a" stroke-width="1.1"/>
<line x1="216.5" y1="185.2" x2="214.2" y2="185.2" stroke="#3a3a3a" stroke-width="1.1"/>
<line x1="62.5" y1="147.8" x2="64.8" y2="147.8" stroke="#3a3a3a" stroke-width="1.1"/>
<line x1="216.5" y1="147.8" x2="214.2" y2="147.8" stroke="#3a3a3a" stroke-width="1.1"/>
<text class="a" x="78.0" y="230.9" font-size="17.2" fill="#000" stroke="#000" stroke-width="0.28">0.079</text>
<rect x="221" y="121" width="149" height="1" fill="#a0a0a0"/>
<rect x="221" y="122" width="149" height="1" fill="#505050"/>
<rect x="221" y="123" width="149" height="1" fill="#f0f0f0"/>
<rect x="221" y="236" width="149" height="1" fill="#f0f0f0"/>
<rect x="221" y="237" width="149" height="1" fill="#484848"/>
<rect x="221" y="238" width="149" height="1" fill="#d8d8d8"/>
<rect x="218" y="124" width="1" height="112" fill="#a5a5a5"/>
<rect x="219" y="124" width="1" height="112" fill="#464646"/>
<rect x="220" y="124" width="1" height="112" fill="#f0f0f0"/>
<rect x="370" y="124" width="1" height="112" fill="#dcdcdc"/>
<rect x="371" y="124" width="1" height="112" fill="#555555"/>
<rect x="372" y="124" width="1" height="112" fill="#cdcdcd"/>
<rect x="218" y="121" width="1" height="1" fill="#a5a5a5"/>
<rect x="219" y="121" width="1" height="1" fill="#a0a0a0"/>
<rect x="220" y="121" width="1" height="1" fill="#a0a0a0"/>
<rect x="370" y="121" width="1" height="1" fill="#a0a0a0"/>
<rect x="371" y="121" width="1" height="1" fill="#a0a0a0"/>
<rect x="372" y="121" width="1" height="1" fill="#cdcdcd"/>
<rect x="218" y="122" width="1" height="1" fill="#a5a5a5"/>
<rect x="219" y="122" width="1" height="1" fill="#464646"/>
<rect x="220" y="122" width="1" height="1" fill="#505050"/>
<rect x="370" y="122" width="1" height="1" fill="#505050"/>
<rect x="371" y="122" width="1" height="1" fill="#505050"/>
<rect x="372" y="122" width="1" height="1" fill="#cdcdcd"/>
<rect x="218" y="123" width="1" height="1" fill="#a5a5a5"/>
<rect x="219" y="123" width="1" height="1" fill="#464646"/>
<rect x="220" y="123" width="1" height="1" fill="#f0f0f0"/>
<rect x="370" y="123" width="1" height="1" fill="#dcdcdc"/>
<rect x="371" y="123" width="1" height="1" fill="#555555"/>
<rect x="372" y="123" width="1" height="1" fill="#cdcdcd"/>
<rect x="218" y="236" width="1" height="1" fill="#a5a5a5"/>
<rect x="219" y="236" width="1" height="1" fill="#464646"/>
<rect x="220" y="236" width="1" height="1" fill="#f0f0f0"/>
<rect x="370" y="236" width="1" height="1" fill="#dcdcdc"/>
<rect x="371" y="236" width="1" height="1" fill="#555555"/>
<rect x="372" y="236" width="1" height="1" fill="#cdcdcd"/>
<rect x="218" y="237" width="1" height="1" fill="#a5a5a5"/>
<rect x="219" y="237" width="1" height="1" fill="#464646"/>
<rect x="220" y="237" width="1" height="1" fill="#484848"/>
<rect x="370" y="237" width="1" height="1" fill="#484848"/>
<rect x="371" y="237" width="1" height="1" fill="#484848"/>
<rect x="372" y="237" width="1" height="1" fill="#cdcdcd"/>
<rect x="218" y="238" width="1" height="1" fill="#d8d8d8"/>
<rect x="219" y="238" width="1" height="1" fill="#d8d8d8"/>
<rect x="220" y="238" width="1" height="1" fill="#d8d8d8"/>
<rect x="370" y="238" width="1" height="1" fill="#d8d8d8"/>
<rect x="371" y="238" width="1" height="1" fill="#d8d8d8"/>
<rect x="372" y="238" width="1" height="1" fill="#d8d8d8"/>
<line x1="236.7" y1="122.5" x2="236.7" y2="124.8" stroke="#3a3a3a" stroke-width="1.1"/>
<line x1="236.7" y1="237.5" x2="236.7" y2="235.2" stroke="#3a3a3a" stroke-width="1.1"/>
<line x1="295.6" y1="122.5" x2="295.6" y2="124.8" stroke="#3a3a3a" stroke-width="1.1"/>
<line x1="295.6" y1="237.5" x2="295.6" y2="235.2" stroke="#3a3a3a" stroke-width="1.1"/>
<line x1="354.5" y1="122.5" x2="354.5" y2="124.8" stroke="#3a3a3a" stroke-width="1.1"/>
<line x1="354.5" y1="237.5" x2="354.5" y2="235.2" stroke="#3a3a3a" stroke-width="1.1"/>
<line x1="219.5" y1="222.6" x2="221.8" y2="222.6" stroke="#3a3a3a" stroke-width="1.1"/>
<line x1="371.5" y1="222.6" x2="369.2" y2="222.6" stroke="#3a3a3a" stroke-width="1.1"/>
<line x1="219.5" y1="185.2" x2="221.8" y2="185.2" stroke="#3a3a3a" stroke-width="1.1"/>
<line x1="371.5" y1="185.2" x2="369.2" y2="185.2" stroke="#3a3a3a" stroke-width="1.1"/>
<line x1="219.5" y1="147.8" x2="221.8" y2="147.8" stroke="#3a3a3a" stroke-width="1.1"/>
<line x1="371.5" y1="147.8" x2="369.2" y2="147.8" stroke="#3a3a3a" stroke-width="1.1"/>
<text class="a" x="235.0" y="230.9" font-size="17.2" fill="#000" stroke="#000" stroke-width="0.28">0.56</text>
<rect x="377" y="121" width="149" height="1" fill="#a0a0a0"/>
<rect x="377" y="122" width="149" height="1" fill="#505050"/>
<rect x="377" y="123" width="149" height="1" fill="#f0f0f0"/>
<rect x="377" y="236" width="149" height="1" fill="#f0f0f0"/>
<rect x="377" y="237" width="149" height="1" fill="#484848"/>
<rect x="377" y="238" width="149" height="1" fill="#d8d8d8"/>
<rect x="373" y="124" width="1" height="112" fill="#f0f0f0"/>
<rect x="374" y="124" width="1" height="112" fill="#606060"/>
<rect x="375" y="124" width="1" height="112" fill="#b0b0b0"/>
<rect x="376" y="124" width="1" height="112" fill="#f0f0f0"/>
<rect x="526" y="124" width="1" height="112" fill="#e6e6e6"/>
<rect x="527" y="124" width="1" height="112" fill="#7a7a7a"/>
<rect x="528" y="124" width="1" height="112" fill="#707070"/>
<rect x="529" y="124" width="1" height="112" fill="#f5f5f5"/>
<rect x="373" y="121" width="1" height="1" fill="#f0f0f0"/>
<rect x="374" y="121" width="1" height="1" fill="#a0a0a0"/>
<rect x="375" y="121" width="1" height="1" fill="#a0a0a0"/>
<rect x="376" y="121" width="1" height="1" fill="#a0a0a0"/>
<rect x="526" y="121" width="1" height="1" fill="#a0a0a0"/>
<rect x="527" y="121" width="1" height="1" fill="#a0a0a0"/>
<rect x="528" y="121" width="1" height="1" fill="#a0a0a0"/>
<rect x="529" y="121" width="1" height="1" fill="#f5f5f5"/>
<rect x="373" y="122" width="1" height="1" fill="#f0f0f0"/>
<rect x="374" y="122" width="1" height="1" fill="#505050"/>
<rect x="375" y="122" width="1" height="1" fill="#505050"/>
<rect x="376" y="122" width="1" height="1" fill="#505050"/>
<rect x="526" y="122" width="1" height="1" fill="#505050"/>
<rect x="527" y="122" width="1" height="1" fill="#505050"/>
<rect x="528" y="122" width="1" height="1" fill="#505050"/>
<rect x="529" y="122" width="1" height="1" fill="#f5f5f5"/>
<rect x="373" y="123" width="1" height="1" fill="#f0f0f0"/>
<rect x="374" y="123" width="1" height="1" fill="#606060"/>
<rect x="375" y="123" width="1" height="1" fill="#b0b0b0"/>
<rect x="376" y="123" width="1" height="1" fill="#f0f0f0"/>
<rect x="526" y="123" width="1" height="1" fill="#e6e6e6"/>
<rect x="527" y="123" width="1" height="1" fill="#7a7a7a"/>
<rect x="528" y="123" width="1" height="1" fill="#707070"/>
<rect x="529" y="123" width="1" height="1" fill="#f5f5f5"/>
<rect x="373" y="236" width="1" height="1" fill="#f0f0f0"/>
<rect x="374" y="236" width="1" height="1" fill="#606060"/>
<rect x="375" y="236" width="1" height="1" fill="#b0b0b0"/>
<rect x="376" y="236" width="1" height="1" fill="#f0f0f0"/>
<rect x="526" y="236" width="1" height="1" fill="#e6e6e6"/>
<rect x="527" y="236" width="1" height="1" fill="#7a7a7a"/>
<rect x="528" y="236" width="1" height="1" fill="#707070"/>
<rect x="529" y="236" width="1" height="1" fill="#f5f5f5"/>
<rect x="373" y="237" width="1" height="1" fill="#f0f0f0"/>
<rect x="374" y="237" width="1" height="1" fill="#484848"/>
<rect x="375" y="237" width="1" height="1" fill="#484848"/>
<rect x="376" y="237" width="1" height="1" fill="#484848"/>
<rect x="526" y="237" width="1" height="1" fill="#484848"/>
<rect x="527" y="237" width="1" height="1" fill="#484848"/>
<rect x="528" y="237" width="1" height="1" fill="#484848"/>
<rect x="529" y="237" width="1" height="1" fill="#f5f5f5"/>
<rect x="373" y="238" width="1" height="1" fill="#f0f0f0"/>
<rect x="374" y="238" width="1" height="1" fill="#d8d8d8"/>
<rect x="375" y="238" width="1" height="1" fill="#d8d8d8"/>
<rect x="376" y="238" width="1" height="1" fill="#d8d8d8"/>
<rect x="526" y="238" width="1" height="1" fill="#d8d8d8"/>
<rect x="527" y="238" width="1" height="1" fill="#d8d8d8"/>
<rect x="528" y="238" width="1" height="1" fill="#d8d8d8"/>
<rect x="529" y="238" width="1" height="1" fill="#f5f5f5"/>
<line x1="398.7" y1="122.5" x2="398.7" y2="124.8" stroke="#3a3a3a" stroke-width="1.1"/>
<line x1="398.7" y1="237.5" x2="398.7" y2="235.2" stroke="#3a3a3a" stroke-width="1.1"/>
<line x1="436.1" y1="122.5" x2="436.1" y2="124.8" stroke="#3a3a3a" stroke-width="1.1"/>
<line x1="436.1" y1="237.5" x2="436.1" y2="235.2" stroke="#3a3a3a" stroke-width="1.1"/>
<line x1="473.5" y1="122.5" x2="473.5" y2="124.8" stroke="#3a3a3a" stroke-width="1.1"/>
<line x1="473.5" y1="237.5" x2="473.5" y2="235.2" stroke="#3a3a3a" stroke-width="1.1"/>
<line x1="510.9" y1="122.5" x2="510.9" y2="124.8" stroke="#3a3a3a" stroke-width="1.1"/>
<line x1="510.9" y1="237.5" x2="510.9" y2="235.2" stroke="#3a3a3a" stroke-width="1.1"/>
<line x1="374.5" y1="222.6" x2="376.8" y2="222.6" stroke="#3a3a3a" stroke-width="1.1"/>
<line x1="528.5" y1="222.6" x2="526.2" y2="222.6" stroke="#3a3a3a" stroke-width="1.1"/>
<line x1="374.5" y1="185.2" x2="376.8" y2="185.2" stroke="#3a3a3a" stroke-width="1.1"/>
<line x1="528.5" y1="185.2" x2="526.2" y2="185.2" stroke="#3a3a3a" stroke-width="1.1"/>
<line x1="374.5" y1="147.8" x2="376.8" y2="147.8" stroke="#3a3a3a" stroke-width="1.1"/>
<line x1="528.5" y1="147.8" x2="526.2" y2="147.8" stroke="#3a3a3a" stroke-width="1.1"/>
<text class="a" x="390.0" y="230.9" font-size="17.2" fill="#000" stroke="#000" stroke-width="0.28">-0.037</text>
<rect x="533" y="121" width="150" height="1" fill="#a0a0a0"/>
<rect x="533" y="122" width="150" height="1" fill="#505050"/>
<rect x="533" y="123" width="150" height="1" fill="#f0f0f0"/>
<rect x="533" y="236" width="150" height="1" fill="#f0f0f0"/>
<rect x="533" y="237" width="150" height="1" fill="#484848"/>
<rect x="533" y="238" width="150" height="1" fill="#d8d8d8"/>
<rect x="530" y="124" width="1" height="112" fill="#a5a5a5"/>
<rect x="531" y="124" width="1" height="112" fill="#4a4a4a"/>
<rect x="532" y="124" width="1" height="112" fill="#f0f0f0"/>
<rect x="683" y="124" width="1" height="112" fill="#f0f0f0"/>
<rect x="684" y="124" width="1" height="112" fill="#222222"/>
<rect x="530" y="121" width="1" height="1" fill="#a5a5a5"/>
<rect x="531" y="121" width="1" height="1" fill="#a0a0a0"/>
<rect x="532" y="121" width="1" height="1" fill="#a0a0a0"/>
<rect x="683" y="121" width="1" height="1" fill="#a0a0a0"/>
<rect x="684" y="121" width="1" height="1" fill="#a0a0a0"/>
<rect x="530" y="122" width="1" height="1" fill="#a5a5a5"/>
<rect x="531" y="122" width="1" height="1" fill="#4a4a4a"/>
<rect x="532" y="122" width="1" height="1" fill="#505050"/>
<rect x="683" y="122" width="1" height="1" fill="#505050"/>
<rect x="684" y="122" width="1" height="1" fill="#222222"/>
<rect x="530" y="123" width="1" height="1" fill="#a5a5a5"/>
<rect x="531" y="123" width="1" height="1" fill="#4a4a4a"/>
<rect x="532" y="123" width="1" height="1" fill="#f0f0f0"/>
<rect x="683" y="123" width="1" height="1" fill="#f0f0f0"/>
<rect x="684" y="123" width="1" height="1" fill="#222222"/>
<rect x="530" y="236" width="1" height="1" fill="#a5a5a5"/>
<rect x="531" y="236" width="1" height="1" fill="#4a4a4a"/>
<rect x="532" y="236" width="1" height="1" fill="#f0f0f0"/>
<rect x="683" y="236" width="1" height="1" fill="#f0f0f0"/>
<rect x="684" y="236" width="1" height="1" fill="#222222"/>
<rect x="530" y="237" width="1" height="1" fill="#a5a5a5"/>
<rect x="531" y="237" width="1" height="1" fill="#484848"/>
<rect x="532" y="237" width="1" height="1" fill="#484848"/>
<rect x="683" y="237" width="1" height="1" fill="#484848"/>
<rect x="684" y="237" width="1" height="1" fill="#222222"/>
<rect x="530" y="238" width="1" height="1" fill="#d8d8d8"/>
<rect x="531" y="238" width="1" height="1" fill="#d8d8d8"/>
<rect x="532" y="238" width="1" height="1" fill="#d8d8d8"/>
<rect x="683" y="238" width="1" height="1" fill="#d8d8d8"/>
<rect x="684" y="238" width="1" height="1" fill="#d8d8d8"/>
<line x1="549.1" y1="122.5" x2="549.1" y2="124.8" stroke="#3a3a3a" stroke-width="1.1"/>
<line x1="549.1" y1="237.5" x2="549.1" y2="235.2" stroke="#3a3a3a" stroke-width="1.1"/>
<line x1="607.9" y1="122.5" x2="607.9" y2="124.8" stroke="#3a3a3a" stroke-width="1.1"/>
<line x1="607.9" y1="237.5" x2="607.9" y2="235.2" stroke="#3a3a3a" stroke-width="1.1"/>
<line x1="666.7" y1="122.5" x2="666.7" y2="124.8" stroke="#3a3a3a" stroke-width="1.1"/>
<line x1="666.7" y1="237.5" x2="666.7" y2="235.2" stroke="#3a3a3a" stroke-width="1.1"/>
<line x1="531.5" y1="222.6" x2="533.8" y2="222.6" stroke="#3a3a3a" stroke-width="1.1"/>
<line x1="684.5" y1="222.6" x2="682.2" y2="222.6" stroke="#3a3a3a" stroke-width="1.1"/>
<line x1="531.5" y1="185.2" x2="533.8" y2="185.2" stroke="#3a3a3a" stroke-width="1.1"/>
<line x1="684.5" y1="185.2" x2="682.2" y2="185.2" stroke="#3a3a3a" stroke-width="1.1"/>
<line x1="531.5" y1="147.8" x2="533.8" y2="147.8" stroke="#3a3a3a" stroke-width="1.1"/>
<line x1="684.5" y1="147.8" x2="682.2" y2="147.8" stroke="#3a3a3a" stroke-width="1.1"/>
<text class="a" x="546.0" y="230.9" font-size="17.2" fill="#000" stroke="#000" stroke-width="0.28">0.52</text>
<rect x="65" y="239" width="149" height="1" fill="#333333"/>
<rect x="65" y="240" width="149" height="1" fill="#e1e1e1"/>
<rect x="65" y="352" width="149" height="1" fill="#f0f0f0"/>
<rect x="65" y="353" width="149" height="1" fill="#8a8a8a"/>
<rect x="65" y="354" width="149" height="1" fill="#8c8c8c"/>
<rect x="61" y="241" width="1" height="111" fill="#ebebeb"/>
<rect x="62" y="241" width="1" height="111" fill="#696969"/>
<rect x="63" y="241" width="1" height="111" fill="#bebebe"/>
<rect x="64" y="241" width="1" height="111" fill="#f5f5f5"/>
<rect x="214" y="241" width="1" height="111" fill="#f5f5f5"/>
<rect x="215" y="241" width="1" height="111" fill="#8a8a8a"/>
<rect x="216" y="241" width="1" height="111" fill="#5a5a5a"/>
<rect x="61" y="239" width="1" height="1" fill="#ebebeb"/>
<rect x="62" y="239" width="1" height="1" fill="#333333"/>
<rect x="63" y="239" width="1" height="1" fill="#333333"/>
<rect x="64" y="239" width="1" height="1" fill="#333333"/>
<rect x="214" y="239" width="1" height="1" fill="#333333"/>
<rect x="215" y="239" width="1" height="1" fill="#333333"/>
<rect x="216" y="239" width="1" height="1" fill="#333333"/>
<rect x="61" y="240" width="1" height="1" fill="#ebebeb"/>
<rect x="62" y="240" width="1" height="1" fill="#696969"/>
<rect x="63" y="240" width="1" height="1" fill="#bebebe"/>
<rect x="64" y="240" width="1" height="1" fill="#e1e1e1"/>
<rect x="214" y="240" width="1" height="1" fill="#e1e1e1"/>
<rect x="215" y="240" width="1" height="1" fill="#8a8a8a"/>
<rect x="216" y="240" width="1" height="1" fill="#5a5a5a"/>
<rect x="61" y="352" width="1" height="1" fill="#ebebeb"/>
<rect x="62" y="352" width="1" height="1" fill="#696969"/>
<rect x="63" y="352" width="1" height="1" fill="#bebebe"/>
<rect x="64" y="352" width="1" height="1" fill="#f0f0f0"/>
<rect x="214" y="352" width="1" height="1" fill="#f0f0f0"/>
<rect x="215" y="352" width="1" height="1" fill="#8a8a8a"/>
<rect x="216" y="352" width="1" height="1" fill="#5a5a5a"/>
<rect x="61" y="353" width="1" height="1" fill="#ebebeb"/>
<rect x="62" y="353" width="1" height="1" fill="#696969"/>
<rect x="63" y="353" width="1" height="1" fill="#8a8a8a"/>
<rect x="64" y="353" width="1" height="1" fill="#8a8a8a"/>
<rect x="214" y="353" width="1" height="1" fill="#8a8a8a"/>
<rect x="215" y="353" width="1" height="1" fill="#8a8a8a"/>
<rect x="216" y="353" width="1" height="1" fill="#5a5a5a"/>
<rect x="61" y="354" width="1" height="1" fill="#ebebeb"/>
<rect x="62" y="354" width="1" height="1" fill="#8c8c8c"/>
<rect x="63" y="354" width="1" height="1" fill="#8c8c8c"/>
<rect x="64" y="354" width="1" height="1" fill="#8c8c8c"/>
<rect x="214" y="354" width="1" height="1" fill="#8c8c8c"/>
<rect x="215" y="354" width="1" height="1" fill="#8c8c8c"/>
<rect x="216" y="354" width="1" height="1" fill="#8c8c8c"/>
<line x1="80.3" y1="239.5" x2="80.3" y2="241.8" stroke="#3a3a3a" stroke-width="1.1"/>
<line x1="80.3" y1="353.5" x2="80.3" y2="351.2" stroke="#3a3a3a" stroke-width="1.1"/>
<line x1="139.6" y1="239.5" x2="139.6" y2="241.8" stroke="#3a3a3a" stroke-width="1.1"/>
<line x1="139.6" y1="353.5" x2="139.6" y2="351.2" stroke="#3a3a3a" stroke-width="1.1"/>
<line x1="198.9" y1="239.5" x2="198.9" y2="241.8" stroke="#3a3a3a" stroke-width="1.1"/>
<line x1="198.9" y1="353.5" x2="198.9" y2="351.2" stroke="#3a3a3a" stroke-width="1.1"/>
<line x1="62.5" y1="327.6" x2="64.8" y2="327.6" stroke="#3a3a3a" stroke-width="1.1"/>
<line x1="216.5" y1="327.6" x2="214.2" y2="327.6" stroke="#3a3a3a" stroke-width="1.1"/>
<line x1="62.5" y1="294.1" x2="64.8" y2="294.1" stroke="#3a3a3a" stroke-width="1.1"/>
<line x1="216.5" y1="294.1" x2="214.2" y2="294.1" stroke="#3a3a3a" stroke-width="1.1"/>
<line x1="62.5" y1="260.6" x2="64.8" y2="260.6" stroke="#3a3a3a" stroke-width="1.1"/>
<line x1="216.5" y1="260.6" x2="214.2" y2="260.6" stroke="#3a3a3a" stroke-width="1.1"/>
<text class="a" x="78.0" y="346.9" font-size="17.2" fill="#000" stroke="#000" stroke-width="0.28">-0.1</text>
<rect x="221" y="239" width="149" height="1" fill="#333333"/>
<rect x="221" y="240" width="149" height="1" fill="#e1e1e1"/>
<rect x="221" y="352" width="149" height="1" fill="#f0f0f0"/>
<rect x="221" y="353" width="149" height="1" fill="#8a8a8a"/>
<rect x="221" y="354" width="149" height="1" fill="#8c8c8c"/>
<rect x="218" y="241" width="1" height="111" fill="#a5a5a5"/>
<rect x="219" y="241" width="1" height="111" fill="#464646"/>
<rect x="220" y="241" width="1" height="111" fill="#f0f0f0"/>
<rect x="370" y="241" width="1" height="111" fill="#dcdcdc"/>
<rect x="371" y="241" width="1" height="111" fill="#555555"/>
<rect x="372" y="241" width="1" height="111" fill="#cdcdcd"/>
<rect x="218" y="239" width="1" height="1" fill="#a5a5a5"/>
<rect x="219" y="239" width="1" height="1" fill="#333333"/>
<rect x="220" y="239" width="1" height="1" fill="#333333"/>
<rect x="370" y="239" width="1" height="1" fill="#333333"/>
<rect x="371" y="239" width="1" height="1" fill="#333333"/>
<rect x="372" y="239" width="1" height="1" fill="#cdcdcd"/>
<rect x="218" y="240" width="1" height="1" fill="#a5a5a5"/>
<rect x="219" y="240" width="1" height="1" fill="#464646"/>
<rect x="220" y="240" width="1" height="1" fill="#e1e1e1"/>
<rect x="370" y="240" width="1" height="1" fill="#dcdcdc"/>
<rect x="371" y="240" width="1" height="1" fill="#555555"/>
<rect x="372" y="240" width="1" height="1" fill="#cdcdcd"/>
<rect x="218" y="352" width="1" height="1" fill="#a5a5a5"/>
<rect x="219" y="352" width="1" height="1" fill="#464646"/>
<rect x="220" y="352" width="1" height="1" fill="#f0f0f0"/>
<rect x="370" y="352" width="1" height="1" fill="#dcdcdc"/>
<rect x="371" y="352" width="1" height="1" fill="#555555"/>
<rect x="372" y="352" width="1" height="1" fill="#cdcdcd"/>
<rect x="218" y="353" width="1" height="1" fill="#a5a5a5"/>
<rect x="219" y="353" width="1" height="1" fill="#464646"/>
<rect x="220" y="353" width="1" height="1" fill="#8a8a8a"/>
<rect x="370" y="353" width="1" height="1" fill="#8a8a8a"/>
<rect x="371" y="353" width="1" height="1" fill="#555555"/>
<rect x="372" y="353" width="1" height="1" fill="#cdcdcd"/>
<rect x="218" y="354" width="1" height="1" fill="#a5a5a5"/>
<rect x="219" y="354" width="1" height="1" fill="#8c8c8c"/>
<rect x="220" y="354" width="1" height="1" fill="#8c8c8c"/>
<rect x="370" y="354" width="1" height="1" fill="#8c8c8c"/>
<rect x="371" y="354" width="1" height="1" fill="#8c8c8c"/>
<rect x="372" y="354" width="1" height="1" fill="#cdcdcd"/>
<line x1="236.7" y1="239.5" x2="236.7" y2="241.8" stroke="#3a3a3a" stroke-width="1.1"/>
<line x1="236.7" y1="353.5" x2="236.7" y2="351.2" stroke="#3a3a3a" stroke-width="1.1"/>
<line x1="295.6" y1="239.5" x2="295.6" y2="241.8" stroke="#3a3a3a" stroke-width="1.1"/>
<line x1="295.6" y1="353.5" x2="295.6" y2="351.2" stroke="#3a3a3a" stroke-width="1.1"/>
<line x1="354.5" y1="239.5" x2="354.5" y2="241.8" stroke="#3a3a3a" stroke-width="1.1"/>
<line x1="354.5" y1="353.5" x2="354.5" y2="351.2" stroke="#3a3a3a" stroke-width="1.1"/>
<line x1="219.5" y1="327.6" x2="221.8" y2="327.6" stroke="#3a3a3a" stroke-width="1.1"/>
<line x1="371.5" y1="327.6" x2="369.2" y2="327.6" stroke="#3a3a3a" stroke-width="1.1"/>
<line x1="219.5" y1="294.1" x2="221.8" y2="294.1" stroke="#3a3a3a" stroke-width="1.1"/>
<line x1="371.5" y1="294.1" x2="369.2" y2="294.1" stroke="#3a3a3a" stroke-width="1.1"/>
<line x1="219.5" y1="260.6" x2="221.8" y2="260.6" stroke="#3a3a3a" stroke-width="1.1"/>
<line x1="371.5" y1="260.6" x2="369.2" y2="260.6" stroke="#3a3a3a" stroke-width="1.1"/>
<text class="a" x="235.0" y="346.9" font-size="17.2" fill="#000" stroke="#000" stroke-width="0.28">-0.12</text>
<rect x="377" y="239" width="149" height="1" fill="#333333"/>
<rect x="377" y="240" width="149" height="1" fill="#e1e1e1"/>
<rect x="377" y="352" width="149" height="1" fill="#f0f0f0"/>
<rect x="377" y="353" width="149" height="1" fill="#8a8a8a"/>
<rect x="377" y="354" width="149" height="1" fill="#8c8c8c"/>
<rect x="373" y="241" width="1" height="111" fill="#f0f0f0"/>
<rect x="374" y="241" width="1" height="111" fill="#606060"/>
<rect x="375" y="241" width="1" height="111" fill="#b0b0b0"/>
<rect x="376" y="241" width="1" height="111" fill="#f0f0f0"/>
<rect x="526" y="241" width="1" height="111" fill="#e6e6e6"/>
<rect x="527" y="241" width="1" height="111" fill="#7a7a7a"/>
<rect x="528" y="241" width="1" height="111" fill="#707070"/>
<rect x="529" y="241" width="1" height="111" fill="#f5f5f5"/>
<rect x="373" y="239" width="1" height="1" fill="#f0f0f0"/>
<rect x="374" y="239" width="1" height="1" fill="#333333"/>
<rect x="375" y="239" width="1" height="1" fill="#333333"/>
<rect x="376" y="239" width="1" height="1" fill="#333333"/>
<rect x="526" y="239" width="1" height="1" fill="#333333"/>
<rect x="527" y="239" width="1" height="1" fill="#333333"/>
<rect x="528" y="239" width="1" height="1" fill="#333333"/>
<rect x="529" y="239" width="1" height="1" fill="#f5f5f5"/>
<rect x="373" y="240" width="1" height="1" fill="#f0f0f0"/>
<rect x="374" y="240" width="1" height="1" fill="#606060"/>
<rect x="375" y="240" width="1" height="1" fill="#b0b0b0"/>
<rect x="376" y="240" width="1" height="1" fill="#e1e1e1"/>
<rect x="526" y="240" width="1" height="1" fill="#e1e1e1"/>
<rect x="527" y="240" width="1" height="1" fill="#7a7a7a"/>
<rect x="528" y="240" width="1" height="1" fill="#707070"/>
<rect x="529" y="240" width="1" height="1" fill="#f5f5f5"/>
<rect x="373" y="352" width="1" height="1" fill="#f0f0f0"/>
<rect x="374" y="352" width="1" height="1" fill="#606060"/>
<rect x="375" y="352" width="1" height="1" fill="#b0b0b0"/>
<rect x="376" y="352" width="1" height="1" fill="#f0f0f0"/>
<rect x="526" y="352" width="1" height="1" fill="#e6e6e6"/>
<rect x="527" y="352" width="1" height="1" fill="#7a7a7a"/>
<rect x="528" y="352" width="1" height="1" fill="#707070"/>
<rect x="529" y="352" width="1" height="1" fill="#f5f5f5"/>
<rect x="373" y="353" width="1" height="1" fill="#f0f0f0"/>
<rect x="374" y="353" width="1" height="1" fill="#606060"/>
<rect x="375" y="353" width="1" height="1" fill="#8a8a8a"/>
<rect x="376" y="353" width="1" height="1" fill="#8a8a8a"/>
<rect x="526" y="353" width="1" height="1" fill="#8a8a8a"/>
<rect x="527" y="353" width="1" height="1" fill="#7a7a7a"/>
<rect x="528" y="353" width="1" height="1" fill="#707070"/>
<rect x="529" y="353" width="1" height="1" fill="#f5f5f5"/>
<rect x="373" y="354" width="1" height="1" fill="#f0f0f0"/>
<rect x="374" y="354" width="1" height="1" fill="#8c8c8c"/>
<rect x="375" y="354" width="1" height="1" fill="#8c8c8c"/>
<rect x="376" y="354" width="1" height="1" fill="#8c8c8c"/>
<rect x="526" y="354" width="1" height="1" fill="#8c8c8c"/>
<rect x="527" y="354" width="1" height="1" fill="#8c8c8c"/>
<rect x="528" y="354" width="1" height="1" fill="#8c8c8c"/>
<rect x="529" y="354" width="1" height="1" fill="#f5f5f5"/>
<line x1="398.7" y1="239.5" x2="398.7" y2="241.8" stroke="#3a3a3a" stroke-width="1.1"/>
<line x1="398.7" y1="353.5" x2="398.7" y2="351.2" stroke="#3a3a3a" stroke-width="1.1"/>
<line x1="436.1" y1="239.5" x2="436.1" y2="241.8" stroke="#3a3a3a" stroke-width="1.1"/>
<line x1="436.1" y1="353.5" x2="436.1" y2="351.2" stroke="#3a3a3a" stroke-width="1.1"/>
<line x1="473.5" y1="239.5" x2="473.5" y2="241.8" stroke="#3a3a3a" stroke-width="1.1"/>
<line x1="473.5" y1="353.5" x2="473.5" y2="351.2" stroke="#3a3a3a" stroke-width="1.1"/>
<line x1="510.9" y1="239.5" x2="510.9" y2="241.8" stroke="#3a3a3a" stroke-width="1.1"/>
<line x1="510.9" y1="353.5" x2="510.9" y2="351.2" stroke="#3a3a3a" stroke-width="1.1"/>
<line x1="374.5" y1="327.6" x2="376.8" y2="327.6" stroke="#3a3a3a" stroke-width="1.1"/>
<line x1="528.5" y1="327.6" x2="526.2" y2="327.6" stroke="#3a3a3a" stroke-width="1.1"/>
<line x1="374.5" y1="294.1" x2="376.8" y2="294.1" stroke="#3a3a3a" stroke-width="1.1"/>
<line x1="528.5" y1="294.1" x2="526.2" y2="294.1" stroke="#3a3a3a" stroke-width="1.1"/>
<line x1="374.5" y1="260.6" x2="376.8" y2="260.6" stroke="#3a3a3a" stroke-width="1.1"/>
<line x1="528.5" y1="260.6" x2="526.2" y2="260.6" stroke="#3a3a3a" stroke-width="1.1"/>
<text class="a" x="390.0" y="346.9" font-size="17.2" fill="#000" stroke="#000" stroke-width="0.28">-0.17</text>
<rect x="533" y="239" width="150" height="1" fill="#333333"/>
<rect x="533" y="240" width="150" height="1" fill="#e1e1e1"/>
<rect x="533" y="352" width="150" height="1" fill="#f0f0f0"/>
<rect x="533" y="353" width="150" height="1" fill="#8a8a8a"/>
<rect x="533" y="354" width="150" height="1" fill="#8c8c8c"/>
<rect x="530" y="241" width="1" height="111" fill="#a5a5a5"/>
<rect x="531" y="241" width="1" height="111" fill="#4a4a4a"/>
<rect x="532" y="241" width="1" height="111" fill="#f0f0f0"/>
<rect x="683" y="241" width="1" height="111" fill="#f0f0f0"/>
<rect x="684" y="241" width="1" height="111" fill="#222222"/>
<rect x="530" y="239" width="1" height="1" fill="#a5a5a5"/>
<rect x="531" y="239" width="1" height="1" fill="#333333"/>
<rect x="532" y="239" width="1" height="1" fill="#333333"/>
<rect x="683" y="239" width="1" height="1" fill="#333333"/>
<rect x="684" y="239" width="1" height="1" fill="#222222"/>
<rect x="530" y="240" width="1" height="1" fill="#a5a5a5"/>
<rect x="531" y="240" width="1" height="1" fill="#4a4a4a"/>
<rect x="532" y="240" width="1" height="1" fill="#e1e1e1"/>
<rect x="683" y="240" width="1" height="1" fill="#e1e1e1"/>
<rect x="684" y="240" width="1" height="1" fill="#222222"/>
<rect x="530" y="352" width="1" height="1" fill="#a5a5a5"/>
<rect x="531" y="352" width="1" height="1" fill="#4a4a4a"/>
<rect x="532" y="352" width="1" height="1" fill="#f0f0f0"/>
<rect x="683" y="352" width="1" height="1" fill="#f0f0f0"/>
<rect x="684" y="352" width="1" height="1" fill="#222222"/>
<rect x="530" y="353" width="1" height="1" fill="#a5a5a5"/>
<rect x="531" y="353" width="1" height="1" fill="#4a4a4a"/>
<rect x="532" y="353" width="1" height="1" fill="#8a8a8a"/>
<rect x="683" y="353" width="1" height="1" fill="#8a8a8a"/>
<rect x="684" y="353" width="1" height="1" fill="#222222"/>
<rect x="530" y="354" width="1" height="1" fill="#a5a5a5"/>
<rect x="531" y="354" width="1" height="1" fill="#8c8c8c"/>
<rect x="532" y="354" width="1" height="1" fill="#8c8c8c"/>
<rect x="683" y="354" width="1" height="1" fill="#8c8c8c"/>
<rect x="684" y="354" width="1" height="1" fill="#8c8c8c"/>
<line x1="549.1" y1="239.5" x2="549.1" y2="241.8" stroke="#3a3a3a" stroke-width="1.1"/>
<line x1="549.1" y1="353.5" x2="549.1" y2="351.2" stroke="#3a3a3a" stroke-width="1.1"/>
<line x1="607.9" y1="239.5" x2="607.9" y2="241.8" stroke="#3a3a3a" stroke-width="1.1"/>
<line x1="607.9" y1="353.5" x2="607.9" y2="351.2" stroke="#3a3a3a" stroke-width="1.1"/>
<line x1="666.7" y1="239.5" x2="666.7" y2="241.8" stroke="#3a3a3a" stroke-width="1.1"/>
<line x1="666.7" y1="353.5" x2="666.7" y2="351.2" stroke="#3a3a3a" stroke-width="1.1"/>
<line x1="531.5" y1="327.6" x2="533.8" y2="327.6" stroke="#3a3a3a" stroke-width="1.1"/>
<line x1="684.5" y1="327.6" x2="682.2" y2="327.6" stroke="#3a3a3a" stroke-width="1.1"/>
<line x1="531.5" y1="294.1" x2="533.8" y2="294.1" stroke="#3a3a3a" stroke-width="1.1"/>
<line x1="684.5" y1="294.1" x2="682.2" y2="294.1" stroke="#3a3a3a" stroke-width="1.1"/>
<line x1="531.5" y1="260.6" x2="533.8" y2="260.6" stroke="#3a3a3a" stroke-width="1.1"/>
<line x1="684.5" y1="260.6" x2="682.2" y2="260.6" stroke="#3a3a3a" stroke-width="1.1"/>
<text class="a" x="546.0" y="346.9" font-size="17.2" fill="#000" stroke="#000" stroke-width="0.28">-0.09</text>
<rect x="65" y="355" width="149" height="1" fill="#7a7a7a"/>
<rect x="65" y="356" width="149" height="1" fill="#5a5a5a"/>
<rect x="65" y="357" width="149" height="1" fill="#f0f0f0"/>
<rect x="65" y="470" width="149" height="1" fill="#e1e1e1"/>
<rect x="65" y="471" width="149" height="1" fill="#2a2a2a"/>
<rect x="65" y="472" width="149" height="1" fill="#cdcdcd"/>
<rect x="61" y="358" width="1" height="112" fill="#ebebeb"/>
<rect x="62" y="358" width="1" height="112" fill="#696969"/>
<rect x="63" y="358" width="1" height="112" fill="#bebebe"/>
<rect x="64" y="358" width="1" height="112" fill="#f5f5f5"/>
<rect x="214" y="358" width="1" height="112" fill="#f5f5f5"/>
<rect x="215" y="358" width="1" height="112" fill="#8a8a8a"/>
<rect x="216" y="358" width="1" height="112" fill="#5a5a5a"/>
<rect x="61" y="355" width="1" height="1" fill="#ebebeb"/>
<rect x="62" y="355" width="1" height="1" fill="#7a7a7a"/>
<rect x="63" y="355" width="1" height="1" fill="#7a7a7a"/>
<rect x="64" y="355" width="1" height="1" fill="#7a7a7a"/>
<rect x="214" y="355" width="1" height="1" fill="#7a7a7a"/>
<rect x="215" y="355" width="1" height="1" fill="#7a7a7a"/>
<rect x="216" y="355" width="1" height="1" fill="#7a7a7a"/>
<rect x="61" y="356" width="1" height="1" fill="#ebebeb"/>
<rect x="62" y="356" width="1" height="1" fill="#5a5a5a"/>
<rect x="63" y="356" width="1" height="1" fill="#5a5a5a"/>
<rect x="64" y="356" width="1" height="1" fill="#5a5a5a"/>
<rect x="214" y="356" width="1" height="1" fill="#5a5a5a"/>
<rect x="215" y="356" width="1" height="1" fill="#5a5a5a"/>
<rect x="216" y="356" width="1" height="1" fill="#5a5a5a"/>
<rect x="61" y="357" width="1" height="1" fill="#ebebeb"/>
<rect x="62" y="357" width="1" height="1" fill="#696969"/>
<rect x="63" y="357" width="1" height="1" fill="#bebebe"/>
<rect x="64" y="357" width="1" height="1" fill="#f0f0f0"/>
<rect x="214" y="357" width="1" height="1" fill="#f0f0f0"/>
<rect x="215" y="357" width="1" height="1" fill="#8a8a8a"/>
<rect x="216" y="357" width="1" height="1" fill="#5a5a5a"/>
<rect x="61" y="470" width="1" height="1" fill="#ebebeb"/>
<rect x="62" y="470" width="1" height="1" fill="#696969"/>
<rect x="63" y="470" width="1" height="1" fill="#bebebe"/>
<rect x="64" y="470" width="1" height="1" fill="#e1e1e1"/>
<rect x="214" y="470" width="1" height="1" fill="#e1e1e1"/>
<rect x="215" y="470" width="1" height="1" fill="#8a8a8a"/>
<rect x="216" y="470" width="1" height="1" fill="#5a5a5a"/>
<rect x="61" y="471" width="1" height="1" fill="#ebebeb"/>
<rect x="62" y="471" width="1" height="1" fill="#2a2a2a"/>
<rect x="63" y="471" width="1" height="1" fill="#2a2a2a"/>
<rect x="64" y="471" width="1" height="1" fill="#2a2a2a"/>
<rect x="214" y="471" width="1" height="1" fill="#2a2a2a"/>
<rect x="215" y="471" width="1" height="1" fill="#2a2a2a"/>
<rect x="216" y="471" width="1" height="1" fill="#2a2a2a"/>
<rect x="61" y="472" width="1" height="1" fill="#ebebeb"/>
<rect x="62" y="472" width="1" height="1" fill="#cdcdcd"/>
<rect x="63" y="472" width="1" height="1" fill="#cdcdcd"/>
<rect x="64" y="472" width="1" height="1" fill="#cdcdcd"/>
<rect x="214" y="472" width="1" height="1" fill="#cdcdcd"/>
<rect x="215" y="472" width="1" height="1" fill="#cdcdcd"/>
<rect x="216" y="472" width="1" height="1" fill="#cdcdcd"/>
<line x1="80.3" y1="356.5" x2="80.3" y2="358.8" stroke="#3a3a3a" stroke-width="1.1"/>
<line x1="80.3" y1="471.5" x2="80.3" y2="469.2" stroke="#3a3a3a" stroke-width="1.1"/>
<line x1="139.6" y1="356.5" x2="139.6" y2="358.8" stroke="#3a3a3a" stroke-width="1.1"/>
<line x1="139.6" y1="471.5" x2="139.6" y2="469.2" stroke="#3a3a3a" stroke-width="1.1"/>
<line x1="198.9" y1="356.5" x2="198.9" y2="358.8" stroke="#3a3a3a" stroke-width="1.1"/>
<line x1="198.9" y1="471.5" x2="198.9" y2="469.2" stroke="#3a3a3a" stroke-width="1.1"/>
<line x1="62.5" y1="456.3" x2="64.8" y2="456.3" stroke="#3a3a3a" stroke-width="1.1"/>
<line x1="216.5" y1="456.3" x2="214.2" y2="456.3" stroke="#3a3a3a" stroke-width="1.1"/>
<line x1="62.5" y1="427.6" x2="64.8" y2="427.6" stroke="#3a3a3a" stroke-width="1.1"/>
<line x1="216.5" y1="427.6" x2="214.2" y2="427.6" stroke="#3a3a3a" stroke-width="1.1"/>
<line x1="62.5" y1="398.9" x2="64.8" y2="398.9" stroke="#3a3a3a" stroke-width="1.1"/>
<line x1="216.5" y1="398.9" x2="214.2" y2="398.9" stroke="#3a3a3a" stroke-width="1.1"/>
<line x1="62.5" y1="370.2" x2="64.8" y2="370.2" stroke="#3a3a3a" stroke-width="1.1"/>
<line x1="216.5" y1="370.2" x2="214.2" y2="370.2" stroke="#3a3a3a" stroke-width="1.1"/>
<text class="a" x="78.0" y="464.4" font-size="17.2" fill="#000" stroke="#000" stroke-width="0.28">-0.2</text>
<rect x="221" y="355" width="149" height="1" fill="#7a7a7a"/>
<rect x="221" y="356" width="149" height="1" fill="#5a5a5a"/>
<rect x="221" y="357" width="149" height="1" fill="#f0f0f0"/>
<rect x="221" y="470" width="149" height="1" fill="#e1e1e1"/>
<rect x="221" y="471" width="149" height="1" fill="#2a2a2a"/>
<rect x="221" y="472" width="149" height="1" fill="#cdcdcd"/>
<rect x="218" y="358" width="1" height="112" fill="#a5a5a5"/>
<rect x="219" y="358" width="1" height="112" fill="#464646"/>
<rect x="220" y="358" width="1" height="112" fill="#f0f0f0"/>
<rect x="370" y="358" width="1" height="112" fill="#dcdcdc"/>
<rect x="371" y="358" width="1" height="112" fill="#555555"/>
<rect x="372" y="358" width="1" height="112" fill="#cdcdcd"/>
<rect x="218" y="355" width="1" height="1" fill="#a5a5a5"/>
<rect x="219" y="355" width="1" height="1" fill="#7a7a7a"/>
<rect x="220" y="355" width="1" height="1" fill="#7a7a7a"/>
<rect x="370" y="355" width="1" height="1" fill="#7a7a7a"/>
<rect x="371" y="355" width="1" height="1" fill="#7a7a7a"/>
<rect x="372" y="355" width="1" height="1" fill="#cdcdcd"/>
<rect x="218" y="356" width="1" height="1" fill="#a5a5a5"/>
<rect x="219" y="356" width="1" height="1" fill="#464646"/>
<rect x="220" y="356" width="1" height="1" fill="#5a5a5a"/>
<rect x="370" y="356" width="1" height="1" fill="#5a5a5a"/>
<rect x="371" y="356" width="1" height="1" fill="#555555"/>
<rect x="372" y="356" width="1" height="1" fill="#cdcdcd"/>
<rect x="218" y="357" width="1" height="1" fill="#a5a5a5"/>
<rect x="219" y="357" width="1" height="1" fill="#464646"/>
<rect x="220" y="357" width="1" height="1" fill="#f0f0f0"/>
<rect x="370" y="357" width="1" height="1" fill="#dcdcdc"/>
<rect x="371" y="357" width="1" height="1" fill="#555555"/>
<rect x="372" y="357" width="1" height="1" fill="#cdcdcd"/>
<rect x="218" y="470" width="1" height="1" fill="#a5a5a5"/>
<rect x="219" y="470" width="1" height="1" fill="#464646"/>
<rect x="220" y="470" width="1" height="1" fill="#e1e1e1"/>
<rect x="370" y="470" width="1" height="1" fill="#dcdcdc"/>
<rect x="371" y="470" width="1" height="1" fill="#555555"/>
<rect x="372" y="470" width="1" height="1" fill="#cdcdcd"/>
<rect x="218" y="471" width="1" height="1" fill="#a5a5a5"/>
<rect x="219" y="471" width="1" height="1" fill="#2a2a2a"/>
<rect x="220" y="471" width="1" height="1" fill="#2a2a2a"/>
<rect x="370" y="471" width="1" height="1" fill="#2a2a2a"/>
<rect x="371" y="471" width="1" height="1" fill="#2a2a2a"/>
<rect x="372" y="471" width="1" height="1" fill="#cdcdcd"/>
<rect x="218" y="472" width="1" height="1" fill="#cdcdcd"/>
<rect x="219" y="472" width="1" height="1" fill="#cdcdcd"/>
<rect x="220" y="472" width="1" height="1" fill="#cdcdcd"/>
<rect x="370" y="472" width="1" height="1" fill="#cdcdcd"/>
<rect x="371" y="472" width="1" height="1" fill="#cdcdcd"/>
<rect x="372" y="472" width="1" height="1" fill="#cdcdcd"/>
<line x1="236.7" y1="356.5" x2="236.7" y2="358.8" stroke="#3a3a3a" stroke-width="1.1"/>
<line x1="236.7" y1="471.5" x2="236.7" y2="469.2" stroke="#3a3a3a" stroke-width="1.1"/>
<line x1="295.6" y1="356.5" x2="295.6" y2="358.8" stroke="#3a3a3a" stroke-width="1.1"/>
<line x1="295.6" y1="471.5" x2="295.6" y2="469.2" stroke="#3a3a3a" stroke-width="1.1"/>
<line x1="354.5" y1="356.5" x2="354.5" y2="358.8" stroke="#3a3a3a" stroke-width="1.1"/>
<line x1="354.5" y1="471.5" x2="354.5" y2="469.2" stroke="#3a3a3a" stroke-width="1.1"/>
<line x1="219.5" y1="456.3" x2="221.8" y2="456.3" stroke="#3a3a3a" stroke-width="1.1"/>
<line x1="371.5" y1="456.3" x2="369.2" y2="456.3" stroke="#3a3a3a" stroke-width="1.1"/>
<line x1="219.5" y1="427.6" x2="221.8" y2="427.6" stroke="#3a3a3a" stroke-width="1.1"/>
<line x1="371.5" y1="427.6" x2="369.2" y2="427.6" stroke="#3a3a3a" stroke-width="1.1"/>
<line x1="219.5" y1="398.9" x2="221.8" y2="398.9" stroke="#3a3a3a" stroke-width="1.1"/>
<line x1="371.5" y1="398.9" x2="369.2" y2="398.9" stroke="#3a3a3a" stroke-width="1.1"/>
<line x1="219.5" y1="370.2" x2="221.8" y2="370.2" stroke="#3a3a3a" stroke-width="1.1"/>
<line x1="371.5" y1="370.2" x2="369.2" y2="370.2" stroke="#3a3a3a" stroke-width="1.1"/>
<text class="a" x="235.0" y="464.4" font-size="17.2" fill="#000" stroke="#000" stroke-width="0.28">-0.61</text>
<rect x="377" y="355" width="149" height="1" fill="#7a7a7a"/>
<rect x="377" y="356" width="149" height="1" fill="#5a5a5a"/>
<rect x="377" y="357" width="149" height="1" fill="#f0f0f0"/>
<rect x="377" y="470" width="149" height="1" fill="#e1e1e1"/>
<rect x="377" y="471" width="149" height="1" fill="#2a2a2a"/>
<rect x="377" y="472" width="149" height="1" fill="#cdcdcd"/>
<rect x="373" y="358" width="1" height="112" fill="#f0f0f0"/>
<rect x="374" y="358" width="1" height="112" fill="#606060"/>
<rect x="375" y="358" width="1" height="112" fill="#b0b0b0"/>
<rect x="376" y="358" width="1" height="112" fill="#f0f0f0"/>
<rect x="526" y="358" width="1" height="112" fill="#e6e6e6"/>
<rect x="527" y="358" width="1" height="112" fill="#7a7a7a"/>
<rect x="528" y="358" width="1" height="112" fill="#707070"/>
<rect x="529" y="358" width="1" height="112" fill="#f5f5f5"/>
<rect x="373" y="355" width="1" height="1" fill="#f0f0f0"/>
<rect x="374" y="355" width="1" height="1" fill="#7a7a7a"/>
<rect x="375" y="355" width="1" height="1" fill="#7a7a7a"/>
<rect x="376" y="355" width="1" height="1" fill="#7a7a7a"/>
<rect x="526" y="355" width="1" height="1" fill="#7a7a7a"/>
<rect x="527" y="355" width="1" height="1" fill="#7a7a7a"/>
<rect x="528" y="355" width="1" height="1" fill="#7a7a7a"/>
<rect x="529" y="355" width="1" height="1" fill="#f5f5f5"/>
<rect x="373" y="356" width="1" height="1" fill="#f0f0f0"/>
<rect x="374" y="356" width="1" height="1" fill="#5a5a5a"/>
<rect x="375" y="356" width="1" height="1" fill="#5a5a5a"/>
<rect x="376" y="356" width="1" height="1" fill="#5a5a5a"/>
<rect x="526" y="356" width="1" height="1" fill="#5a5a5a"/>
<rect x="527" y="356" width="1" height="1" fill="#5a5a5a"/>
<rect x="528" y="356" width="1" height="1" fill="#5a5a5a"/>
<rect x="529" y="356" width="1" height="1" fill="#f5f5f5"/>
<rect x="373" y="357" width="1" height="1" fill="#f0f0f0"/>
<rect x="374" y="357" width="1" height="1" fill="#606060"/>
<rect x="375" y="357" width="1" height="1" fill="#b0b0b0"/>
<rect x="376" y="357" width="1" height="1" fill="#f0f0f0"/>
<rect x="526" y="357" width="1" height="1" fill="#e6e6e6"/>
<rect x="527" y="357" width="1" height="1" fill="#7a7a7a"/>
<rect x="528" y="357" width="1" height="1" fill="#707070"/>
<rect x="529" y="357" width="1" height="1" fill="#f5f5f5"/>
<rect x="373" y="470" width="1" height="1" fill="#f0f0f0"/>
<rect x="374" y="470" width="1" height="1" fill="#606060"/>
<rect x="375" y="470" width="1" height="1" fill="#b0b0b0"/>
<rect x="376" y="470" width="1" height="1" fill="#e1e1e1"/>
<rect x="526" y="470" width="1" height="1" fill="#e1e1e1"/>
<rect x="527" y="470" width="1" height="1" fill="#7a7a7a"/>
<rect x="528" y="470" width="1" height="1" fill="#707070"/>
<rect x="529" y="470" width="1" height="1" fill="#f5f5f5"/>
<rect x="373" y="471" width="1" height="1" fill="#f0f0f0"/>
<rect x="374" y="471" width="1" height="1" fill="#2a2a2a"/>
<rect x="375" y="471" width="1" height="1" fill="#2a2a2a"/>
<rect x="376" y="471" width="1" height="1" fill="#2a2a2a"/>
<rect x="526" y="471" width="1" height="1" fill="#2a2a2a"/>
<rect x="527" y="471" width="1" height="1" fill="#2a2a2a"/>
<rect x="528" y="471" width="1" height="1" fill="#2a2a2a"/>
<rect x="529" y="471" width="1" height="1" fill="#f5f5f5"/>
<rect x="373" y="472" width="1" height="1" fill="#f0f0f0"/>
<rect x="374" y="472" width="1" height="1" fill="#cdcdcd"/>
<rect x="375" y="472" width="1" height="1" fill="#cdcdcd"/>
<rect x="376" y="472" width="1" height="1" fill="#cdcdcd"/>
<rect x="526" y="472" width="1" height="1" fill="#cdcdcd"/>
<rect x="527" y="472" width="1" height="1" fill="#cdcdcd"/>
<rect x="528" y="472" width="1" height="1" fill="#cdcdcd"/>
<rect x="529" y="472" width="1" height="1" fill="#f5f5f5"/>
<line x1="398.7" y1="356.5" x2="398.7" y2="358.8" stroke="#3a3a3a" stroke-width="1.1"/>
<line x1="398.7" y1="471.5" x2="398.7" y2="469.2" stroke="#3a3a3a" stroke-width="1.1"/>
<line x1="436.1" y1="356.5" x2="436.1" y2="358.8" stroke="#3a3a3a" stroke-width="1.1"/>
<line x1="436.1" y1="471.5" x2="436.1" y2="469.2" stroke="#3a3a3a" stroke-width="1.1"/>
<line x1="473.5" y1="356.5" x2="473.5" y2="358.8" stroke="#3a3a3a" stroke-width="1.1"/>
<line x1="473.5" y1="471.5" x2="473.5" y2="469.2" stroke="#3a3a3a" stroke-width="1.1"/>
<line x1="510.9" y1="356.5" x2="510.9" y2="358.8" stroke="#3a3a3a" stroke-width="1.1"/>
<line x1="510.9" y1="471.5" x2="510.9" y2="469.2" stroke="#3a3a3a" stroke-width="1.1"/>
<line x1="374.5" y1="456.3" x2="376.8" y2="456.3" stroke="#3a3a3a" stroke-width="1.1"/>
<line x1="528.5" y1="456.3" x2="526.2" y2="456.3" stroke="#3a3a3a" stroke-width="1.1"/>
<line x1="374.5" y1="427.6" x2="376.8" y2="427.6" stroke="#3a3a3a" stroke-width="1.1"/>
<line x1="528.5" y1="427.6" x2="526.2" y2="427.6" stroke="#3a3a3a" stroke-width="1.1"/>
<line x1="374.5" y1="398.9" x2="376.8" y2="398.9" stroke="#3a3a3a" stroke-width="1.1"/>
<line x1="528.5" y1="398.9" x2="526.2" y2="398.9" stroke="#3a3a3a" stroke-width="1.1"/>
<line x1="374.5" y1="370.2" x2="376.8" y2="370.2" stroke="#3a3a3a" stroke-width="1.1"/>
<line x1="528.5" y1="370.2" x2="526.2" y2="370.2" stroke="#3a3a3a" stroke-width="1.1"/>
<text class="a" x="390.0" y="464.4" font-size="17.2" fill="#000" stroke="#000" stroke-width="0.28">-0.095</text>
<rect x="533" y="355" width="150" height="1" fill="#7a7a7a"/>
<rect x="533" y="356" width="150" height="1" fill="#5a5a5a"/>
<rect x="533" y="357" width="150" height="1" fill="#f0f0f0"/>
<rect x="533" y="470" width="150" height="1" fill="#e1e1e1"/>
<rect x="533" y="471" width="150" height="1" fill="#2a2a2a"/>
<rect x="533" y="472" width="150" height="1" fill="#cdcdcd"/>
<rect x="530" y="358" width="1" height="112" fill="#a5a5a5"/>
<rect x="531" y="358" width="1" height="112" fill="#4a4a4a"/>
<rect x="532" y="358" width="1" height="112" fill="#f0f0f0"/>
<rect x="683" y="358" width="1" height="112" fill="#f0f0f0"/>
<rect x="684" y="358" width="1" height="112" fill="#222222"/>
<rect x="530" y="355" width="1" height="1" fill="#a5a5a5"/>
<rect x="531" y="355" width="1" height="1" fill="#7a7a7a"/>
<rect x="532" y="355" width="1" height="1" fill="#7a7a7a"/>
<rect x="683" y="355" width="1" height="1" fill="#7a7a7a"/>
<rect x="684" y="355" width="1" height="1" fill="#7a7a7a"/>
<rect x="530" y="356" width="1" height="1" fill="#a5a5a5"/>
<rect x="531" y="356" width="1" height="1" fill="#4a4a4a"/>
<rect x="532" y="356" width="1" height="1" fill="#5a5a5a"/>
<rect x="683" y="356" width="1" height="1" fill="#5a5a5a"/>
<rect x="684" y="356" width="1" height="1" fill="#222222"/>
<rect x="530" y="357" width="1" height="1" fill="#a5a5a5"/>
<rect x="531" y="357" width="1" height="1" fill="#4a4a4a"/>
<rect x="532" y="357" width="1" height="1" fill="#f0f0f0"/>
<rect x="683" y="357" width="1" height="1" fill="#f0f0f0"/>
<rect x="684" y="357" width="1" height="1" fill="#222222"/>
<rect x="530" y="470" width="1" height="1" fill="#a5a5a5"/>
<rect x="531" y="470" width="1" height="1" fill="#4a4a4a"/>
<rect x="532" y="470" width="1" height="1" fill="#e1e1e1"/>
<rect x="683" y="470" width="1" height="1" fill="#e1e1e1"/>
<rect x="684" y="470" width="1" height="1" fill="#222222"/>
<rect x="530" y="471" width="1" height="1" fill="#a5a5a5"/>
<rect x="531" y="471" width="1" height="1" fill="#2a2a2a"/>
<rect x="532" y="471" width="1" height="1" fill="#2a2a2a"/>
<rect x="683" y="471" width="1" height="1" fill="#2a2a2a"/>
<rect x="684" y="471" width="1" height="1" fill="#222222"/>
<rect x="530" y="472" width="1" height="1" fill="#cdcdcd"/>
<rect x="531" y="472" width="1" height="1" fill="#cdcdcd"/>
<rect x="532" y="472" width="1" height="1" fill="#cdcdcd"/>
<rect x="683" y="472" width="1" height="1" fill="#cdcdcd"/>
<rect x="684" y="472" width="1" height="1" fill="#cdcdcd"/>
<line x1="549.1" y1="356.5" x2="549.1" y2="358.8" stroke="#3a3a3a" stroke-width="1.1"/>
<line x1="549.1" y1="471.5" x2="549.1" y2="469.2" stroke="#3a3a3a" stroke-width="1.1"/>
<line x1="607.9" y1="356.5" x2="607.9" y2="358.8" stroke="#3a3a3a" stroke-width="1.1"/>
<line x1="607.9" y1="471.5" x2="607.9" y2="469.2" stroke="#3a3a3a" stroke-width="1.1"/>
<line x1="666.7" y1="356.5" x2="666.7" y2="358.8" stroke="#3a3a3a" stroke-width="1.1"/>
<line x1="666.7" y1="471.5" x2="666.7" y2="469.2" stroke="#3a3a3a" stroke-width="1.1"/>
<line x1="531.5" y1="456.3" x2="533.8" y2="456.3" stroke="#3a3a3a" stroke-width="1.1"/>
<line x1="684.5" y1="456.3" x2="682.2" y2="456.3" stroke="#3a3a3a" stroke-width="1.1"/>
<line x1="531.5" y1="427.6" x2="533.8" y2="427.6" stroke="#3a3a3a" stroke-width="1.1"/>
<line x1="684.5" y1="427.6" x2="682.2" y2="427.6" stroke="#3a3a3a" stroke-width="1.1"/>
<line x1="531.5" y1="398.9" x2="533.8" y2="398.9" stroke="#3a3a3a" stroke-width="1.1"/>
<line x1="684.5" y1="398.9" x2="682.2" y2="398.9" stroke="#3a3a3a" stroke-width="1.1"/>
<line x1="531.5" y1="370.2" x2="533.8" y2="370.2" stroke="#3a3a3a" stroke-width="1.1"/>
<line x1="684.5" y1="370.2" x2="682.2" y2="370.2" stroke="#3a3a3a" stroke-width="1.1"/>
<text class="a" x="546.0" y="464.4" font-size="17.2" fill="#000" stroke="#000" stroke-width="0.28">-0.55</text>
<text class="s" x="55" y="125.6" font-size="17.5" text-anchor="end" fill="#111">-4</text>
<text class="s" x="55" y="97.1" font-size="17.5" text-anchor="end" fill="#111">-2</text>
<text class="s" x="55" y="68.6" font-size="17.5" text-anchor="end" fill="#111">0</text>
<text class="s" x="55" y="40.1" font-size="17.5" text-anchor="end" fill="#111">2</text>
<text class="s" x="55" y="11.6" font-size="17.5" text-anchor="end" fill="#111">4</text>
<text class="s" x="55" y="228.4" font-size="17.5" text-anchor="end" fill="#111">-10</text>
<text class="s" x="55" y="191.0" font-size="17.5" text-anchor="end" fill="#111">0</text>
<text class="s" x="55" y="153.6" font-size="17.5" text-anchor="end" fill="#111">10</text>
<text class="s" x="55" y="333.4" font-size="17.5" text-anchor="end" fill="#111">-2</text>
<text class="s" x="55" y="299.9" font-size="17.5" text-anchor="end" fill="#111">0</text>
<text class="s" x="55" y="266.4" font-size="17.5" text-anchor="end" fill="#111">2</text>
<text class="s" x="55" y="462.1" font-size="17.5" text-anchor="end" fill="#111">-10</text>
<text class="s" x="55" y="433.4" font-size="17.5" text-anchor="end" fill="#111">-5</text>
<text class="s" x="55" y="404.7" font-size="17.5" text-anchor="end" fill="#111">0</text>
<text class="s" x="55" y="376.0" font-size="17.5" text-anchor="end" fill="#111">5</text>
<text class="s" x="80.3" y="494.6" font-size="17.5" text-anchor="middle" fill="#111">-20</text>
<text class="s" x="139.6" y="494.6" font-size="17.5" text-anchor="middle" fill="#111">0</text>
<text class="s" x="198.9" y="494.6" font-size="17.5" text-anchor="middle" fill="#111">20</text>
<text class="s" x="236.7" y="494.6" font-size="17.5" text-anchor="middle" fill="#111">-20</text>
<text class="s" x="295.6" y="494.6" font-size="17.5" text-anchor="middle" fill="#111">0</text>
<text class="s" x="354.5" y="494.6" font-size="17.5" text-anchor="middle" fill="#111">20</text>
<text class="s" x="398.7" y="494.6" font-size="17.5" text-anchor="middle" fill="#111">-10</text>
<text class="s" x="436.1" y="494.6" font-size="17.5" text-anchor="middle" fill="#111">0</text>
<text class="s" x="473.5" y="494.6" font-size="17.5" text-anchor="middle" fill="#111">10</text>
<text class="s" x="510.9" y="494.6" font-size="17.5" text-anchor="middle" fill="#111">20</text>
<text class="s" x="549.1" y="494.6" font-size="17.5" text-anchor="middle" fill="#111">-20</text>
<text class="s" x="607.9" y="494.6" font-size="17.5" text-anchor="middle" fill="#111">0</text>
<text class="s" x="666.7" y="494.6" font-size="17.5" text-anchor="middle" fill="#111">20</text>
<text class="s" x="139.2" y="518.1" font-size="19.5" text-anchor="middle" fill="#111">SD<tspan font-size="16" dy="10">tu</tspan><tspan dy="-10">/(cm)</tspan></text>
<text class="s" x="295.5" y="518.1" font-size="19.5" text-anchor="middle" fill="#111">SD<tspan font-size="16" dy="10">vu</tspan><tspan dy="-10">/(cm)</tspan></text>
<text class="s" x="451.0" y="518.1" font-size="19.5" text-anchor="middle" fill="#111">SD<tspan font-size="16" dy="10">td</tspan><tspan dy="-10">/(cm)</tspan></text>
<text class="s" x="607.2" y="518.1" font-size="19.5" text-anchor="middle" fill="#111">SD<tspan font-size="16" dy="10">vd</tspan><tspan dy="-10">/(cm)</tspan></text>
<text class="s" transform="translate(22.9,63.5) rotate(-90)" x="0" y="0" font-size="19.5" text-anchor="middle" fill="#111">SD<tspan font-size="16" dy="9.5">tn</tspan><tspan dy="-9.5">/(cm)</tspan></text>
<text class="s" transform="translate(13.6,180.5) rotate(-90)" x="0" y="0" font-size="19.5" text-anchor="middle" fill="#111">SD<tspan font-size="16" dy="9.5">ln</tspan><tspan dy="-9.5">/(cm)</tspan></text>
<text class="s" transform="translate(22.9,297.5) rotate(-90)" x="0" y="0" font-size="19.5" text-anchor="middle" fill="#111">SD<tspan font-size="16" dy="9.5">ts</tspan><tspan dy="-9.5">/(cm)</tspan></text>
<text class="s" transform="translate(13.6,414.2) rotate(-90)" x="0" y="0" font-size="19.5" text-anchor="middle" fill="#111">SD<tspan font-size="16" dy="9.5">ls</tspan><tspan dy="-9.5">/(cm)</tspan></text>
</svg></body></html>
